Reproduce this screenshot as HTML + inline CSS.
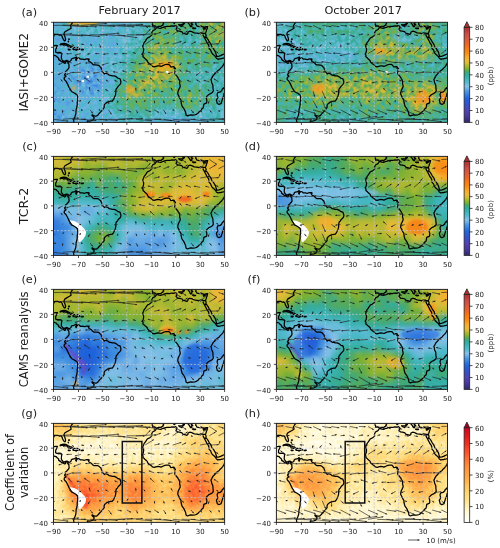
<!DOCTYPE html><html><head><meta charset="utf-8"><title>Ozone maps</title><style>html,body{margin:0;padding:0;background:#fff;width:500px;height:548px;overflow:hidden}
svg{display:block;font-family:'DejaVu Sans','Liberation Sans',sans-serif}
.tk{font-size:7px;fill:#1a1a1a}
.tt{font-size:11.3px;fill:#1a1a1a}
.yl{font-size:11.6px;fill:#1a1a1a}</style></head><body><svg width="500" height="548" viewBox="0 0 500 548"><defs><filter id="bl" x="-5%" y="-5%" width="110%" height="110%"><feGaussianBlur stdDeviation="1.6 1.6"/></filter><filter id="bl2" x="-20%" y="-20%" width="140%" height="140%"><feGaussianBlur stdDeviation="0.9"/></filter><path id="cst" d="M-97 -27.5 -94 -29.6 -91 -29.2 -89.5 -29.2 -89.5 -30.3 -88 -30.4 -86.5 -30.4 -85 -29.7 -84 -30 -83 -29 -82.7 -27.8 -81.8 -26.1 -81.1 -25.2 -80.4 -25.3 -80.1 -26.5 -80.6 -28.4 -81.2 -29.8 -81.4 -31 -80.8 -32.2 -79.2 -33.2 -78 -33.9 -76.6 -34.7 -75.6 -35.3 -75.8 -36.5 -76.1 -37.3 -75.4 -38.3 -75 -39 -74.3 -39.7 -74 -40.6 -73 -41M-95 -30 -97.5 -25 -97.8 -22 -96.5 -19.5 -94.5 -18.2 -92.5 -18.5 -91.2 -18.8 -90.5 -19.8 -90.4 -21 -88 -21.5 -86.8 -21.4 -87.5 -19.5 -88.2 -18.4 -88.3 -16.3 -87.2 -15.8 -85.5 -15.9 -84 -15.7 -83.2 -14.9 -83.5 -13 -83.6 -11.2 -83 -10 -82.2 -9.2 -81.4 -8.8 -80 -9.3 -79 -9.55 -77.8 -8.9 -77.3 -8.5 -76.5 -8.8 -75.6 -9.6 -75.4 -10.6 -74.5 -11.1 -73.2 -11.3 -72.2 -11.9 -71.3 -12.3 -71.1 -11.5 -71.6 -10.9 -71.9 -10.2 -71.4 -9.4 -71.1 -10.5 -70.4 -11.3 -69.8 -11.6 -68.6 -11.2 -68.1 -10.5 -66.4 -10.6 -64.5 -10.2 -63 -10.7 -61.9 -10.7 -61.5 -9.9 -60.8 -8.6 -59.9 -8.3 -58.6 -7.3 -58 -6.5 -57.1 -5.9 -55.9 -5.9 -54 -5.8 -52.9 -5.5 -51.7 -4.2 -51.2 -4 -50.6 -2.1 -50 -1.7 -49.9 -1 -50.7 -0.2 -49.2 0.2 -48.4 1.3 -47.8 0.6 -46.6 0.9 -45.4 1.4 -44.4 2.3 -43.4 2.4 -41.8 2.8 -40.2 2.8 -38.5 3.6 -37.2 4.7 -35.6 5.1 -35.1 6.5 -34.8 7.7 -35.1 9 -35.9 10 -37 11 -37.8 12.3 -38.6 13 -39 14.5 -39 16 -39.2 17.6 -39.7 19.2 -40.3 20.5 -41 21.8 -41.9 22.9 -43.1 22.95 -44.6 23.3 -45.9 23.8 -47.1 24.6 -48.2 25.6 -48.6 26.8 -48.5 28 -49 28.7 -50.1 30.1 -51 31.2 -52.1 32.2 -53.3 33.6 -53.9 34.4 -54.9 34.9 -56.2 34.9 -57.3 34.5 -58.4 33.9 -58.5 34.5 -57.3 35.6 -56.7 36.3 -57 37.2 -57.7 38.1 -59.2 38.7 -61.2 39 -62.1 38.8 -62.3 39.5 -62.1 40.6 -63 41.2M-91 -14 -89.5 -13.6 -88 -13.1 -87.5 -12.9 -87.3 -12.4 -86 -11.4 -85.7 -11 -85.8 -10.2 -85.1 -9.6 -84.7 -9.8 -84.2 -9.2 -83.6 -8.5 -82.9 -8.3 -82.3 -8.1 -81.5 -7.7 -80.9 -7.2 -80.4 -7.4 -80 -7.6 -80.4 -8.2 -79.7 -8.9 -79 -8.9 -78.5 -8.4 -78.1 -8 -78.4 -7.5 -77.9 -7.2 -77.4 -6.6 -77.4 -5.5 -77.2 -4.2 -77.5 -3.4 -78 -2.7 -78.7 -2.1 -79 -1.5 -80 -0.9 -80.4 -0.1 -80.1 0.9 -80.9 1.7 -80.6 2.5 -80 2.6 -79.8 3.2 -80.3 3.5 -81.1 4.1 -81.3 5.2 -80.9 6 -79.9 6.9 -79 8.4 -78.3 9.8 -77.2 12.1 -76.1 13.8 -75.3 15.3 -73.4 16.3 -71.5 17.4 -70.4 18.4 -70.2 20 -70.2 22.5 -70.6 24 -70.6 26.2 -71 28 -71.5 29.8 -71.6 32 -71.8 33.5 -72.3 35 -73.2 37.1 -73.6 38.2 -73.3 39.6 -73.8 41M-5.6 -35.9 -6.3 -35 -6.9 -34.2 -8.6 -33.3 -9.3 -32.5 -9.8 -31 -9.6 -29.9 -10.4 -29.1 -11.7 -28.1 -13 -27.6 -14 -26.3 -14.8 -25 -15.9 -23.7 -16.3 -22.5 -17 -21 -16.5 -19.6 -16.2 -18.3 -16.5 -16.2 -17.1 -14.9 -17.4 -14.7 -16.7 -13.6 -16.8 -12.4 -15.5 -11.4 -15 -10.8 -14.1 -10.1 -13.3 -9.3 -13 -8.2 -11.5 -6.9 -10.4 -6.2 -9 -4.8 -7.6 -4.4 -6.2 -4.8 -4.7 -5.2 -3.3 -5.1 -2 -4.7 -0.5 -5.4 1.1 -6.1 2.7 -6.3 4.3 -6.3 5.3 -5.5 5.9 -4.3 7 -4.4 8.5 -4.6 9.2 -3.9 9.8 -3.1 9.6 -2.3 9.5 -1 9.3 -0.3 9.1 0.5 9.6 1.5 10.9 3.1 11.8 4.2 12.3 5.4 12.9 6 13.3 7.5 13.2 8.8 13.6 10.4 13.7 11.4 12.9 13 12.2 14.4 11.8 15.8 11.7 17.4 12.3 18.5 13.4 20.8 14.3 22.2 14.4 23.9 14.8 25.5 15.2 26.9 16.4 28.5 17.2 29.9 18 31.7 18.3 32.9 18.4 34 19.6 34.8 20.7 34.4 22.5 34 24 34.1 25.7 33.9 26.8 33.6 28.2 32.7 29.3 31.5 30.6 30.4 31.3 29.3 32.4 28.5 32.8 27 32.9 26.1 33 25.4 35 24.6 35.5 23.7 35.4 21.9 34.8 20 35.8 18.8 37 17.7 38.5 17 40 16.1 40.8 14.7 40.5 12.6 40.4 10.3 39.4 8.2 39.2 6.7 38.8 5.9 39.4 4.8 40 3.6 40.9 2.2 41.6 1.7 43 0 44.1 -1 45.6 -2 46.6 -3.2 47.7 -4.2 48.6 -5.3 49.5 -6.8 50.2 -8.4 50.8 -9.5 51.1 -10.6 51.2 -11.8 50.7 -11.9 49.7 -11.5 48.9 -11.3 48 -11.1 46.6 -10.7 45.5 -10.7 44.6 -10.4 43.6 -11 43.1 -11.6 42.7 -12.5 41.5 -13.6 40.9 -14.1 39.7 -15.3 39.3 -15.9 38.5 -18 37.4 -18.9 37.1 -21.1 36.7 -22.2 35.5 -23.8 35.3 -24.4 34.4 -26.1 33.6 -27.6 32.9 -28.7 32.4 -29.9 32.6 -29.3 33.1 -28.4 33.6 -27.9 34.2 -27.8 34.6 -28.6 34.9 -29.5 34.3 -31.2 34.6 -31.8 35 -32.8 35.1 -33.5 35.7 -34.8 35.9 -35.9 36.2 -36.6 35.4 -36.6 34.1 -36.3 32.5 -36.1 31 -36.8 30.2 -36.3 28.5 -36.8 27.4 -37 26.8 -38 26.3 -38.6 26.6 -39.4 26.2 -40.1 26 -41M36 -35.9 35.7 -34.8 35.1 -33.5 35 -32.8 34.6 -31.8 34.3 -31.2 32.9 -31.1 31.7 -31.4 30 -31.5 29 -30.9 27.5 -31.3 25.2 -31.6 23.9 -32.1 23.1 -32.6 21.5 -32.9 20.1 -32.2 19.9 -31 19.1 -30.3 18 -30.8 15.7 -31.4 15.2 -32.3 13.1 -32.9 11.5 -33.1 10.9 -33.8 10.3 -33.8 10.1 -34.3 10.8 -35.1 11 -36.4 10.2 -37.2 9.5 -37.3 8.4 -36.9 6.3 -37.1 5.3 -36.7 3.2 -36.8 1.5 -36.6 0 -35.9 -1.2 -35.7 -2.2 -35.2 -3.6 -35.4 -5.2 -35.8 -5.6 -35.9M34.9 -29.5 34.6 -28.1 35.2 -28 36.6 -26 37.5 -24.3 38.5 -23 39.1 -22 39.2 -21.3 39.9 -20 40.9 -19.1 41.2 -18.4 42 -17.2 42.7 -16 42.8 -15.3 43 -14.6 43.3 -13.7 43.5 -12.7 44.5 -12.7 45.5 -13 46.7 -13.4 48 -14 49.1 -14.5 50.8 -15.2 52 -15.8M-9.5 -41 -8.8 -40 -9.4 -39.4 -9.5 -38.7 -8.8 -38.3 -8.8 -37.2 -8.9 -36.9 -7.5 -37.2 -6.5 -36.9 -6.2 -36.4 -5.4 -36.1 -4.4 -36.7 -2.1 -36.7 -1.4 -37.4 -0.7 -37.6 -0.4 -38.4 0.2 -38.8 -0.3 -39.5 0.2 -40.1 0.9 -41M19 -41 18.5 -40.3 17.9 -40.3 17.2 -40.5 16.5 -39.8 17.1 -39.4 17.2 -38.9 16.6 -38.8 16.1 -38 15.7 -37.9 15.9 -38.7 16.1 -39.4 15.6 -40.1 14.9 -40.2 14.5 -40.7 14 -41M19.5 -41 19.4 -40.3 20 -39.7 20.7 -38.9 21.3 -38.2 21.6 -37.3 22.2 -36.5 23 -36.5 22.8 -37.6 23.4 -38 24 -38.2 22.6 -38.9 23.3 -39.2 22.8 -40 23.9 -40.2 24.5 -40.9M12.4 -37.8 13.8 -37.1 15.1 -36.6 15.3 -37.2 15.6 -38.3 13.7 -38 12.4 -38.1 12.4 -37.8M8.4 -39 9.6 -39.2 9.8 -40.5 9.3 -41.3 8.2 -40.9 8.4 -39M23.5 -35.3 24.5 -35.4 26.3 -35.3 26.2 -35 24.7 -34.9 23.5 -35.3M32.3 -34.6 33 -34.6 34 -35 34.6 -35.7 33 -35.4 32.3 -34.6M49.3 12 49.9 13.1 50.5 15.3 50.2 16 49.5 17.1 49.4 18.5 48.5 20.5 47.9 22.4 47.1 24.9 45.4 25.6 44 24.9 43.7 23.6 43.3 22.1 43.9 21.2 44.4 20.1 44 18.4 43.9 17.4 44.4 16.2 45.5 15.9 46.3 15.8 47.7 14.6 48 13.6 48.8 13 49.3 12M-84.9 -21.9 -84 -22.7 -82.8 -23 -81.4 -23.2 -80.1 -23 -78.7 -22.4 -77.6 -21.8 -76.5 -21.2 -75.6 -21 -74.2 -20.3 -75.6 -19.9 -77.8 -19.9 -77.1 -20.4 -78.1 -20.7 -78.7 -21.6 -80.2 -21.8 -81.4 -22.2 -82.2 -22.4 -83.5 -22.2 -84.9 -21.9M-74.4 -18.4 -73.4 -19.6 -72.8 -19.9 -71.7 -19.7 -70.8 -19.9 -69.9 -19.6 -69.2 -19 -68.4 -18.6 -69.2 -18.4 -70.1 -18.2 -71 -18.3 -71.4 -17.6 -72.1 -18.1 -73.4 -18.2 -74.4 -18.4M-78.3 -18.4 -77.5 -18.5 -76.3 -18.2 -76.9 -17.9 -77.8 -18 -78.3 -18.4M-67.2 -18.5 -65.6 -18.4 -65.7 -18 -67.2 -18 -67.2 -18.5M-78 -26.7 -77 -26.6 -77.2 -26.2 -78 -26.7M-78.2 -25.2 -77.7 -24.3 -77.9 -24.9 -78.2 -25.2M-61.9 -10.1 -61 -10.8 -60.9 -10.1 -61.9 -10.1M8.5 -3.7 8.9 -3.5 8.7 -3.2 8.5 -3.7" fill="none" stroke="#000" stroke-width="1.25" vector-effect="non-scaling-stroke" stroke-linejoin="round"/><path id="grd" d="M-69.55 -40V40M-50 -40V40M-30 -40V40M-10 -40V40M10 -40V40M30 -40V40M-90 -20H50M-90 0H50M-90 20H50" stroke="#c4c4cc" stroke-width=".8" stroke-dasharray="2 1.6" vector-effect="non-scaling-stroke" fill="none"/><filter id="nfa" x="-90" y="-40" width="140" height="80" filterUnits="userSpaceOnUse"><feTurbulence type="fractalNoise" baseFrequency="0.3" numOctaves="2" seed="97"/><feColorMatrix type="matrix" values="0 0 0 0 1 0 0 0 0 1 0 0 0 0 1 2.2 0 0 0 -0.6"/></filter><mask id="nma" maskUnits="userSpaceOnUse" x="-90" y="-40" width="140" height="80"><rect x="-90" y="-40" width="140" height="80" filter="url(#nfa)"/></mask><filter id="nfb" x="-90" y="-40" width="140" height="80" filterUnits="userSpaceOnUse"><feTurbulence type="fractalNoise" baseFrequency="0.3" numOctaves="2" seed="98"/><feColorMatrix type="matrix" values="0 0 0 0 1 0 0 0 0 1 0 0 0 0 1 2.2 0 0 0 -0.6"/></filter><mask id="nmb" maskUnits="userSpaceOnUse" x="-90" y="-40" width="140" height="80"><rect x="-90" y="-40" width="140" height="80" filter="url(#nfb)"/></mask><filter id="nfg" x="-90" y="-40" width="140" height="80" filterUnits="userSpaceOnUse"><feTurbulence type="fractalNoise" baseFrequency="0.35" numOctaves="2" seed="103"/><feColorMatrix type="matrix" values="0 0 0 0 1 0 0 0 0 1 0 0 0 0 1 2.2 0 0 0 -0.6"/></filter><mask id="nmg" maskUnits="userSpaceOnUse" x="-90" y="-40" width="140" height="80"><rect x="-90" y="-40" width="140" height="80" filter="url(#nfg)"/></mask><filter id="nfh" x="-90" y="-40" width="140" height="80" filterUnits="userSpaceOnUse"><feTurbulence type="fractalNoise" baseFrequency="0.35" numOctaves="2" seed="104"/><feColorMatrix type="matrix" values="0 0 0 0 1 0 0 0 0 1 0 0 0 0 1 2.2 0 0 0 -0.6"/></filter><mask id="nmh" maskUnits="userSpaceOnUse" x="-90" y="-40" width="140" height="80"><rect x="-90" y="-40" width="140" height="80" filter="url(#nfh)"/></mask><g id="arfeb"><path d="M-90 -37.5l20.9 -0.34M-82.5 -37.5l20.59 1.02M-75 -37.5l20.38 1.13M-67.5 -37.5l20.97 -1.53M-60 -37.5l20.34 0.71M-52.5 -37.5l21.46 -0.41M-45 -37.5l21.02 1.06M-37.5 -37.5l20.87 -0.79M-30 -37.5l19.37 0.52M-22.5 -37.5l18.73 1.47M-15 -37.5l2.34 1.99M-7.5 -37.5l-0.03 3.14M0 -37.5l1.84 3.06M7.5 -37.5l6.77 3.53M15 -37.5l3.64 2.53M22.5 -37.5l2.42 2.27M30 -37.5l6.38 2.2M37.5 -37.5l6.2 4.08M45 -37.5l4.39 1.4M-90 -30l15.12 -0.76M-82.5 -30l16.84 0.77M-75 -30l15.43 0.53M-67.5 -30l15.35 1.35M-60 -30l14.54 0.22M-52.5 -30l16.22 -1.31M-45 -30l13.69 0.91M-37.5 -30l15.94 2.27M-30 -30l14.67 0.11M-22.5 -30l16.63 -0.79M-15 -30l4.27 -4.55M-7.5 -30l5.42 -2.2M0 -30l4.73 -1.74M7.5 -30l4.7 -3.33M15 -30l4.74 -3.21M22.5 -30l1.54 0.53M30 -30l5.06 -5.57M37.5 -30l5.14 -3.08M45 -30l6.08 -3.12M-90 -22.5l0.25 0.57M-82.5 -22.5l1.47 1.68M-75 -22.5l1.72 1.45M-67.5 -22.5l2.53 0.26M-60 -22.5l1.53 1.15M-52.5 -22.5l1.29 2.75M-45 -22.5l0.14 0.06M-37.5 -22.5l-1 -0.49M-30 -22.5l-0.57 -0.39M-22.5 -22.5l0.46 -0.41M-15 -22.5l7.12 -4.43M-7.5 -22.5l4.45 -0.99M0 -22.5l4.65 -1.24M7.5 -22.5l7.14 -2.16M15 -22.5l3.43 -1.91M22.5 -22.5l4.04 -1.95M30 -22.5l7.89 -1.42M37.5 -22.5l7.42 -0.3M45 -22.5l1.4 -3.42M-90 -15l-3.83 -0.08M-82.5 -15l-4.66 -0.52M-75 -15l-4.41 0.16M-67.5 -15l-5.06 1.39M-60 -15l-2.28 0.58M-52.5 -15l-3.47 0.04M-45 -15l-4.3 0.58M-37.5 -15l-3.08 0.34M-30 -15l-3.97 -0.03M-22.5 -15l-2.46 -0.78M-15 -15l-3.36 0.64M-7.5 -15l-5.38 -1.08M0 -15l-2.7 0.16M7.5 -15l-3.18 -0.89M15 -15l-2.85 -1.05M22.5 -15l-4.32 -1.73M30 -15l-5.22 -0.98M37.5 -15l-3.24 -1M45 -15l-1.66 -1.69M-90 -7.5l-5.58 1.93M-82.5 -7.5l-3.34 1.16M-75 -7.5l-4.29 -0.96M-67.5 -7.5l-6.15 2.41M-60 -7.5l-3.98 -0.05M-52.5 -7.5l-4.56 -0.04M-45 -7.5l-5.26 1.73M-37.5 -7.5l-4.46 1.11M-30 -7.5l-6.15 -0.58M-22.5 -7.5l-4.34 -0.46M-15 -7.5l-5.4 0.75M-7.5 -7.5l-5.41 1.01M0 -7.5l-4.05 0.89M7.5 -7.5l-3.87 -0.39M15 -7.5l-1.97 1.59M22.5 -7.5l-3.26 0.1M30 -7.5l-4.29 1.65M37.5 -7.5l-4.8 -0.85M45 -7.5l-4.37 -0.09M-90 0l-4.13 -1.79M-82.5 0l-3.82 2.03M-75 0l-4.59 1.77M-67.5 0l-7.51 0.13M-60 0l-2.28 -0.53M-52.5 0l-5.14 0.6M-45 0l-2.51 -0.65M-37.5 0l-3.75 -0.41M-30 0l-3.76 -1.39M-22.5 0l-3.17 -0.72M-15 0l-4.99 -1.06M-7.5 0l-4.58 -1.72M0 0l-5.25 -0.32M7.5 0l-3.81 1.04M15 0l-1.84 -2.14M22.5 0l-4.33 -1.35M30 0l-3.37 2.5M37.5 0l-3.51 -0.41M45 0l-3.71 0.75M-90 7.5l-3.16 -1.22M-82.5 7.5l-1.5 -1.81M-75 7.5l-2.86 -3.17M-67.5 7.5l-3.48 -0.98M-60 7.5l-4.92 -3.21M-52.5 7.5l-1.75 -2.47M-45 7.5l-2.09 -1.55M-37.5 7.5l-2.6 -1.14M-30 7.5l-3.08 -1.49M-22.5 7.5l-1.13 -2.06M-15 7.5l-2.92 -0.76M-7.5 7.5l-3.57 -3.25M0 7.5l-2.27 -1.5M7.5 7.5l-3.24 -0.16M15 7.5l-2.93 -2.42M22.5 7.5l-3.3 -1.17M30 7.5l-3.1 -1.55M37.5 7.5l-4.67 -1.16M45 7.5l-3.82 -2.43M-90 15l-2.3 -1.61M-82.5 15l0.31 -0.59M-75 15l-2.11 -1.17M-67.5 15l-1.43 0.18M-60 15l-0.9 -3.25M-52.5 15l-1.72 -0.72M-45 15l-2.62 -1.31M-37.5 15l-2.85 0.31M-30 15l0.03 0.08M-22.5 15l-0.19 -2.69M-15 15l-1.13 -1.58M-7.5 15l0.8 -0.73M0 15l-2.1 0.59M7.5 15l-1.38 -2.64M15 15l-0.33 0.12M22.5 15l-2.4 -0.38M30 15l-1.09 -0.72M37.5 15l-1.18 -1.29M45 15l-1.77 -0.9M-90 22.5l0.71 1.05M-82.5 22.5l1.05 -1.18M-75 22.5l1.15 0.89M-67.5 22.5l-1.45 0.51M-60 22.5l-1.74 2.56M-52.5 22.5l1.45 0.14M-45 22.5l0.3 2.9M-37.5 22.5l0.05 1.72M-30 22.5l1.2 -1.62M-22.5 22.5l0.72 1.84M-15 22.5l-0.86 1.01M-7.5 22.5l0.27 2.26M0 22.5l0.61 2.26M7.5 22.5l1.74 -0.26M15 22.5l1.71 1.49M22.5 22.5l1.06 1.1M30 22.5l0.03 1.34M37.5 22.5l-1.01 2.6M45 22.5l1.38 1.17M-90 30l2.15 0.28M-82.5 30l-0.08 2.32M-75 30l2.1 0.98M-67.5 30l1.47 0.25M-60 30l2.14 2.81M-52.5 30l0.84 0.51M-45 30l2.43 3.59M-37.5 30l3.44 0.74M-30 30l3.43 1.86M-22.5 30l1.56 2.71M-15 30l4.79 1.63M-7.5 30l3.71 2.16M0 30l2.09 3.33M7.5 30l1.46 0.3M15 30l0.47 0.2M22.5 30l2.28 2.62M30 30l1.33 1.95M37.5 30l1.84 2.04M45 30l0.96 1.77M-90 37.5l12.13 1.47M-82.5 37.5l13.25 -1.01M-75 37.5l11.56 0M-67.5 37.5l12.56 1.11M-60 37.5l14.27 0.59M-52.5 37.5l15.01 0.89M-45 37.5l13.74 0.26M-37.5 37.5l12.44 -0.67M-30 37.5l13.12 -0.69M-22.5 37.5l13.25 1.24M-15 37.5l13.18 -0.06M-7.5 37.5l14.39 1.03M0 37.5l13.26 1.96M7.5 37.5l14.04 1.23M15 37.5l11.24 0.07M22.5 37.5l14.56 1.74M30 37.5l12.06 0.85M37.5 37.5l12.01 -0.43M45 37.5l12.38 0.82" stroke="#1e1e1e" stroke-width=".65" vector-effect="non-scaling-stroke" fill="none"/><path d="M-69.1 -37.84L-70.49 -37.22L-70.51 -38.42zM-61.91 -36.48L-63.34 -35.95L-63.28 -37.15zM-54.62 -36.37L-56.05 -35.85L-55.98 -37.05zM-46.53 -39.03L-47.88 -38.33L-47.97 -39.52zM-39.66 -36.79L-41.08 -36.24L-41.04 -37.44zM-31.04 -37.91L-32.43 -37.28L-32.45 -38.48zM-23.98 -36.44L-25.41 -35.91L-25.35 -37.11zM-16.63 -38.29L-18.01 -37.64L-18.06 -38.84zM-10.63 -36.98L-12.05 -36.42L-12.02 -37.62zM-3.77 -36.03L-5.21 -35.54L-5.12 -36.74zM-12.66 -35.51L-14.11 -35.96L-13.34 -36.88zM-7.53 -34.36L-8.12 -35.76L-6.92 -35.75zM1.84 -34.44L0.61 -35.33L1.63 -35.95zM14.27 -33.97L12.75 -34.09L13.3 -35.15zM18.64 -34.97L17.15 -35.27L17.83 -36.26zM24.92 -35.23L23.49 -35.75L24.31 -36.63zM36.38 -35.3L34.86 -35.19L35.26 -36.32zM43.7 -33.42L42.2 -33.69L42.86 -34.69zM49.39 -36.1L47.88 -35.95L48.24 -37.1zM-74.88 -30.76L-76.24 -30.09L-76.3 -31.29zM-65.66 -29.23L-67.09 -28.69L-67.03 -29.89zM-59.57 -29.47L-60.99 -28.92L-60.95 -30.12zM-52.15 -28.65L-53.6 -28.17L-53.5 -29.37zM-45.46 -29.78L-46.87 -29.2L-46.85 -30.4zM-36.28 -31.31L-37.62 -30.6L-37.72 -31.79zM-31.31 -29.09L-32.75 -28.59L-32.67 -29.79zM-21.56 -27.73L-23.03 -27.33L-22.86 -28.52zM-15.33 -29.89L-16.73 -29.3L-16.72 -30.5zM-5.87 -30.79L-7.24 -30.12L-7.29 -31.32zM-10.73 -34.55L-11.25 -33.12L-12.12 -33.94zM-2.08 -32.2L-3.15 -31.12L-3.6 -32.23zM4.73 -31.74L3.62 -30.7L3.21 -31.82zM12.2 -33.33L11.41 -32.03L10.71 -33.01zM19.74 -33.21L18.92 -31.92L18.24 -32.92zM24.04 -29.47L22.52 -29.36L22.91 -30.49zM35.06 -35.57L34.56 -34.13L33.68 -34.94zM42.64 -33.08L41.75 -31.84L41.13 -32.87zM51.08 -33.12L50.11 -31.94L49.57 -33.01zM-81.03 -20.82L-82.41 -21.48L-81.5 -22.27zM-73.28 -21.05L-74.74 -21.49L-73.96 -22.41zM-64.97 -22.24L-66.42 -21.79L-66.3 -22.98zM-58.47 -21.35L-59.95 -21.71L-59.23 -22.67zM-51.21 -19.75L-52.35 -20.76L-51.26 -21.27zM-38.5 -22.99L-36.98 -22.91L-37.51 -21.84zM-7.88 -26.93L-8.75 -25.68L-9.38 -26.7zM-3.05 -23.49L-4.29 -22.6L-4.55 -23.77zM4.65 -23.74L3.46 -22.8L3.15 -23.96zM14.64 -24.66L13.47 -23.68L13.12 -24.83zM18.43 -24.41L17.5 -23.2L16.92 -24.25zM26.54 -24.45L25.54 -23.3L25.02 -24.38zM37.89 -23.92L36.62 -23.08L36.41 -24.26zM44.92 -22.8L43.55 -22.15L43.5 -23.35zM46.4 -25.92L46.43 -24.4L45.32 -24.85zM-93.83 -15.08L-92.41 -15.65L-92.44 -14.45zM-87.16 -15.52L-85.7 -15.96L-85.83 -14.77zM-79.41 -14.84L-78.04 -15.49L-77.99 -14.29zM-72.56 -13.61L-71.37 -14.56L-71.05 -13.4zM-62.28 -14.42L-61.07 -15.35L-60.77 -14.18zM-55.97 -14.96L-54.57 -15.58L-54.56 -14.38zM-49.3 -14.42L-48 -15.2L-47.84 -14.01zM-40.58 -14.66L-39.26 -15.41L-39.12 -14.21zM-33.97 -15.03L-32.57 -15.62L-32.58 -14.42zM-24.96 -15.78L-23.44 -15.93L-23.8 -14.78zM-18.36 -14.36L-17.1 -15.21L-16.88 -14.03zM-12.88 -16.08L-11.38 -16.39L-11.62 -15.22zM-2.7 -14.84L-1.34 -15.52L-1.27 -14.32zM4.32 -15.89L5.83 -16.09L5.5 -14.94zM12.15 -16.05L13.67 -16.13L13.25 -15zM18.18 -16.73L19.7 -16.76L19.26 -15.65zM24.78 -15.98L26.27 -16.31L26.04 -15.13zM34.26 -16L35.78 -16.16L35.42 -15.01zM43.34 -16.69L44.75 -16.11L43.89 -15.27zM-95.58 -5.57L-94.45 -6.6L-94.06 -5.46zM-85.84 -6.34L-84.72 -7.37L-84.32 -6.23zM-79.29 -8.46L-77.79 -8.74L-78.05 -7.57zM-73.65 -5.09L-72.56 -6.16L-72.13 -5.05zM-63.98 -7.55L-62.57 -8.13L-62.59 -6.93zM-57.06 -7.54L-55.65 -8.13L-55.66 -6.93zM-50.26 -5.77L-49.11 -6.78L-48.74 -5.64zM-41.96 -6.39L-40.75 -7.31L-40.46 -6.15zM-36.15 -8.08L-34.7 -8.54L-34.81 -7.35zM-26.84 -7.96L-25.39 -8.41L-25.52 -7.22zM-20.4 -6.75L-19.1 -7.54L-18.93 -6.35zM-12.91 -6.49L-11.65 -7.34L-11.43 -6.16zM-4.05 -6.61L-2.81 -7.49L-2.56 -6.32zM3.63 -7.89L5.08 -8.34L4.96 -7.15zM13.03 -5.91L13.75 -7.26L14.5 -6.32zM19.24 -7.4L20.62 -8.04L20.66 -6.84zM25.71 -5.85L26.8 -6.91L27.23 -5.79zM32.7 -8.35L34.18 -8.69L33.97 -7.51zM40.63 -7.59L42.04 -8.16L42.02 -6.96zM-94.13 -1.79L-92.61 -1.78L-93.09 -0.68zM-86.32 2.03L-85.37 0.85L-84.81 1.91zM-79.59 1.77L-78.5 0.71L-78.07 1.83zM-75.01 0.13L-73.62 -0.49L-73.6 0.71zM-62.28 -0.53L-60.78 -0.8L-61.05 0.37zM-57.64 0.6L-56.32 -0.16L-56.18 1.03zM-47.51 -0.65L-46.01 -0.88L-46.31 0.28zM-41.25 -0.41L-39.79 -0.86L-39.92 0.34zM-33.76 -1.39L-32.23 -1.47L-32.65 -0.34zM-25.67 -0.72L-24.17 -1L-24.44 0.17zM-19.99 -1.06L-18.49 -1.35L-18.74 -0.18zM-12.08 -1.72L-10.56 -1.79L-10.98 -0.67zM-5.25 -0.32L-3.82 -0.83L-3.89 0.37zM3.69 1.04L4.89 0.09L5.2 1.25zM13.16 -2.14L14.53 -1.47L13.62 -0.69zM18.17 -1.35L19.69 -1.51L19.33 -0.36zM26.63 2.5L27.4 1.19L28.11 2.15zM33.99 -0.41L35.44 -0.84L35.31 0.35zM41.29 0.75L42.55 -0.11L42.79 1.06zM-93.16 6.28L-91.63 6.22L-92.07 7.34zM-84 5.69L-82.64 6.39L-83.56 7.15zM-77.86 4.33L-76.47 4.97L-77.36 5.77zM-70.98 6.52L-69.47 6.32L-69.8 7.48zM-64.92 4.29L-63.42 4.55L-64.08 5.55zM-54.25 5.03L-52.95 5.83L-53.93 6.52zM-47.09 5.95L-45.61 6.3L-46.32 7.27zM-40.1 6.36L-38.58 6.37L-39.06 7.47zM-33.08 6.01L-31.56 6.08L-32.08 7.16zM-23.63 5.44L-22.43 6.38L-23.48 6.96zM-17.92 6.74L-16.41 6.51L-16.71 7.67zM-11.07 4.25L-9.63 4.75L-10.44 5.63zM-2.27 6L-0.77 6.27L-1.44 7.27zM4.26 7.34L5.68 6.81L5.62 8.01zM12.07 5.08L13.53 5.51L12.77 6.43zM19.2 6.33L20.72 6.24L20.32 7.37zM26.9 5.95L28.42 6.04L27.88 7.11zM32.83 6.34L34.34 6.1L34.05 7.26zM41.18 5.07L42.68 5.31L42.03 6.32zM-92.3 13.39L-90.81 13.7L-91.5 14.69zM-77.11 13.83L-75.6 13.98L-76.18 15.03zM-68.93 15.18L-67.61 14.41L-67.46 15.6zM-60.9 11.75L-59.95 12.94L-61.1 13.26zM-54.22 14.28L-52.7 14.27L-53.16 15.37zM-47.62 13.69L-46.1 13.78L-46.63 14.85zM-40.35 15.31L-39.02 14.56L-38.89 15.76zM-22.69 12.31L-21.99 13.67L-23.19 13.75zM-16.13 13.42L-14.83 14.21L-15.8 14.91zM-6.7 14.27L-7.33 15.66L-8.14 14.77zM-2.1 15.59L-0.92 14.64L-0.59 15.79zM6.12 12.36L7.3 13.33L6.24 13.88zM20.1 14.62L21.58 14.25L21.39 15.43zM28.91 14.28L30.41 14.55L29.75 15.55zM36.32 13.71L37.71 14.34L36.82 15.15zM43.23 14.1L44.75 14.2L44.21 15.27zM-89.29 23.55L-90.57 22.72L-89.58 22.05zM-81.45 21.32L-81.93 22.76L-82.83 21.97zM-73.85 23.39L-75.33 23.01L-74.59 22.06zM-68.95 23.01L-67.82 21.98L-67.43 23.11zM-61.74 25.06L-61.45 23.56L-60.46 24.24zM-51.05 22.64L-52.5 23.1L-52.38 21.91zM-44.7 25.4L-45.44 24.07L-44.25 23.94zM-37.45 24.22L-38.09 22.84L-36.89 22.81zM-28.8 20.88L-29.15 22.36L-30.11 21.64zM-21.78 24.34L-22.85 23.25L-21.73 22.82zM-15.86 23.51L-15.41 22.06L-14.5 22.83zM-7.23 24.76L-7.99 23.44L-6.8 23.3zM0.61 24.76L-0.34 23.57L0.82 23.25zM9.24 22.24L7.95 23.04L7.77 21.85zM16.71 23.99L15.26 23.52L16.05 22.62zM23.56 23.6L22.16 23.01L23.02 22.18zM30.03 23.84L29.4 22.45L30.6 22.42zM36.49 25.1L36.44 23.57L37.56 24.01zM46.38 23.67L44.92 23.22L45.7 22.31zM-87.85 30.28L-89.32 30.69L-89.16 29.51zM-82.58 32.32L-83.13 30.9L-81.93 30.94zM-72.9 30.98L-74.42 30.93L-73.92 29.84zM-66.03 30.25L-67.51 30.61L-67.31 29.42zM-57.86 32.81L-59.19 32.06L-58.23 31.33zM-51.66 30.51L-53.17 30.3L-52.55 29.27zM-42.57 33.59L-43.85 32.77L-42.86 32.09zM-34.06 30.74L-35.56 31.03L-35.31 29.86zM-26.57 31.86L-28.09 31.72L-27.51 30.67zM-20.94 32.71L-22.16 31.8L-21.12 31.2zM-10.21 31.63L-11.73 31.74L-11.34 30.61zM-3.79 32.16L-5.3 31.98L-4.7 30.94zM2.09 33.33L0.83 32.46L1.85 31.83zM8.96 30.3L7.47 30.61L7.71 29.43zM24.78 32.62L23.41 31.96L24.32 31.17zM31.33 31.95L30.04 31.13L31.04 30.45zM39.34 32.04L37.96 31.4L38.85 30.6zM45.96 31.77L44.76 30.83L45.82 30.26zM-77.87 38.97L-79.33 39.4L-79.19 38.21zM-69.25 36.49L-70.61 37.2L-70.7 36zM-63.44 37.5L-64.84 38.1L-64.84 36.9zM-54.94 38.61L-56.39 39.09L-56.28 37.89zM-45.73 38.09L-47.15 38.63L-47.1 37.43zM-37.49 38.39L-38.92 38.91L-38.85 37.71zM-31.26 37.76L-32.67 38.33L-32.65 37.13zM-25.06 36.83L-26.43 37.5L-26.49 36.31zM-16.88 36.81L-18.24 37.48L-18.31 36.29zM-9.25 38.74L-10.7 39.2L-10.59 38.01zM-1.82 37.44L-3.21 38.05L-3.22 36.85zM6.89 38.53L5.45 39.03L5.54 37.83zM13.26 39.46L11.78 39.85L11.96 38.66zM21.54 38.73L20.1 39.21L20.2 38.01zM26.24 37.57L24.84 38.16L24.84 36.96zM37.06 39.24L35.6 39.67L35.74 38.48zM42.06 38.35L40.62 38.85L40.71 37.65zM49.51 37.07L48.13 37.72L48.09 36.52zM57.38 38.32L55.94 38.83L56.02 37.63z" fill="#1e1e1e"/></g><g id="aroct"><path d="M-90 -37.5l5.74 -0.6M-82.5 -37.5l7.1 1.53M-75 -37.5l5.36 1.55M-67.5 -37.5l6.35 1.01M-60 -37.5l6.55 3.06M-52.5 -37.5l7.49 1.06M-45 -37.5l6.48 1.11M-37.5 -37.5l5.27 0.42M-30 -37.5l6.64 1.18M-22.5 -37.5l5.53 0.17M-15 -37.5l4.71 2.68M-7.5 -37.5l6.15 1.71M0 -37.5l3.51 1.88M7.5 -37.5l5.17 2.31M15 -37.5l4 0.91M22.5 -37.5l6.72 1.22M30 -37.5l4.85 0.51M37.5 -37.5l6.52 1.29M45 -37.5l6.32 -0.24M-90 -30l2.61 0.93M-82.5 -30l3.25 -0.28M-75 -30l4.1 1.46M-67.5 -30l2.1 0.96M-60 -30l0.87 -0.14M-52.5 -30l3.45 0.84M-45 -30l4.43 -0.94M-37.5 -30l3.57 -0.46M-30 -30l3.94 1.52M-22.5 -30l3.55 -0.69M-15 -30l0.83 -0.4M-7.5 -30l2.56 -0.89M0 -30l2.35 0.02M7.5 -30l3.24 1M15 -30l3.53 0.12M22.5 -30l3.41 0.59M30 -30l4.09 -0.69M37.5 -30l2.65 -0.72M45 -30l4.29 -2.04M-90 -22.5l-3.69 -0.53M-82.5 -22.5l-1.37 0.58M-75 -22.5l-3.05 -0.96M-67.5 -22.5l-3.34 -0.17M-60 -22.5l-0.42 2.3M-52.5 -22.5l-2.24 1.97M-45 -22.5l-1.62 -1.25M-37.5 -22.5l0.41 2.5M-30 -22.5l-2.56 -0.33M-22.5 -22.5l-0.1 -0.01M-15 -22.5l-2.75 0.14M-7.5 -22.5l-1.92 0.71M0 -22.5l-2.74 0.03M7.5 -22.5l-1.55 0.58M15 -22.5l-2.15 1.94M22.5 -22.5l-2.45 -0.9M30 -22.5l-2.12 2.12M37.5 -22.5l-0.38 -0.13M45 -22.5l0.5 0.4M-90 -15l-6.23 1.65M-82.5 -15l-4.19 -2.93M-75 -15l-6.64 0.74M-67.5 -15l-5.02 0.95M-60 -15l-6.01 0.4M-52.5 -15l-5.48 -1.25M-45 -15l-5.67 -1.05M-37.5 -15l-6.18 -0.37M-30 -15l-8.14 1.65M-22.5 -15l-4.79 0.67M-15 -15l6.01 -3.62M-7.5 -15l4.09 -2.16M0 -15l4.23 -2.76M7.5 -15l2.92 -2.78M15 -15l5.3 -2.24M22.5 -15l5.47 -4.59M30 -15l5.12 -3.29M37.5 -15l4.94 -3.02M45 -15l4.04 -2.97M-90 -7.5l-7.18 -0.71M-82.5 -7.5l-5.72 -0.35M-75 -7.5l-6.29 -0.11M-67.5 -7.5l-7.16 0.19M-60 -7.5l-7.22 -0.44M-52.5 -7.5l-6.63 -0.66M-45 -7.5l-8.16 -1.01M-37.5 -7.5l-7.52 0.84M-30 -7.5l-6.88 0.64M-22.5 -7.5l-6.32 0.65M-15 -7.5l-7.87 0.96M-7.5 -7.5l-5.15 -0.05M0 -7.5l-7.98 -0.01M7.5 -7.5l-8.42 -2.04M15 -7.5l-8.39 -0.55M22.5 -7.5l-6.03 1.65M30 -7.5l-6.31 -1.14M37.5 -7.5l-6.12 -0.3M45 -7.5l-5.57 -0.18M-90 0l-6.27 -0.33M-82.5 0l-5.93 0.6M-75 0l-5.75 0.1M-67.5 0l-7.89 -0.89M-60 0l-4.72 -1.57M-52.5 0l-7.24 -1.27M-45 0l-7.17 -0.33M-37.5 0l-6.55 2.17M-30 0l-6.43 0.7M-22.5 0l-7.45 1.21M-15 0l-8.38 0.6M-7.5 0l-5.71 -2.37M0 0l-6.68 -1.72M7.5 0l-6.95 1.7M15 0l-6.48 -0.98M22.5 0l-7.14 -0.82M30 0l-6 0.51M37.5 0l-8.33 -0.22M45 0l-6.89 -0.07M-90 7.5l-3.62 -2.44M-82.5 7.5l-5.22 -1.27M-75 7.5l-3.68 -1.29M-67.5 7.5l-3.56 -0.03M-60 7.5l-3.91 -2.78M-52.5 7.5l-3.83 0.23M-45 7.5l-4.06 -1.91M-37.5 7.5l-4.33 0.17M-30 7.5l-2.99 0.95M-22.5 7.5l-4.18 -0.46M-15 7.5l-6.11 -1.87M-7.5 7.5l-4.35 0.86M0 7.5l-4.06 0.02M7.5 7.5l-6.92 0.31M15 7.5l-4.45 -1.2M22.5 7.5l-4.56 -0.53M30 7.5l-4.21 -0.23M37.5 7.5l-3.41 -0.64M45 7.5l-4.41 -1.09M-90 15l-4.06 1.76M-82.5 15l-1.11 0.57M-75 15l-3.17 0.56M-67.5 15l-3.4 0.63M-60 15l1.35 4.44M-52.5 15l2.64 6.05M-45 15l3.23 2.26M-37.5 15l-4.31 0.57M-30 15l-3.2 0.73M-22.5 15l-4.92 2.26M-15 15l-2.33 0.99M-7.5 15l-0.99 1.75M0 15l-2.65 -2.37M7.5 15l-3.72 1.98M15 15l-2.89 1M22.5 15l-1.89 0.8M30 15l-3.71 0.71M37.5 15l0.16 -0.5M45 15l-6.02 1.11M-90 22.5l0.9 1.19M-82.5 22.5l1.7 -0.3M-75 22.5l2.96 0.88M-67.5 22.5l2.11 1.95M-60 22.5l3.36 6.03M-52.5 22.5l2.78 6.45M-45 22.5l0.2 4.73M-37.5 22.5l2.55 2.14M-30 22.5l3.09 1.4M-22.5 22.5l2.32 4.72M-15 22.5l1.63 1.29M-7.5 22.5l3.74 -0.2M0 22.5l3.53 3.22M7.5 22.5l-0.61 1.25M15 22.5l1.93 0.8M22.5 22.5l1.76 1.65M30 22.5l0.19 1.39M37.5 22.5l1.39 1.5M45 22.5l2.42 2.03M-90 30l7.96 2.87M-82.5 30l8.47 2.28M-75 30l6.98 3.52M-67.5 30l9.59 2.97M-60 30l8.73 2.4M-52.5 30l6.96 3.7M-45 30l7.74 2.56M-37.5 30l8.3 4.29M-30 30l6.92 2.96M-22.5 30l9.42 5.54M-15 30l8.1 3.47M-7.5 30l8.09 3.41M0 30l8.02 1.07M7.5 30l8 2.36M15 30l8.03 3.71M22.5 30l8.22 3.09M30 30l6.67 2.89M37.5 30l7.34 1.99M45 30l7.55 3.45M-90 37.5l15.91 -1.13M-82.5 37.5l15.7 -0.69M-75 37.5l14.12 0.48M-67.5 37.5l13.93 -1.08M-60 37.5l14.38 1.69M-52.5 37.5l14.21 1.61M-45 37.5l14.44 1.37M-37.5 37.5l12.81 -0.14M-30 37.5l14.16 1.89M-22.5 37.5l15.1 -2.47M-15 37.5l12.56 -2.07M-7.5 37.5l13.47 0.56M0 37.5l14.05 1.65M7.5 37.5l15.73 -0.56M15 37.5l13.39 0.32M22.5 37.5l12.52 0.4M30 37.5l15.32 1.96M37.5 37.5l13.75 -0.17M45 37.5l15.44 -1.54" stroke="#1e1e1e" stroke-width=".65" vector-effect="non-scaling-stroke" fill="none"/><path d="M-84.26 -38.1L-85.59 -37.36L-85.72 -38.55zM-75.4 -35.97L-76.9 -35.68L-76.65 -36.85zM-69.64 -35.95L-71.15 -35.76L-70.82 -36.91zM-61.15 -36.49L-62.63 -36.11L-62.44 -37.3zM-53.45 -34.44L-54.97 -34.49L-54.46 -35.58zM-45.01 -36.44L-46.48 -36.04L-46.32 -37.23zM-38.52 -36.39L-40.01 -36.04L-39.8 -37.22zM-32.23 -37.08L-33.68 -36.59L-33.58 -37.79zM-23.36 -36.32L-24.84 -35.97L-24.63 -37.15zM-16.97 -37.33L-18.39 -36.77L-18.36 -37.97zM-10.29 -34.82L-11.81 -34.99L-11.21 -36.04zM-1.35 -35.79L-2.86 -35.58L-2.54 -36.74zM3.51 -35.62L1.99 -35.75L2.56 -36.81zM12.67 -35.19L11.14 -35.21L11.63 -36.31zM19 -36.59L17.5 -36.32L17.77 -37.49zM29.22 -36.28L27.74 -35.94L27.95 -37.12zM34.85 -36.99L33.4 -36.54L33.52 -37.73zM44.02 -36.21L42.53 -35.89L42.76 -37.07zM51.32 -37.74L49.94 -37.09L49.9 -38.29zM-87.39 -29.07L-88.91 -28.98L-88.5 -30.11zM-79.25 -30.28L-80.6 -29.56L-80.7 -30.76zM-70.9 -28.54L-72.42 -28.44L-72.01 -29.57zM-65.4 -29.04L-66.93 -29.08L-66.43 -30.17zM-59.13 -30.14L-60.41 -29.32L-60.61 -30.51zM-49.05 -29.16L-50.55 -28.91L-50.27 -30.07zM-40.57 -30.94L-41.82 -30.06L-42.06 -31.23zM-33.93 -30.46L-35.25 -29.68L-35.4 -30.87zM-26.06 -28.48L-27.58 -28.43L-27.15 -29.54zM-18.95 -30.69L-20.21 -29.83L-20.44 -31.01zM-14.17 -30.4L-15.17 -29.25L-15.69 -30.34zM-4.94 -30.89L-6.06 -29.86L-6.45 -31zM2.35 -29.98L0.94 -29.39L0.95 -30.59zM10.74 -29L9.23 -28.84L9.58 -29.99zM18.53 -29.88L17.11 -29.33L17.15 -30.53zM25.91 -29.41L24.43 -29.05L24.64 -30.24zM34.09 -30.69L32.81 -29.87L32.61 -31.05zM40.15 -30.72L38.95 -29.77L38.64 -30.93zM49.29 -32.04L48.28 -30.9L47.76 -31.98zM-93.69 -23.03L-92.22 -23.43L-92.39 -22.24zM-83.87 -21.92L-82.82 -23.02L-82.35 -21.91zM-78.05 -23.46L-76.53 -23.61L-76.89 -22.47zM-70.84 -22.67L-69.41 -23.2L-69.47 -22zM-60.42 -20.2L-60.76 -21.69L-59.58 -21.47zM-54.74 -20.53L-54.09 -21.91L-53.3 -21zM-46.62 -23.75L-45.15 -23.37L-45.88 -22.42zM-37.09 -20L-37.91 -21.28L-36.73 -21.48zM-32.56 -22.83L-31.09 -23.24L-31.24 -22.05zM-17.75 -22.36L-16.38 -23.03L-16.32 -21.83zM-9.42 -21.79L-8.31 -22.84L-7.9 -21.71zM-2.74 -22.47L-1.34 -23.08L-1.33 -21.88zM5.95 -21.92L7.05 -22.97L7.47 -21.85zM12.85 -20.56L13.49 -21.94L14.29 -21.05zM20.05 -23.4L21.57 -23.48L21.15 -22.35zM27.88 -20.38L28.45 -21.8L29.3 -20.95zM-96.23 -13.35L-95.03 -14.29L-94.72 -13.13zM-86.69 -17.93L-85.2 -17.62L-85.89 -16.64zM-81.64 -14.26L-80.31 -15.01L-80.18 -13.82zM-72.52 -14.05L-71.26 -14.9L-71.03 -13.72zM-66.01 -14.6L-64.65 -15.29L-64.57 -14.1zM-57.98 -16.25L-56.48 -16.52L-56.75 -15.35zM-50.67 -16.05L-49.19 -16.38L-49.41 -15.2zM-43.68 -15.37L-42.25 -15.89L-42.32 -14.69zM-38.14 -13.35L-36.89 -14.21L-36.65 -13.04zM-27.29 -14.33L-25.99 -15.12L-25.82 -13.93zM-8.99 -18.62L-9.88 -17.38L-10.5 -18.41zM-3.41 -17.16L-4.37 -15.97L-4.93 -17.03zM4.23 -17.76L3.39 -16.49L2.73 -17.5zM10.42 -17.78L9.82 -16.38L8.99 -17.25zM20.3 -17.24L19.24 -16.14L18.78 -17.25zM27.97 -19.59L27.28 -18.23L26.51 -19.15zM35.12 -18.29L34.26 -17.02L33.61 -18.03zM42.44 -18.02L41.56 -16.77L40.93 -17.8zM49.04 -17.97L48.27 -16.66L47.56 -17.62zM-97.18 -8.21L-95.73 -8.67L-95.85 -7.47zM-88.22 -7.85L-86.78 -8.36L-86.86 -7.17zM-81.29 -7.61L-79.88 -8.18L-79.9 -6.98zM-74.66 -7.31L-73.28 -7.95L-73.25 -6.75zM-67.22 -7.94L-65.78 -8.46L-65.85 -7.26zM-59.13 -8.16L-57.68 -8.62L-57.8 -7.43zM-53.16 -8.51L-51.7 -8.94L-51.85 -7.74zM-45.02 -6.66L-43.69 -7.41L-43.56 -6.22zM-36.88 -6.86L-35.54 -7.59L-35.43 -6.39zM-28.82 -6.85L-27.49 -7.59L-27.36 -6.39zM-22.87 -6.54L-21.55 -7.3L-21.41 -6.11zM-12.65 -7.55L-11.25 -8.14L-11.26 -6.94zM-7.98 -7.51L-6.58 -8.11L-6.58 -6.91zM-0.92 -9.54L0.58 -9.79L0.3 -8.63zM6.61 -8.05L8.05 -8.55L7.97 -7.36zM16.47 -5.85L17.66 -6.8L17.98 -5.64zM23.69 -8.64L25.18 -8.98L24.96 -7.8zM31.38 -7.8L32.81 -8.33L32.75 -7.13zM39.43 -7.68L40.85 -8.24L40.81 -7.04zM-96.27 -0.33L-94.84 -0.86L-94.9 0.34zM-88.43 0.6L-87.1 -0.14L-86.98 1.05zM-80.75 0.1L-79.36 -0.52L-79.34 0.68zM-75.39 -0.89L-73.93 -1.33L-74.07 -0.14zM-64.72 -1.57L-63.2 -1.7L-63.58 -0.56zM-59.74 -1.27L-58.26 -1.62L-58.46 -0.44zM-52.17 -0.33L-50.74 -0.87L-50.8 0.33zM-44.05 2.17L-42.91 1.16L-42.53 2.3zM-36.43 0.7L-35.1 -0.05L-34.97 1.14zM-29.95 1.21L-28.66 0.39L-28.47 1.57zM-23.38 0.6L-22.03 -0.1L-21.94 1.1zM-13.21 -2.37L-11.69 -2.39L-12.15 -1.28zM-6.68 -1.72L-5.17 -1.95L-5.47 -0.79zM0.55 1.7L1.77 0.79L2.05 1.95zM8.52 -0.98L10 -1.37L9.82 -0.18zM15.36 -0.82L16.82 -1.26L16.68 -0.06zM24 0.51L25.35 -0.21L25.45 0.99zM29.17 -0.22L30.58 -0.79L30.55 0.41zM38.11 -0.07L39.52 -0.66L39.5 0.54zM-93.62 5.06L-92.13 5.34L-92.8 6.34zM-87.72 6.23L-86.22 5.98L-86.51 7.14zM-78.68 6.21L-77.16 6.11L-77.55 7.24zM-71.06 7.47L-69.65 6.88L-69.66 8.08zM-63.91 4.72L-62.42 5.04L-63.11 6.02zM-56.33 7.73L-54.97 7.05L-54.9 8.25zM-49.06 5.59L-47.54 5.64L-48.05 6.73zM-41.83 7.67L-40.45 7.01L-40.41 8.21zM-32.99 8.45L-31.84 7.45L-31.47 8.6zM-26.68 7.04L-25.22 6.6L-25.35 7.79zM-21.11 5.63L-19.6 5.47L-19.95 6.62zM-11.85 8.36L-10.6 7.5L-10.36 8.67zM-4.06 7.52L-2.67 6.91L-2.66 8.11zM0.58 7.81L1.95 7.15L2.01 8.35zM10.55 6.3L12.06 6.09L11.75 7.24zM17.94 6.97L19.4 6.54L19.26 7.73zM25.79 7.27L27.22 6.74L27.15 7.94zM34.09 6.86L35.58 6.53L35.36 7.71zM40.59 6.41L42.09 6.16L41.8 7.33zM-94.06 16.76L-93.01 15.65L-92.53 16.75zM-83.61 15.57L-82.64 14.4L-82.09 15.46zM-78.17 15.56L-76.9 14.73L-76.69 15.91zM-70.9 15.63L-69.63 14.79L-69.41 15.97zM-58.65 19.44L-59.63 18.27L-58.48 17.92zM-49.86 21.05L-50.97 20.01L-49.87 19.53zM-41.77 17.26L-43.26 16.95L-42.58 15.96zM-41.81 15.57L-40.5 14.79L-40.34 15.98zM-33.2 15.73L-31.97 14.83L-31.71 16zM-27.42 17.26L-26.39 16.13L-25.89 17.22zM-17.33 15.99L-16.27 14.89L-15.8 16zM-8.49 16.75L-8.32 15.24L-7.28 15.83zM-2.65 12.63L-1.21 13.12L-2.01 14.01zM3.78 16.98L4.73 15.79L5.3 16.85zM12.11 16L13.24 14.98L13.63 16.11zM20.61 15.8L21.67 14.7L22.14 15.81zM26.29 15.71L27.55 14.86L27.78 16.04zM38.98 16.11L40.25 15.27L40.46 16.45zM-89.1 23.69L-90.42 22.94L-89.47 22.21zM-80.8 22.2L-82.07 23.03L-82.28 21.85zM-72.04 23.38L-73.55 23.56L-73.21 22.41zM-65.39 24.45L-66.82 23.94L-66.01 23.06zM-56.64 28.53L-57.85 27.6L-56.8 27.02zM-49.72 28.95L-50.83 27.9L-49.73 27.43zM-44.8 27.23L-45.46 25.86L-44.26 25.81zM-34.95 24.64L-36.41 24.2L-35.64 23.28zM-26.91 23.9L-28.43 23.87L-27.94 22.78zM-20.18 27.22L-21.33 26.23L-20.26 25.7zM-13.37 23.79L-14.84 23.4L-14.09 22.45zM-3.76 22.3L-5.13 22.98L-5.19 21.78zM3.53 25.72L2.09 25.22L2.9 24.34zM6.89 23.75L6.97 22.23L8.04 22.75zM16.93 23.3L15.41 23.32L15.87 22.21zM24.26 24.15L22.83 23.63L23.65 22.75zM30.19 23.89L29.41 22.58L30.59 22.42zM38.89 24L37.5 23.38L38.38 22.57zM47.42 24.53L45.97 24.09L46.74 23.17zM-82.04 32.87L-83.56 32.96L-83.15 31.83zM-74.03 32.28L-75.54 32.49L-75.23 31.33zM-68.02 33.52L-69.54 33.43L-69 32.35zM-57.91 32.97L-59.43 33.13L-59.07 31.98zM-51.27 32.4L-52.78 32.61L-52.46 31.45zM-45.54 33.7L-47.06 33.58L-46.5 32.52zM-37.26 32.56L-38.78 32.69L-38.4 31.55zM-29.2 34.29L-30.72 34.18L-30.17 33.12zM-23.08 32.96L-24.6 32.96L-24.13 31.86zM-13.08 35.54L-14.59 35.35L-13.98 34.31zM-6.9 33.47L-8.42 33.47L-7.95 32.36zM0.59 33.41L-0.93 33.42L-0.47 32.31zM8.02 31.07L6.55 31.48L6.71 30.29zM15.5 32.36L13.99 32.54L14.33 31.39zM23.03 33.71L21.5 33.66L22.01 32.57zM30.72 33.09L29.2 33.16L29.62 32.03zM36.67 32.89L35.15 32.89L35.63 31.79zM44.84 31.99L43.33 32.2L43.65 31.05zM52.55 33.45L51.03 33.42L51.53 32.33zM-74.09 36.37L-75.44 37.07L-75.53 35.87zM-66.8 36.81L-68.17 37.47L-68.23 36.27zM-60.88 37.98L-62.29 38.53L-62.25 37.33zM-53.57 36.42L-54.92 37.13L-55.01 35.93zM-45.62 39.19L-47.08 39.62L-46.94 38.43zM-38.29 39.11L-39.75 39.55L-39.62 38.36zM-30.56 38.87L-32.01 39.34L-31.9 38.14zM-24.69 37.36L-26.08 37.98L-26.1 36.78zM-15.84 39.39L-17.31 39.8L-17.15 38.61zM-7.4 35.03L-8.68 35.85L-8.88 34.67zM-2.44 35.43L-3.72 36.25L-3.92 35.06zM5.97 38.06L4.54 38.6L4.59 37.41zM14.05 39.15L12.59 39.58L12.73 38.39zM23.23 36.94L21.85 37.59L21.81 36.39zM28.39 37.82L26.98 38.38L27.01 37.18zM35.02 37.9L33.6 38.45L33.64 37.25zM45.32 39.46L43.85 39.87L44 38.68zM51.25 37.33L49.86 37.95L49.85 36.75zM60.44 35.96L59.11 36.7L58.99 35.5z" fill="#1e1e1e"/></g></defs><svg x="53.5" y="22.3" width="171.1" height="100.1" viewBox="-90 -40 140 80" preserveAspectRatio="none"><g filter="url(#bl)"><g transform="translate(-95 -45) scale(5)" shape-rendering="crispEdges"><path fill="#43b6bf" d="M0 0h1v1h-1zM2 0h1v1h-1zM7 0h1v1h-1zM11 0h3v1h-3zM0 1h1v1h-1zM8 1h1v1h-1zM3 2h1v1h-1zM5 2h1v1h-1zM9 2h4v1h-4zM3 3h1v1h-1zM9 3h1v1h-1zM0 4h1v1h-1zM9 4h1v1h-1zM4 5h1v1h-1zM9 5h1v1h-1zM11 5h1v1h-1zM4 6h2v1h-2zM11 6h1v1h-1zM3 8h1v1h-1zM10 9h1v1h-1zM10 11h1v1h-1zM3 12h2v1h-2zM4 13h2v1h-2zM7 13h1v1h-1zM9 13h1v1h-1zM6 14h2v1h-2zM3 15h3v1h-3zM7 15h2v1h-2zM10 15h1v1h-1zM3 16h1v1h-1zM19 16h3v1h-3zM7 17h1v1h-1zM9 17h1v1h-1zM20 17h1v1h-1zM22 17h1v1h-1z"/><path fill="#3eb3b6" d="M1 0h1v1h-1zM3 0h4v1h-4zM10 0h1v1h-1zM4 1h1v1h-1zM7 1h1v1h-1zM10 1h1v1h-1zM14 1h1v1h-1zM11 3h2v1h-2zM15 3h1v1h-1zM5 4h1v1h-1zM12 4h1v1h-1zM3 5h1v1h-1zM5 5h1v1h-1zM7 5h1v1h-1zM6 6h1v1h-1zM10 6h1v1h-1zM9 7h1v1h-1zM11 8h1v1h-1zM29 14h1v1h-1zM10 16h2v1h-2zM17 16h2v1h-2zM23 16h1v1h-1zM10 17h1v1h-1zM19 17h1v1h-1zM28 17h1v1h-1z"/><path fill="#3ab1ae" d="M8 0h1v1h-1zM2 1h1v1h-1zM5 1h2v1h-2zM9 1h1v1h-1zM15 1h1v1h-1zM1 2h1v1h-1zM4 2h1v1h-1zM6 2h3v1h-3zM13 2h1v1h-1zM15 2h1v1h-1zM13 3h2v1h-2zM13 4h1v1h-1zM6 5h1v1h-1zM10 7h2v1h-2zM10 8h1v1h-1zM11 9h1v1h-1zM9 12h1v1h-1zM18 15h4v1h-4zM24 15h2v1h-2zM28 15h1v1h-1zM22 16h1v1h-1zM29 16h1v1h-1zM11 17h1v1h-1zM17 17h1v1h-1zM23 17h1v1h-1zM26 17h2v1h-2zM29 17h1v1h-1z"/><path fill="#48b8c8" d="M9 0h1v1h-1zM11 1h2v1h-2zM0 2h1v1h-1zM2 2h1v1h-1zM0 3h1v1h-1zM4 3h5v1h-5zM1 4h4v1h-4zM7 4h2v1h-2zM11 4h1v1h-1zM2 5h1v1h-1zM8 5h1v1h-1zM2 6h1v1h-1zM8 6h2v1h-2zM0 7h1v1h-1zM2 7h3v1h-3zM8 7h1v1h-1zM4 8h1v1h-1zM0 9h1v1h-1zM9 9h1v1h-1zM2 10h1v1h-1zM10 10h1v1h-1zM2 11h1v1h-1zM9 11h1v1h-1zM6 13h1v1h-1zM8 13h1v1h-1zM1 14h2v1h-2zM4 14h2v1h-2zM8 14h1v1h-1zM9 15h1v1h-1zM5 16h1v1h-1zM7 16h3v1h-3zM4 17h1v1h-1zM8 17h1v1h-1zM21 17h1v1h-1z"/><path fill="#35aea5" d="M14 0h1v1h-1zM3 1h1v1h-1zM13 1h1v1h-1zM14 2h1v1h-1zM22 4h1v1h-1zM12 5h2v1h-2zM12 6h1v1h-1zM12 8h1v1h-1zM27 8h1v1h-1zM24 9h1v1h-1zM25 10h1v1h-1zM29 10h1v1h-1zM29 11h1v1h-1zM10 12h1v1h-1zM28 12h1v1h-1zM9 14h2v1h-2zM26 15h1v1h-1zM29 15h1v1h-1zM16 16h1v1h-1zM24 16h3v1h-3zM28 16h1v1h-1zM12 17h1v1h-1zM18 17h1v1h-1zM24 17h2v1h-2z"/><path fill="#30ac9c" d="M15 0h1v1h-1zM16 1h1v1h-1zM22 3h2v1h-2zM14 4h1v1h-1zM24 4h1v1h-1zM13 6h1v1h-1zM12 7h1v1h-1zM28 8h2v1h-2zM25 9h2v1h-2zM27 10h2v1h-2zM27 11h2v1h-2zM27 12h1v1h-1zM10 13h1v1h-1zM19 14h1v1h-1zM25 14h2v1h-2zM28 14h1v1h-1zM11 15h2v1h-2zM14 15h1v1h-1zM17 15h1v1h-1zM22 15h2v1h-2zM27 15h1v1h-1zM12 16h4v1h-4zM27 16h1v1h-1zM13 17h1v1h-1zM15 17h2v1h-2z"/><path fill="#3aaa87" d="M16 0h1v1h-1zM24 2h1v1h-1zM24 3h1v1h-1zM15 4h1v1h-1zM21 4h1v1h-1zM14 5h1v1h-1zM27 7h3v1h-3zM23 8h1v1h-1zM12 9h1v1h-1zM23 9h1v1h-1zM27 9h3v1h-3zM11 10h1v1h-1zM24 10h1v1h-1zM26 11h1v1h-1zM28 13h2v1h-2zM20 14h1v1h-1zM27 14h1v1h-1zM15 15h1v1h-1zM14 17h1v1h-1z"/><path fill="#65ad46" d="M17 0h1v1h-1zM18 1h1v1h-1zM21 1h1v1h-1zM24 1h1v1h-1zM18 2h1v1h-1zM21 2h1v1h-1zM20 3h1v1h-1zM16 4h1v1h-1zM25 4h1v1h-1zM22 5h1v1h-1zM24 5h1v1h-1zM27 5h1v1h-1zM23 6h3v1h-3zM22 7h2v1h-2zM25 7h2v1h-2zM26 10h1v1h-1zM24 11h1v1h-1zM19 12h3v1h-3zM24 12h2v1h-2zM12 13h1v1h-1zM18 13h4v1h-4zM26 13h1v1h-1zM14 14h3v1h-3zM21 14h2v1h-2zM24 14h1v1h-1z"/><path fill="#78b030" d="M18 0h1v1h-1zM20 0h1v1h-1zM23 0h1v1h-1zM22 1h1v1h-1zM17 2h1v1h-1zM17 3h1v1h-1zM25 3h1v1h-1zM26 4h1v1h-1zM29 4h1v1h-1zM16 5h1v1h-1zM20 5h1v1h-1zM25 5h1v1h-1zM28 5h1v1h-1zM21 6h1v1h-1zM26 6h1v1h-1zM29 6h1v1h-1zM15 7h1v1h-1zM13 9h1v1h-1zM21 9h1v1h-1zM13 10h1v1h-1zM21 10h1v1h-1zM20 11h3v1h-3zM12 12h1v1h-1zM13 13h2v1h-2zM16 13h1v1h-1zM13 14h1v1h-1zM23 14h1v1h-1z"/><path fill="#8bb330" d="M19 0h1v1h-1zM21 0h2v1h-2zM25 0h1v1h-1zM17 1h1v1h-1zM19 1h2v1h-2zM25 1h1v1h-1zM25 2h1v1h-1zM19 3h1v1h-1zM29 3h1v1h-1zM17 4h1v1h-1zM19 4h1v1h-1zM26 5h1v1h-1zM29 5h1v1h-1zM15 6h2v1h-2zM14 8h1v1h-1zM19 10h1v1h-1zM12 11h1v1h-1zM16 12h2v1h-2zM22 12h1v1h-1zM15 13h1v1h-1zM17 13h1v1h-1zM24 13h1v1h-1z"/><path fill="#52aa5d" d="M24 0h1v1h-1zM23 1h1v1h-1zM16 2h1v1h-1zM19 2h1v1h-1zM22 2h2v1h-2zM16 3h1v1h-1zM21 3h1v1h-1zM21 5h1v1h-1zM14 6h1v1h-1zM22 6h1v1h-1zM27 6h2v1h-2zM14 7h1v1h-1zM13 8h1v1h-1zM22 8h1v1h-1zM22 9h1v1h-1zM12 10h1v1h-1zM22 10h1v1h-1zM23 11h1v1h-1zM11 12h1v1h-1zM18 12h1v1h-1zM27 13h1v1h-1zM12 14h1v1h-1zM16 15h1v1h-1z"/><path fill="#9eb630" d="M26 0h1v1h-1zM28 0h1v1h-1zM20 2h1v1h-1zM26 2h1v1h-1zM26 3h1v1h-1zM28 4h1v1h-1zM17 5h1v1h-1zM19 5h1v1h-1zM20 6h1v1h-1zM16 7h1v1h-1zM21 7h1v1h-1zM14 9h1v1h-1zM14 10h1v1h-1zM20 10h1v1h-1zM17 11h3v1h-3zM15 12h1v1h-1zM23 12h1v1h-1zM22 13h2v1h-2z"/><path fill="#c5ba35" d="M27 0h1v1h-1zM28 1h2v1h-2zM27 4h1v1h-1zM18 5h1v1h-1zM21 8h1v1h-1zM15 9h1v1h-1zM20 9h1v1h-1z"/><path fill="#b2b932" d="M29 0h1v1h-1zM27 1h1v1h-1zM27 2h1v1h-1zM29 2h1v1h-1zM18 3h1v1h-1zM27 3h2v1h-2zM18 4h1v1h-1zM20 4h1v1h-1zM17 6h1v1h-1zM19 6h1v1h-1zM15 8h2v1h-2zM16 9h1v1h-1zM13 11h2v1h-2zM16 11h1v1h-1z"/><path fill="#54bace" d="M1 1h1v1h-1zM2 3h1v1h-1zM10 3h1v1h-1zM10 4h1v1h-1zM1 5h1v1h-1zM10 5h1v1h-1zM0 6h2v1h-2zM3 6h1v1h-1zM7 6h1v1h-1zM1 7h1v1h-1zM5 7h3v1h-3zM0 8h3v1h-3zM9 8h1v1h-1zM1 9h1v1h-1zM0 10h2v1h-2zM9 10h1v1h-1zM0 11h1v1h-1zM3 11h3v1h-3zM2 12h1v1h-1zM8 12h1v1h-1zM2 13h1v1h-1zM0 15h1v1h-1zM6 15h1v1h-1zM2 17h1v1h-1zM5 17h2v1h-2z"/><path fill="#d8bc38" d="M26 1h1v1h-1zM17 9h1v1h-1zM15 10h2v1h-2zM18 10h1v1h-1zM15 11h1v1h-1zM13 12h1v1h-1z"/><path fill="#e2ba38" d="M28 2h1v1h-1zM18 6h1v1h-1zM17 7h1v1h-1zM18 9h2v1h-2zM17 10h1v1h-1zM14 12h1v1h-1z"/><path fill="#60bbd5" d="M1 3h1v1h-1zM6 4h1v1h-1zM0 5h1v1h-1zM5 8h1v1h-1zM2 9h1v1h-1zM4 9h1v1h-1zM3 10h2v1h-2zM1 11h1v1h-1zM8 11h1v1h-1zM1 12h1v1h-1zM1 13h1v1h-1zM3 13h1v1h-1zM0 14h1v1h-1zM3 14h1v1h-1zM6 16h1v1h-1zM0 17h1v1h-1zM3 17h1v1h-1z"/><path fill="#43a972" d="M23 4h1v1h-1zM15 5h1v1h-1zM23 5h1v1h-1zM13 7h1v1h-1zM24 7h1v1h-1zM24 8h3v1h-3zM23 10h1v1h-1zM11 11h1v1h-1zM25 11h1v1h-1zM26 12h1v1h-1zM29 12h1v1h-1zM11 13h1v1h-1zM25 13h1v1h-1zM11 14h1v1h-1zM17 14h2v1h-2zM13 15h1v1h-1z"/><path fill="#f2b535" d="M18 7h1v1h-1zM20 8h1v1h-1z"/><path fill="#f8a828" d="M19 7h1v1h-1zM19 8h1v1h-1z"/><path fill="#ebb938" d="M20 7h1v1h-1zM17 8h1v1h-1z"/><path fill="#6dbddb" d="M6 8h3v1h-3zM3 9h1v1h-1zM5 9h1v1h-1zM8 9h1v1h-1zM5 10h1v1h-1zM8 10h1v1h-1zM6 11h1v1h-1zM0 12h1v1h-1zM5 12h3v1h-3zM0 13h1v1h-1zM1 15h2v1h-2zM1 16h1v1h-1zM4 16h1v1h-1z"/><path fill="#f5ae2e" d="M18 8h1v1h-1z"/><path fill="#85c0e8" d="M6 9h2v1h-2zM6 10h2v1h-2zM7 11h1v1h-1zM0 16h1v1h-1z"/><path fill="#79bee2" d="M2 16h1v1h-1zM1 17h1v1h-1z"/></g></g><g filter="url(#bl2)"><ellipse cx="-66" cy="-39.5" rx="13" ry="2" fill="#f8a123"/><ellipse cx="-73.5" cy="12.5" rx="1.5" ry="2" fill="#f89a1e" opacity="0.8"/><ellipse cx="-27" cy="14" rx="4" ry="3" fill="#f8921a" opacity="0.8"/><ellipse cx="2" cy="-6" rx="7" ry="2.5" fill="#f88410" opacity="0.8"/><ellipse cx="-12" cy="-6" rx="5" ry="2" fill="#f5ae2e" opacity="0.7"/><ellipse cx="-60" cy="5" rx="12" ry="8" fill="#6dbddb" opacity="0.5"/><ellipse cx="-60" cy="38.5" rx="30" ry="2" fill="#60bbd5" opacity="0.7"/><ellipse cx="15" cy="38.5" rx="30" ry="2" fill="#60bbd5" opacity="0.7"/><ellipse cx="-6" cy="-20" rx="2.5" ry="2.5" fill="#f5ae2e" opacity="0.7"/></g><g mask="url(#nma)"><g filter="url(#bl)"><g transform="translate(-95 -45) scale(5)" shape-rendering="crispEdges"><path fill="#77b6e6" d="M0 0h1v1h-1zM2 0h1v1h-1zM7 0h1v1h-1zM11 0h3v1h-3zM0 1h1v1h-1zM8 1h1v1h-1zM3 2h1v1h-1zM5 2h1v1h-1zM9 2h4v1h-4zM3 3h1v1h-1zM9 3h1v1h-1zM0 4h1v1h-1zM9 4h1v1h-1zM4 5h1v1h-1zM9 5h1v1h-1zM11 5h1v1h-1zM4 6h2v1h-2zM11 6h1v1h-1zM3 8h1v1h-1zM10 9h1v1h-1zM10 11h1v1h-1zM3 12h2v1h-2zM4 13h2v1h-2zM7 13h1v1h-1zM9 13h1v1h-1zM6 14h2v1h-2zM3 15h3v1h-3zM7 15h2v1h-2zM10 15h1v1h-1zM3 16h1v1h-1zM19 16h3v1h-3zM7 17h1v1h-1zM9 17h1v1h-1zM20 17h1v1h-1zM22 17h1v1h-1z"/><path fill="#85c0e8" d="M1 0h1v1h-1zM3 0h4v1h-4zM10 0h1v1h-1zM4 1h1v1h-1zM7 1h1v1h-1zM10 1h1v1h-1zM14 1h1v1h-1zM11 3h2v1h-2zM15 3h1v1h-1zM5 4h1v1h-1zM12 4h1v1h-1zM3 5h1v1h-1zM5 5h1v1h-1zM7 5h1v1h-1zM6 6h1v1h-1zM10 6h1v1h-1zM9 7h1v1h-1zM11 8h1v1h-1zM29 14h1v1h-1zM10 16h2v1h-2zM17 16h2v1h-2zM23 16h1v1h-1zM10 17h1v1h-1zM19 17h1v1h-1zM28 17h1v1h-1z"/><path fill="#79bee2" d="M8 0h1v1h-1zM2 1h1v1h-1zM5 1h2v1h-2zM9 1h1v1h-1zM15 1h1v1h-1zM1 2h1v1h-1zM4 2h1v1h-1zM6 2h3v1h-3zM13 2h1v1h-1zM15 2h1v1h-1zM13 3h2v1h-2zM13 4h1v1h-1zM6 5h1v1h-1zM10 7h2v1h-2zM10 8h1v1h-1zM11 9h1v1h-1zM9 12h1v1h-1zM18 15h4v1h-4zM24 15h2v1h-2zM28 15h1v1h-1zM22 16h1v1h-1zM29 16h1v1h-1zM11 17h1v1h-1zM17 17h1v1h-1zM23 17h1v1h-1zM26 17h2v1h-2zM29 17h1v1h-1z"/><path fill="#69ace5" d="M9 0h1v1h-1zM11 1h2v1h-2zM0 2h1v1h-1zM2 2h1v1h-1zM0 3h1v1h-1zM4 3h5v1h-5zM1 4h4v1h-4zM7 4h2v1h-2zM11 4h1v1h-1zM2 5h1v1h-1zM8 5h1v1h-1zM2 6h1v1h-1zM8 6h2v1h-2zM0 7h1v1h-1zM2 7h3v1h-3zM8 7h1v1h-1zM4 8h1v1h-1zM0 9h1v1h-1zM9 9h1v1h-1zM2 10h1v1h-1zM10 10h1v1h-1zM2 11h1v1h-1zM9 11h1v1h-1zM6 13h1v1h-1zM8 13h1v1h-1zM1 14h2v1h-2zM4 14h2v1h-2zM8 14h1v1h-1zM9 15h1v1h-1zM5 16h1v1h-1zM7 16h3v1h-3zM4 17h1v1h-1zM8 17h1v1h-1zM21 17h1v1h-1z"/><path fill="#6dbddb" d="M14 0h1v1h-1zM3 1h1v1h-1zM13 1h1v1h-1zM14 2h1v1h-1zM22 4h1v1h-1zM12 5h2v1h-2zM12 6h1v1h-1zM12 8h1v1h-1zM27 8h1v1h-1zM24 9h1v1h-1zM25 10h1v1h-1zM29 10h1v1h-1zM29 11h1v1h-1zM10 12h1v1h-1zM28 12h1v1h-1zM9 14h2v1h-2zM26 15h1v1h-1zM29 15h1v1h-1zM16 16h1v1h-1zM24 16h3v1h-3zM28 16h1v1h-1zM12 17h1v1h-1zM18 17h1v1h-1zM24 17h2v1h-2z"/><path fill="#60bbd5" d="M15 0h1v1h-1zM16 1h1v1h-1zM22 3h2v1h-2zM14 4h1v1h-1zM24 4h1v1h-1zM13 6h1v1h-1zM12 7h1v1h-1zM28 8h2v1h-2zM25 9h2v1h-2zM27 10h2v1h-2zM27 11h2v1h-2zM27 12h1v1h-1zM10 13h1v1h-1zM19 14h1v1h-1zM25 14h2v1h-2zM28 14h1v1h-1zM11 15h2v1h-2zM14 15h1v1h-1zM17 15h1v1h-1zM22 15h2v1h-2zM27 15h1v1h-1zM12 16h4v1h-4zM27 16h1v1h-1zM13 17h1v1h-1zM15 17h2v1h-2z"/><path fill="#54bace" d="M16 0h1v1h-1zM24 2h1v1h-1zM24 3h1v1h-1zM15 4h1v1h-1zM21 4h1v1h-1zM14 5h1v1h-1zM27 7h3v1h-3zM23 8h1v1h-1zM12 9h1v1h-1zM23 9h1v1h-1zM27 9h3v1h-3zM11 10h1v1h-1zM24 10h1v1h-1zM26 11h1v1h-1zM28 13h2v1h-2zM20 14h1v1h-1zM27 14h1v1h-1zM15 15h1v1h-1zM14 17h1v1h-1z"/><path fill="#3eb3b6" d="M17 0h1v1h-1zM18 1h1v1h-1zM21 1h1v1h-1zM24 1h1v1h-1zM18 2h1v1h-1zM21 2h1v1h-1zM20 3h1v1h-1zM16 4h1v1h-1zM25 4h1v1h-1zM22 5h1v1h-1zM24 5h1v1h-1zM27 5h1v1h-1zM23 6h3v1h-3zM22 7h2v1h-2zM25 7h2v1h-2zM26 10h1v1h-1zM24 11h1v1h-1zM19 12h3v1h-3zM24 12h2v1h-2zM12 13h1v1h-1zM18 13h4v1h-4zM26 13h1v1h-1zM14 14h3v1h-3zM21 14h2v1h-2zM24 14h1v1h-1z"/><path fill="#3ab1ae" d="M18 0h1v1h-1zM20 0h1v1h-1zM23 0h1v1h-1zM22 1h1v1h-1zM17 2h1v1h-1zM17 3h1v1h-1zM25 3h1v1h-1zM26 4h1v1h-1zM29 4h1v1h-1zM16 5h1v1h-1zM20 5h1v1h-1zM25 5h1v1h-1zM28 5h1v1h-1zM21 6h1v1h-1zM26 6h1v1h-1zM29 6h1v1h-1zM15 7h1v1h-1zM13 9h1v1h-1zM21 9h1v1h-1zM13 10h1v1h-1zM21 10h1v1h-1zM20 11h3v1h-3zM12 12h1v1h-1zM13 13h2v1h-2zM16 13h1v1h-1zM13 14h1v1h-1zM23 14h1v1h-1z"/><path fill="#35aea5" d="M19 0h1v1h-1zM21 0h2v1h-2zM25 0h1v1h-1zM17 1h1v1h-1zM19 1h2v1h-2zM25 1h1v1h-1zM25 2h1v1h-1zM19 3h1v1h-1zM29 3h1v1h-1zM17 4h1v1h-1zM19 4h1v1h-1zM26 5h1v1h-1zM29 5h1v1h-1zM15 6h2v1h-2zM14 8h1v1h-1zM19 10h1v1h-1zM12 11h1v1h-1zM16 12h2v1h-2zM22 12h1v1h-1zM15 13h1v1h-1zM17 13h1v1h-1zM24 13h1v1h-1z"/><path fill="#43b6bf" d="M24 0h1v1h-1zM23 1h1v1h-1zM16 2h1v1h-1zM19 2h1v1h-1zM22 2h2v1h-2zM16 3h1v1h-1zM21 3h1v1h-1zM21 5h1v1h-1zM14 6h1v1h-1zM22 6h1v1h-1zM27 6h2v1h-2zM14 7h1v1h-1zM13 8h1v1h-1zM22 8h1v1h-1zM22 9h1v1h-1zM12 10h1v1h-1zM22 10h1v1h-1zM23 11h1v1h-1zM11 12h1v1h-1zM18 12h1v1h-1zM27 13h1v1h-1zM12 14h1v1h-1zM16 15h1v1h-1z"/><path fill="#30ac9c" d="M26 0h1v1h-1zM28 0h1v1h-1zM20 2h1v1h-1zM26 2h1v1h-1zM26 3h1v1h-1zM28 4h1v1h-1zM17 5h1v1h-1zM19 5h1v1h-1zM20 6h1v1h-1zM16 7h1v1h-1zM21 7h1v1h-1zM14 9h1v1h-1zM14 10h1v1h-1zM20 10h1v1h-1zM17 11h3v1h-3zM15 12h1v1h-1zM23 12h1v1h-1zM22 13h2v1h-2z"/><path fill="#43a972" d="M27 0h1v1h-1zM28 1h2v1h-2zM27 4h1v1h-1zM18 5h1v1h-1zM21 8h1v1h-1zM15 9h1v1h-1zM20 9h1v1h-1z"/><path fill="#3aaa87" d="M29 0h1v1h-1zM27 1h1v1h-1zM27 2h1v1h-1zM29 2h1v1h-1zM18 3h1v1h-1zM27 3h2v1h-2zM18 4h1v1h-1zM20 4h1v1h-1zM17 6h1v1h-1zM19 6h1v1h-1zM15 8h2v1h-2zM16 9h1v1h-1zM13 11h2v1h-2zM16 11h1v1h-1z"/><path fill="#5ba2e3" d="M1 1h1v1h-1zM2 3h1v1h-1zM10 3h1v1h-1zM10 4h1v1h-1zM1 5h1v1h-1zM10 5h1v1h-1zM0 6h2v1h-2zM3 6h1v1h-1zM7 6h1v1h-1zM1 7h1v1h-1zM5 7h3v1h-3zM0 8h3v1h-3zM9 8h1v1h-1zM1 9h1v1h-1zM0 10h2v1h-2zM9 10h1v1h-1zM0 11h1v1h-1zM3 11h3v1h-3zM2 12h1v1h-1zM8 12h1v1h-1zM2 13h1v1h-1zM0 15h1v1h-1zM6 15h1v1h-1zM2 17h1v1h-1zM5 17h2v1h-2z"/><path fill="#52aa5d" d="M26 1h1v1h-1zM17 9h1v1h-1zM15 10h2v1h-2zM18 10h1v1h-1zM15 11h1v1h-1zM13 12h1v1h-1z"/><path fill="#65ad46" d="M28 2h1v1h-1zM18 6h1v1h-1zM17 7h1v1h-1zM18 9h2v1h-2zM17 10h1v1h-1zM14 12h1v1h-1z"/><path fill="#4d98e2" d="M1 3h1v1h-1zM6 4h1v1h-1zM0 5h1v1h-1zM5 8h1v1h-1zM2 9h1v1h-1zM4 9h1v1h-1zM3 10h2v1h-2zM1 11h1v1h-1zM8 11h1v1h-1zM1 12h1v1h-1zM1 13h1v1h-1zM3 13h1v1h-1zM0 14h1v1h-1zM3 14h1v1h-1zM6 16h1v1h-1zM0 17h1v1h-1zM3 17h1v1h-1z"/><path fill="#48b8c8" d="M23 4h1v1h-1zM15 5h1v1h-1zM23 5h1v1h-1zM13 7h1v1h-1zM24 7h1v1h-1zM24 8h3v1h-3zM23 10h1v1h-1zM11 11h1v1h-1zM25 11h1v1h-1zM26 12h1v1h-1zM29 12h1v1h-1zM11 13h1v1h-1zM25 13h1v1h-1zM11 14h1v1h-1zM17 14h2v1h-2zM13 15h1v1h-1z"/><path fill="#8bb330" d="M18 7h1v1h-1zM20 8h1v1h-1z"/><path fill="#b2b932" d="M19 7h1v1h-1zM19 8h1v1h-1z"/><path fill="#78b030" d="M20 7h1v1h-1zM17 8h1v1h-1z"/><path fill="#3f8ee0" d="M6 8h3v1h-3zM3 9h1v1h-1zM5 9h1v1h-1zM8 9h1v1h-1zM5 10h1v1h-1zM8 10h1v1h-1zM6 11h1v1h-1zM0 12h1v1h-1zM5 12h3v1h-3zM0 13h1v1h-1zM1 15h2v1h-2zM1 16h1v1h-1zM4 16h1v1h-1z"/><path fill="#9eb630" d="M18 8h1v1h-1z"/><path fill="#327dde" d="M6 9h2v1h-2zM6 10h2v1h-2zM7 11h1v1h-1zM0 16h1v1h-1z"/><path fill="#3986df" d="M2 16h1v1h-1zM1 17h1v1h-1z"/></g></g><g filter="url(#bl2)"><ellipse cx="-66" cy="-39.5" rx="13" ry="2" fill="#c5ba35"/><ellipse cx="-73.5" cy="12.5" rx="1.5" ry="2" fill="#d8bc38" opacity="0.8"/><ellipse cx="-27" cy="14" rx="4" ry="3" fill="#e2ba38" opacity="0.8"/><ellipse cx="2" cy="-6" rx="7" ry="2.5" fill="#f2b535" opacity="0.8"/><ellipse cx="-12" cy="-6" rx="5" ry="2" fill="#9eb630" opacity="0.7"/><ellipse cx="-60" cy="5" rx="12" ry="8" fill="#3f8ee0" opacity="0.5"/><ellipse cx="-60" cy="38.5" rx="30" ry="2" fill="#4d98e2" opacity="0.7"/><ellipse cx="15" cy="38.5" rx="30" ry="2" fill="#4d98e2" opacity="0.7"/><ellipse cx="-6" cy="-20" rx="2.5" ry="2.5" fill="#9eb630" opacity="0.7"/></g></g><rect x="2" y="-1.05" width="2" height="1.7" fill="#fff"/><rect x="-63" y="2.65" width="2" height="1.7" fill="#fff"/><rect x="-67" y="6.15" width="2" height="1.7" fill="#fff"/><use href="#cst"/><use href="#grd"/><use href="#arfeb"/></svg><rect x="53.5" y="22.3" width="171.1" height="100.1" fill="none" stroke="#222" stroke-width="1"/><path d="M53.5 122.4v2.6M78.49 122.4v2.6M102.39 122.4v2.6M126.83 122.4v2.6M151.27 122.4v2.6M175.71 122.4v2.6M200.16 122.4v2.6M224.6 122.4v2.6M53.5 122.4h-2.6M53.5 97.37h-2.6M53.5 72.35h-2.6M53.5 47.33h-2.6M53.5 22.3h-2.6" stroke="#222" stroke-width=".8"/><g class="tk"><text x="53.5" y="134" text-anchor="middle">−90</text><text x="78.49" y="134" text-anchor="middle">−70</text><text x="102.39" y="134" text-anchor="middle">−50</text><text x="126.83" y="134" text-anchor="middle">−30</text><text x="151.27" y="134" text-anchor="middle">−10</text><text x="175.71" y="134" text-anchor="middle">10</text><text x="200.16" y="134" text-anchor="middle">30</text><text x="224.6" y="134" text-anchor="middle">50</text><text x="48" y="125.7" text-anchor="end">−40</text><text x="48" y="100.67" text-anchor="end">−20</text><text x="48" y="75.65" text-anchor="end">0</text><text x="48" y="50.62" text-anchor="end">20</text><text x="48" y="25.6" text-anchor="end">40</text></g><svg x="276.4" y="22.3" width="171.1" height="100.1" viewBox="-90 -40 140 80" preserveAspectRatio="none"><g filter="url(#bl)"><g transform="translate(-95 -45) scale(5)" shape-rendering="crispEdges"><path fill="#3eb3b6" d="M0 0h2v1h-2zM1 1h1v1h-1zM1 3h1v1h-1zM3 3h1v1h-1zM1 4h1v1h-1zM3 4h2v1h-2zM3 5h1v1h-1zM5 6h2v1h-2zM12 6h1v1h-1z"/><path fill="#35aea5" d="M2 0h1v1h-1zM0 2h1v1h-1zM6 3h1v1h-1zM10 3h1v1h-1zM28 3h1v1h-1zM5 4h1v1h-1zM10 4h3v1h-3zM6 5h1v1h-1zM13 5h1v1h-1zM7 6h1v1h-1zM11 6h1v1h-1zM13 6h1v1h-1zM9 7h2v1h-2zM13 7h2v1h-2zM5 8h2v1h-2zM11 16h1v1h-1z"/><path fill="#3aaa87" d="M3 0h1v1h-1zM14 0h1v1h-1zM3 1h1v1h-1zM5 1h1v1h-1zM11 1h1v1h-1zM13 1h1v1h-1zM15 1h1v1h-1zM21 1h2v1h-2zM4 2h2v1h-2zM14 2h2v1h-2zM29 2h1v1h-1zM7 3h3v1h-3zM13 3h2v1h-2zM29 3h1v1h-1zM14 4h1v1h-1zM14 5h1v1h-1zM29 5h1v1h-1zM14 6h1v1h-1zM28 6h1v1h-1zM12 7h1v1h-1zM26 7h2v1h-2zM9 8h2v1h-2zM20 8h2v1h-2zM27 8h1v1h-1zM1 9h3v1h-3zM26 9h1v1h-1zM2 14h1v1h-1zM11 14h1v1h-1zM11 15h2v1h-2zM29 15h1v1h-1zM2 16h1v1h-1zM5 16h1v1h-1zM7 16h1v1h-1zM13 16h2v1h-2zM16 16h1v1h-1zM19 16h1v1h-1zM28 16h1v1h-1zM0 17h1v1h-1zM4 17h1v1h-1zM7 17h1v1h-1zM11 17h2v1h-2zM15 17h1v1h-1zM17 17h1v1h-1zM20 17h1v1h-1zM24 17h1v1h-1zM27 17h3v1h-3z"/><path fill="#43a972" d="M4 0h1v1h-1zM6 0h1v1h-1zM10 0h2v1h-2zM13 0h1v1h-1zM15 0h2v1h-2zM21 0h2v1h-2zM28 0h2v1h-2zM6 1h1v1h-1zM9 1h1v1h-1zM12 1h1v1h-1zM29 1h1v1h-1zM8 2h1v1h-1zM11 2h3v1h-3zM21 2h1v1h-1zM27 2h2v1h-2zM5 3h1v1h-1zM15 3h1v1h-1zM21 3h1v1h-1zM23 3h1v1h-1zM27 3h1v1h-1zM23 4h1v1h-1zM28 5h1v1h-1zM29 6h1v1h-1zM15 7h3v1h-3zM25 7h1v1h-1zM28 7h2v1h-2zM7 8h2v1h-2zM12 8h1v1h-1zM19 8h1v1h-1zM28 8h1v1h-1zM24 9h2v1h-2zM27 9h3v1h-3zM13 14h2v1h-2zM10 15h1v1h-1zM14 15h1v1h-1zM18 15h1v1h-1zM20 15h1v1h-1zM28 15h1v1h-1zM6 16h1v1h-1zM9 16h2v1h-2zM15 16h1v1h-1zM17 16h1v1h-1zM21 16h3v1h-3zM26 16h1v1h-1zM2 17h1v1h-1zM5 17h1v1h-1zM8 17h3v1h-3zM14 17h1v1h-1zM25 17h2v1h-2z"/><path fill="#52aa5d" d="M5 0h1v1h-1zM7 0h3v1h-3zM12 0h1v1h-1zM7 1h2v1h-2zM10 1h1v1h-1zM16 1h1v1h-1zM27 1h1v1h-1zM6 2h2v1h-2zM10 2h1v1h-1zM22 2h1v1h-1zM24 3h1v1h-1zM27 4h1v1h-1zM27 6h1v1h-1zM20 7h2v1h-2zM23 7h2v1h-2zM11 8h1v1h-1zM13 8h1v1h-1zM15 8h1v1h-1zM22 8h1v1h-1zM24 8h3v1h-3zM29 8h1v1h-1zM0 9h1v1h-1zM23 9h1v1h-1zM27 10h1v1h-1zM1 12h1v1h-1zM1 14h1v1h-1zM3 14h2v1h-2zM12 14h1v1h-1zM19 14h1v1h-1zM0 15h1v1h-1zM6 15h4v1h-4zM13 15h1v1h-1zM16 15h2v1h-2zM19 15h1v1h-1zM27 15h1v1h-1zM8 16h1v1h-1zM18 16h1v1h-1zM24 16h1v1h-1zM27 16h1v1h-1zM1 17h1v1h-1zM6 17h1v1h-1zM16 17h1v1h-1zM18 17h1v1h-1zM22 17h2v1h-2z"/><path fill="#8bb330" d="M17 0h2v1h-2zM26 0h1v1h-1zM24 1h1v1h-1zM26 1h1v1h-1zM19 2h1v1h-1zM25 2h2v1h-2zM16 4h1v1h-1zM15 6h1v1h-1zM26 6h1v1h-1zM5 9h1v1h-1zM10 9h1v1h-1zM12 9h2v1h-2zM17 9h1v1h-1zM19 9h1v1h-1zM21 9h1v1h-1zM3 10h1v1h-1zM5 10h1v1h-1zM22 10h1v1h-1zM5 11h1v1h-1zM29 11h1v1h-1zM6 12h1v1h-1zM11 13h1v1h-1zM14 13h1v1h-1zM19 13h2v1h-2zM18 14h1v1h-1zM20 14h1v1h-1zM22 14h1v1h-1zM15 15h1v1h-1z"/><path fill="#78b030" d="M19 0h1v1h-1zM17 1h1v1h-1zM20 1h1v1h-1zM17 2h1v1h-1zM20 2h1v1h-1zM15 4h1v1h-1zM21 4h1v1h-1zM24 4h1v1h-1zM18 7h1v1h-1zM16 8h2v1h-2zM4 9h1v1h-1zM7 9h1v1h-1zM20 9h1v1h-1zM22 9h1v1h-1zM2 10h1v1h-1zM4 10h1v1h-1zM20 10h1v1h-1zM26 10h1v1h-1zM28 10h1v1h-1zM2 11h1v1h-1zM28 11h1v1h-1zM2 13h1v1h-1zM12 13h1v1h-1zM7 14h1v1h-1zM17 14h1v1h-1zM21 14h1v1h-1zM29 14h1v1h-1zM23 15h2v1h-2zM26 15h1v1h-1z"/><path fill="#65ad46" d="M20 0h1v1h-1zM27 0h1v1h-1zM14 1h1v1h-1zM19 1h1v1h-1zM23 1h1v1h-1zM28 1h1v1h-1zM16 2h1v1h-1zM23 2h1v1h-1zM16 3h1v1h-1zM22 4h1v1h-1zM15 5h1v1h-1zM27 5h1v1h-1zM19 7h1v1h-1zM14 8h1v1h-1zM18 8h1v1h-1zM6 9h1v1h-1zM0 10h2v1h-2zM29 10h1v1h-1zM0 13h2v1h-2zM3 13h4v1h-4zM13 13h1v1h-1zM0 14h1v1h-1zM5 14h2v1h-2zM8 14h3v1h-3zM15 14h2v1h-2zM27 14h2v1h-2zM1 15h2v1h-2zM21 15h2v1h-2zM25 15h1v1h-1zM1 16h1v1h-1zM20 16h1v1h-1zM25 16h1v1h-1z"/><path fill="#9eb630" d="M23 0h3v1h-3zM18 2h1v1h-1zM20 3h1v1h-1zM25 3h2v1h-2zM26 4h1v1h-1zM22 6h1v1h-1zM11 9h1v1h-1zM19 10h1v1h-1zM23 10h3v1h-3zM1 11h1v1h-1zM4 11h1v1h-1zM21 11h2v1h-2zM0 12h1v1h-1zM2 12h1v1h-1zM4 12h2v1h-2zM27 12h2v1h-2zM8 13h2v1h-2zM17 13h2v1h-2zM28 13h2v1h-2zM26 14h1v1h-1z"/><path fill="#3ab1ae" d="M0 1h1v1h-1zM2 1h1v1h-1zM1 2h2v1h-2zM2 3h1v1h-1zM2 4h1v1h-1zM8 4h2v1h-2zM0 5h2v1h-2zM4 5h1v1h-1zM7 5h3v1h-3zM11 5h2v1h-2zM8 6h1v1h-1zM10 6h1v1h-1zM0 7h1v1h-1zM4 7h1v1h-1zM6 7h1v1h-1zM8 7h1v1h-1zM11 7h1v1h-1zM0 8h5v1h-5z"/><path fill="#30ac9c" d="M4 1h1v1h-1zM3 2h1v1h-1zM9 2h1v1h-1zM4 3h1v1h-1zM11 3h2v1h-2zM22 3h1v1h-1zM6 4h2v1h-2zM13 4h1v1h-1zM28 4h2v1h-2zM5 5h1v1h-1zM7 7h1v1h-1zM22 7h1v1h-1zM23 8h1v1h-1zM3 15h3v1h-3zM0 16h1v1h-1zM3 16h2v1h-2zM12 16h1v1h-1zM29 16h1v1h-1zM3 17h1v1h-1zM13 17h1v1h-1zM19 17h1v1h-1zM21 17h1v1h-1z"/><path fill="#b2b932" d="M18 1h1v1h-1zM25 1h1v1h-1zM24 2h1v1h-1zM17 3h1v1h-1zM19 3h1v1h-1zM17 4h1v1h-1zM20 4h1v1h-1zM25 4h1v1h-1zM16 5h1v1h-1zM22 5h1v1h-1zM26 5h1v1h-1zM16 6h1v1h-1zM23 6h1v1h-1zM8 9h2v1h-2zM14 9h1v1h-1zM16 9h1v1h-1zM7 10h1v1h-1zM11 10h1v1h-1zM14 10h1v1h-1zM0 11h1v1h-1zM6 11h1v1h-1zM3 12h1v1h-1zM13 12h1v1h-1zM19 12h1v1h-1zM21 12h1v1h-1zM29 12h1v1h-1zM7 13h1v1h-1zM15 13h1v1h-1zM27 13h1v1h-1z"/><path fill="#54bace" d="M0 3h1v1h-1zM2 7h1v1h-1z"/><path fill="#c5ba35" d="M18 3h1v1h-1zM18 4h2v1h-2zM21 5h1v1h-1zM23 5h2v1h-2zM17 6h5v1h-5zM24 6h1v1h-1zM15 9h1v1h-1zM18 9h1v1h-1zM6 10h1v1h-1zM8 10h1v1h-1zM12 10h2v1h-2zM18 10h1v1h-1zM21 10h1v1h-1zM3 11h1v1h-1zM19 11h1v1h-1zM12 12h1v1h-1zM14 12h1v1h-1zM10 13h1v1h-1zM16 13h1v1h-1zM21 13h2v1h-2z"/><path fill="#48b8c8" d="M0 4h1v1h-1zM2 6h1v1h-1zM9 6h1v1h-1z"/><path fill="#43b6bf" d="M2 5h1v1h-1zM10 5h1v1h-1zM0 6h2v1h-2zM3 6h2v1h-2zM1 7h1v1h-1zM3 7h1v1h-1zM5 7h1v1h-1z"/><path fill="#ebb938" d="M17 5h1v1h-1zM9 11h1v1h-1zM12 11h1v1h-1zM17 11h1v1h-1zM8 12h2v1h-2zM17 12h1v1h-1zM26 12h1v1h-1zM26 13h1v1h-1z"/><path fill="#f2b535" d="M18 5h1v1h-1zM8 11h1v1h-1zM24 12h1v1h-1zM24 14h1v1h-1z"/><path fill="#e2ba38" d="M19 5h1v1h-1zM9 10h1v1h-1zM15 10h1v1h-1zM10 11h1v1h-1zM15 11h1v1h-1zM25 11h2v1h-2zM7 12h1v1h-1zM20 12h1v1h-1zM23 14h1v1h-1z"/><path fill="#d8bc38" d="M20 5h1v1h-1zM25 5h1v1h-1zM25 6h1v1h-1zM10 10h1v1h-1zM16 10h2v1h-2zM7 11h1v1h-1zM11 11h1v1h-1zM13 11h2v1h-2zM16 11h1v1h-1zM18 11h1v1h-1zM20 11h1v1h-1zM23 11h2v1h-2zM27 11h1v1h-1zM10 12h2v1h-2zM15 12h2v1h-2zM18 12h1v1h-1zM22 12h2v1h-2zM25 14h1v1h-1z"/><path fill="#f8a828" d="M25 12h1v1h-1zM24 13h1v1h-1z"/><path fill="#f5ae2e" d="M23 13h1v1h-1zM25 13h1v1h-1z"/></g></g><g filter="url(#bl2)"><ellipse cx="-5" cy="-17" rx="4" ry="2.5" fill="#f88b15" opacity="0.8"/><ellipse cx="-56" cy="13" rx="5" ry="4" fill="#f88b15" opacity="0.8"/><ellipse cx="30" cy="20" rx="6" ry="5" fill="#f57a16" opacity="0.8"/><ellipse cx="46.7" cy="19.5" rx="2.3" ry="6" fill="#f57a16"/><ellipse cx="-45" cy="-12.5" rx="45" ry="2.5" fill="#48b8c8" opacity="0.6"/><ellipse cx="15" cy="-28" rx="10" ry="4" fill="#3eb3b6" opacity="0.6"/></g><g mask="url(#nmb)"><g filter="url(#bl)"><g transform="translate(-95 -45) scale(5)" shape-rendering="crispEdges"><path fill="#85c0e8" d="M0 0h2v1h-2zM1 1h1v1h-1zM1 3h1v1h-1zM3 3h1v1h-1zM1 4h1v1h-1zM3 4h2v1h-2zM3 5h1v1h-1zM5 6h2v1h-2zM12 6h1v1h-1z"/><path fill="#6dbddb" d="M2 0h1v1h-1zM0 2h1v1h-1zM6 3h1v1h-1zM10 3h1v1h-1zM28 3h1v1h-1zM5 4h1v1h-1zM10 4h3v1h-3zM6 5h1v1h-1zM13 5h1v1h-1zM7 6h1v1h-1zM11 6h1v1h-1zM13 6h1v1h-1zM9 7h2v1h-2zM13 7h2v1h-2zM5 8h2v1h-2zM11 16h1v1h-1z"/><path fill="#54bace" d="M3 0h1v1h-1zM14 0h1v1h-1zM3 1h1v1h-1zM5 1h1v1h-1zM11 1h1v1h-1zM13 1h1v1h-1zM15 1h1v1h-1zM21 1h2v1h-2zM4 2h2v1h-2zM14 2h2v1h-2zM29 2h1v1h-1zM7 3h3v1h-3zM13 3h2v1h-2zM29 3h1v1h-1zM14 4h1v1h-1zM14 5h1v1h-1zM29 5h1v1h-1zM14 6h1v1h-1zM28 6h1v1h-1zM12 7h1v1h-1zM26 7h2v1h-2zM9 8h2v1h-2zM20 8h2v1h-2zM27 8h1v1h-1zM1 9h3v1h-3zM26 9h1v1h-1zM2 14h1v1h-1zM11 14h1v1h-1zM11 15h2v1h-2zM29 15h1v1h-1zM2 16h1v1h-1zM5 16h1v1h-1zM7 16h1v1h-1zM13 16h2v1h-2zM16 16h1v1h-1zM19 16h1v1h-1zM28 16h1v1h-1zM0 17h1v1h-1zM4 17h1v1h-1zM7 17h1v1h-1zM11 17h2v1h-2zM15 17h1v1h-1zM17 17h1v1h-1zM20 17h1v1h-1zM24 17h1v1h-1zM27 17h3v1h-3z"/><path fill="#48b8c8" d="M4 0h1v1h-1zM6 0h1v1h-1zM10 0h2v1h-2zM13 0h1v1h-1zM15 0h2v1h-2zM21 0h2v1h-2zM28 0h2v1h-2zM6 1h1v1h-1zM9 1h1v1h-1zM12 1h1v1h-1zM29 1h1v1h-1zM8 2h1v1h-1zM11 2h3v1h-3zM21 2h1v1h-1zM27 2h2v1h-2zM5 3h1v1h-1zM15 3h1v1h-1zM21 3h1v1h-1zM23 3h1v1h-1zM27 3h1v1h-1zM23 4h1v1h-1zM28 5h1v1h-1zM29 6h1v1h-1zM15 7h3v1h-3zM25 7h1v1h-1zM28 7h2v1h-2zM7 8h2v1h-2zM12 8h1v1h-1zM19 8h1v1h-1zM28 8h1v1h-1zM24 9h2v1h-2zM27 9h3v1h-3zM13 14h2v1h-2zM10 15h1v1h-1zM14 15h1v1h-1zM18 15h1v1h-1zM20 15h1v1h-1zM28 15h1v1h-1zM6 16h1v1h-1zM9 16h2v1h-2zM15 16h1v1h-1zM17 16h1v1h-1zM21 16h3v1h-3zM26 16h1v1h-1zM2 17h1v1h-1zM5 17h1v1h-1zM8 17h3v1h-3zM14 17h1v1h-1zM25 17h2v1h-2z"/><path fill="#43b6bf" d="M5 0h1v1h-1zM7 0h3v1h-3zM12 0h1v1h-1zM7 1h2v1h-2zM10 1h1v1h-1zM16 1h1v1h-1zM27 1h1v1h-1zM6 2h2v1h-2zM10 2h1v1h-1zM22 2h1v1h-1zM24 3h1v1h-1zM27 4h1v1h-1zM27 6h1v1h-1zM20 7h2v1h-2zM23 7h2v1h-2zM11 8h1v1h-1zM13 8h1v1h-1zM15 8h1v1h-1zM22 8h1v1h-1zM24 8h3v1h-3zM29 8h1v1h-1zM0 9h1v1h-1zM23 9h1v1h-1zM27 10h1v1h-1zM1 12h1v1h-1zM1 14h1v1h-1zM3 14h2v1h-2zM12 14h1v1h-1zM19 14h1v1h-1zM0 15h1v1h-1zM6 15h4v1h-4zM13 15h1v1h-1zM16 15h2v1h-2zM19 15h1v1h-1zM27 15h1v1h-1zM8 16h1v1h-1zM18 16h1v1h-1zM24 16h1v1h-1zM27 16h1v1h-1zM1 17h1v1h-1zM6 17h1v1h-1zM16 17h1v1h-1zM18 17h1v1h-1zM22 17h2v1h-2z"/><path fill="#35aea5" d="M17 0h2v1h-2zM26 0h1v1h-1zM24 1h1v1h-1zM26 1h1v1h-1zM19 2h1v1h-1zM25 2h2v1h-2zM16 4h1v1h-1zM15 6h1v1h-1zM26 6h1v1h-1zM5 9h1v1h-1zM10 9h1v1h-1zM12 9h2v1h-2zM17 9h1v1h-1zM19 9h1v1h-1zM21 9h1v1h-1zM3 10h1v1h-1zM5 10h1v1h-1zM22 10h1v1h-1zM5 11h1v1h-1zM29 11h1v1h-1zM6 12h1v1h-1zM11 13h1v1h-1zM14 13h1v1h-1zM19 13h2v1h-2zM18 14h1v1h-1zM20 14h1v1h-1zM22 14h1v1h-1zM15 15h1v1h-1z"/><path fill="#3ab1ae" d="M19 0h1v1h-1zM17 1h1v1h-1zM20 1h1v1h-1zM17 2h1v1h-1zM20 2h1v1h-1zM15 4h1v1h-1zM21 4h1v1h-1zM24 4h1v1h-1zM18 7h1v1h-1zM16 8h2v1h-2zM4 9h1v1h-1zM7 9h1v1h-1zM20 9h1v1h-1zM22 9h1v1h-1zM2 10h1v1h-1zM4 10h1v1h-1zM20 10h1v1h-1zM26 10h1v1h-1zM28 10h1v1h-1zM2 11h1v1h-1zM28 11h1v1h-1zM2 13h1v1h-1zM12 13h1v1h-1zM7 14h1v1h-1zM17 14h1v1h-1zM21 14h1v1h-1zM29 14h1v1h-1zM23 15h2v1h-2zM26 15h1v1h-1z"/><path fill="#3eb3b6" d="M20 0h1v1h-1zM27 0h1v1h-1zM14 1h1v1h-1zM19 1h1v1h-1zM23 1h1v1h-1zM28 1h1v1h-1zM16 2h1v1h-1zM23 2h1v1h-1zM16 3h1v1h-1zM22 4h1v1h-1zM15 5h1v1h-1zM27 5h1v1h-1zM19 7h1v1h-1zM14 8h1v1h-1zM18 8h1v1h-1zM6 9h1v1h-1zM0 10h2v1h-2zM29 10h1v1h-1zM0 13h2v1h-2zM3 13h4v1h-4zM13 13h1v1h-1zM0 14h1v1h-1zM5 14h2v1h-2zM8 14h3v1h-3zM15 14h2v1h-2zM27 14h2v1h-2zM1 15h2v1h-2zM21 15h2v1h-2zM25 15h1v1h-1zM1 16h1v1h-1zM20 16h1v1h-1zM25 16h1v1h-1z"/><path fill="#30ac9c" d="M23 0h3v1h-3zM18 2h1v1h-1zM20 3h1v1h-1zM25 3h2v1h-2zM26 4h1v1h-1zM22 6h1v1h-1zM11 9h1v1h-1zM19 10h1v1h-1zM23 10h3v1h-3zM1 11h1v1h-1zM4 11h1v1h-1zM21 11h2v1h-2zM0 12h1v1h-1zM2 12h1v1h-1zM4 12h2v1h-2zM27 12h2v1h-2zM8 13h2v1h-2zM17 13h2v1h-2zM28 13h2v1h-2zM26 14h1v1h-1z"/><path fill="#79bee2" d="M0 1h1v1h-1zM2 1h1v1h-1zM1 2h2v1h-2zM2 3h1v1h-1zM2 4h1v1h-1zM8 4h2v1h-2zM0 5h2v1h-2zM4 5h1v1h-1zM7 5h3v1h-3zM11 5h2v1h-2zM8 6h1v1h-1zM10 6h1v1h-1zM0 7h1v1h-1zM4 7h1v1h-1zM6 7h1v1h-1zM8 7h1v1h-1zM11 7h1v1h-1zM0 8h5v1h-5z"/><path fill="#60bbd5" d="M4 1h1v1h-1zM3 2h1v1h-1zM9 2h1v1h-1zM4 3h1v1h-1zM11 3h2v1h-2zM22 3h1v1h-1zM6 4h2v1h-2zM13 4h1v1h-1zM28 4h2v1h-2zM5 5h1v1h-1zM7 7h1v1h-1zM22 7h1v1h-1zM23 8h1v1h-1zM3 15h3v1h-3zM0 16h1v1h-1zM3 16h2v1h-2zM12 16h1v1h-1zM29 16h1v1h-1zM3 17h1v1h-1zM13 17h1v1h-1zM19 17h1v1h-1zM21 17h1v1h-1z"/><path fill="#3aaa87" d="M18 1h1v1h-1zM25 1h1v1h-1zM24 2h1v1h-1zM17 3h1v1h-1zM19 3h1v1h-1zM17 4h1v1h-1zM20 4h1v1h-1zM25 4h1v1h-1zM16 5h1v1h-1zM22 5h1v1h-1zM26 5h1v1h-1zM16 6h1v1h-1zM23 6h1v1h-1zM8 9h2v1h-2zM14 9h1v1h-1zM16 9h1v1h-1zM7 10h1v1h-1zM11 10h1v1h-1zM14 10h1v1h-1zM0 11h1v1h-1zM6 11h1v1h-1zM3 12h1v1h-1zM13 12h1v1h-1zM19 12h1v1h-1zM21 12h1v1h-1zM29 12h1v1h-1zM7 13h1v1h-1zM15 13h1v1h-1zM27 13h1v1h-1z"/><path fill="#5ba2e3" d="M0 3h1v1h-1zM2 7h1v1h-1z"/><path fill="#43a972" d="M18 3h1v1h-1zM18 4h2v1h-2zM21 5h1v1h-1zM23 5h2v1h-2zM17 6h5v1h-5zM24 6h1v1h-1zM15 9h1v1h-1zM18 9h1v1h-1zM6 10h1v1h-1zM8 10h1v1h-1zM12 10h2v1h-2zM18 10h1v1h-1zM21 10h1v1h-1zM3 11h1v1h-1zM19 11h1v1h-1zM12 12h1v1h-1zM14 12h1v1h-1zM10 13h1v1h-1zM16 13h1v1h-1zM21 13h2v1h-2z"/><path fill="#69ace5" d="M0 4h1v1h-1zM2 6h1v1h-1zM9 6h1v1h-1z"/><path fill="#77b6e6" d="M2 5h1v1h-1zM10 5h1v1h-1zM0 6h2v1h-2zM3 6h2v1h-2zM1 7h1v1h-1zM3 7h1v1h-1zM5 7h1v1h-1z"/><path fill="#78b030" d="M17 5h1v1h-1zM9 11h1v1h-1zM12 11h1v1h-1zM17 11h1v1h-1zM8 12h2v1h-2zM17 12h1v1h-1zM26 12h1v1h-1zM26 13h1v1h-1z"/><path fill="#8bb330" d="M18 5h1v1h-1zM8 11h1v1h-1zM24 12h1v1h-1zM24 14h1v1h-1z"/><path fill="#65ad46" d="M19 5h1v1h-1zM9 10h1v1h-1zM15 10h1v1h-1zM10 11h1v1h-1zM15 11h1v1h-1zM25 11h2v1h-2zM7 12h1v1h-1zM20 12h1v1h-1zM23 14h1v1h-1z"/><path fill="#52aa5d" d="M20 5h1v1h-1zM25 5h1v1h-1zM25 6h1v1h-1zM10 10h1v1h-1zM16 10h2v1h-2zM7 11h1v1h-1zM11 11h1v1h-1zM13 11h2v1h-2zM16 11h1v1h-1zM18 11h1v1h-1zM20 11h1v1h-1zM23 11h2v1h-2zM27 11h1v1h-1zM10 12h2v1h-2zM15 12h2v1h-2zM18 12h1v1h-1zM22 12h2v1h-2zM25 14h1v1h-1z"/><path fill="#b2b932" d="M25 12h1v1h-1zM24 13h1v1h-1z"/><path fill="#9eb630" d="M23 13h1v1h-1zM25 13h1v1h-1z"/></g></g><g filter="url(#bl2)"><ellipse cx="-5" cy="-17" rx="4" ry="2.5" fill="#ebb938" opacity="0.8"/><ellipse cx="-56" cy="13" rx="5" ry="4" fill="#ebb938" opacity="0.8"/><ellipse cx="30" cy="20" rx="6" ry="5" fill="#f8a828" opacity="0.8"/><ellipse cx="46.7" cy="19.5" rx="2.3" ry="6" fill="#f8a828"/><ellipse cx="-45" cy="-12.5" rx="45" ry="2.5" fill="#69ace5" opacity="0.6"/><ellipse cx="15" cy="-28" rx="10" ry="4" fill="#85c0e8" opacity="0.6"/></g></g><rect x="-1" y="-1.15" width="2" height="1.7" fill="#fff"/><rect x="-73" y="19.15" width="2" height="1.7" fill="#fff"/><use href="#cst"/><use href="#grd"/><use href="#aroct"/></svg><rect x="276.4" y="22.3" width="171.1" height="100.1" fill="none" stroke="#222" stroke-width="1"/><path d="M276.4 122.4v2.6M301.39 122.4v2.6M325.29 122.4v2.6M349.73 122.4v2.6M374.17 122.4v2.6M398.61 122.4v2.6M423.06 122.4v2.6M447.5 122.4v2.6M276.4 122.4h-2.6M276.4 97.37h-2.6M276.4 72.35h-2.6M276.4 47.33h-2.6M276.4 22.3h-2.6" stroke="#222" stroke-width=".8"/><g class="tk"><text x="276.4" y="134" text-anchor="middle">−90</text><text x="301.39" y="134" text-anchor="middle">−70</text><text x="325.29" y="134" text-anchor="middle">−50</text><text x="349.73" y="134" text-anchor="middle">−30</text><text x="374.17" y="134" text-anchor="middle">−10</text><text x="398.61" y="134" text-anchor="middle">10</text><text x="423.06" y="134" text-anchor="middle">30</text><text x="447.5" y="134" text-anchor="middle">50</text><text x="270.9" y="125.7" text-anchor="end">−40</text><text x="270.9" y="100.67" text-anchor="end">−20</text><text x="270.9" y="75.65" text-anchor="end">0</text><text x="270.9" y="50.62" text-anchor="end">20</text><text x="270.9" y="25.6" text-anchor="end">40</text></g><svg x="53.5" y="156.4" width="171.1" height="99" viewBox="-90 -40 140 80" preserveAspectRatio="none"><g filter="url(#bl)"><g transform="translate(-95 -45) scale(5)" shape-rendering="crispEdges"><path fill="#c5ba35" d="M0 0h4v1h-4zM9 0h1v1h-1zM11 0h1v1h-1zM23 0h1v1h-1zM25 0h1v1h-1zM2 1h1v1h-1zM5 1h1v1h-1zM7 1h1v1h-1zM9 1h1v1h-1zM11 1h1v1h-1zM13 1h1v1h-1zM15 1h1v1h-1zM23 1h2v1h-2zM1 2h1v1h-1zM3 2h1v1h-1zM10 2h1v1h-1zM24 2h2v1h-2zM24 3h1v1h-1zM16 4h1v1h-1zM18 4h2v1h-2zM21 4h1v1h-1zM15 5h4v1h-4zM21 5h1v1h-1zM23 5h1v1h-1zM16 6h2v1h-2zM24 6h1v1h-1zM18 7h1v1h-1zM16 8h2v1h-2zM20 8h1v1h-1zM14 9h2v1h-2zM17 9h1v1h-1z"/><path fill="#9eb630" d="M4 0h1v1h-1zM7 0h2v1h-2zM16 0h2v1h-2zM19 0h1v1h-1zM21 0h1v1h-1zM6 1h1v1h-1zM10 1h1v1h-1zM12 1h1v1h-1zM16 1h1v1h-1zM19 1h1v1h-1zM21 1h1v1h-1zM7 2h1v1h-1zM13 2h1v1h-1zM18 2h4v1h-4zM4 3h1v1h-1zM16 3h2v1h-2zM20 3h1v1h-1zM22 3h1v1h-1zM2 4h1v1h-1zM19 5h2v1h-2zM15 6h1v1h-1zM19 6h1v1h-1zM27 6h2v1h-2zM29 7h1v1h-1zM26 8h1v1h-1zM19 9h1v1h-1z"/><path fill="#d8bc38" d="M5 0h1v1h-1zM24 0h1v1h-1zM0 1h2v1h-2zM2 2h1v1h-1zM25 3h1v1h-1zM23 4h4v1h-4zM22 5h1v1h-1zM24 5h4v1h-4zM29 5h1v1h-1zM20 6h2v1h-2zM25 6h1v1h-1zM16 7h2v1h-2zM26 7h1v1h-1zM15 8h1v1h-1zM19 8h1v1h-1zM23 8h2v1h-2zM16 9h1v1h-1z"/><path fill="#b2b932" d="M6 0h1v1h-1zM10 0h1v1h-1zM12 0h4v1h-4zM18 0h1v1h-1zM20 0h1v1h-1zM22 0h1v1h-1zM3 1h1v1h-1zM8 1h1v1h-1zM14 1h1v1h-1zM17 1h2v1h-2zM20 1h1v1h-1zM22 1h1v1h-1zM0 2h1v1h-1zM4 2h2v1h-2zM11 2h2v1h-2zM14 2h1v1h-1zM17 2h1v1h-1zM22 2h2v1h-2zM0 3h4v1h-4zM18 3h1v1h-1zM23 3h1v1h-1zM1 4h1v1h-1zM15 4h1v1h-1zM20 4h1v1h-1zM22 4h1v1h-1zM28 5h1v1h-1zM18 6h1v1h-1zM29 6h1v1h-1zM14 7h2v1h-2zM27 7h1v1h-1zM18 9h1v1h-1zM21 9h1v1h-1z"/><path fill="#e2ba38" d="M26 0h1v1h-1zM4 1h1v1h-1zM25 1h2v1h-2zM28 1h1v1h-1zM27 3h1v1h-1zM27 4h3v1h-3zM22 6h2v1h-2zM26 6h1v1h-1zM19 7h3v1h-3zM23 7h3v1h-3zM18 8h1v1h-1zM21 8h2v1h-2zM25 8h1v1h-1z"/><path fill="#f5ae2e" d="M27 0h1v1h-1zM27 2h1v1h-1z"/><path fill="#f2b535" d="M28 0h2v1h-2zM26 2h1v1h-1zM29 2h1v1h-1zM29 3h1v1h-1z"/><path fill="#ebb938" d="M27 1h1v1h-1zM29 1h1v1h-1zM28 2h1v1h-1zM26 3h1v1h-1zM28 3h1v1h-1zM22 7h1v1h-1z"/><path fill="#8bb330" d="M6 2h1v1h-1zM8 2h2v1h-2zM15 2h2v1h-2zM5 3h3v1h-3zM11 3h1v1h-1zM13 3h1v1h-1zM19 3h1v1h-1zM0 4h1v1h-1zM3 4h1v1h-1zM14 4h1v1h-1zM14 6h1v1h-1zM12 7h1v1h-1zM28 7h1v1h-1zM13 8h2v1h-2zM27 8h2v1h-2zM20 9h1v1h-1zM23 9h2v1h-2zM17 10h1v1h-1zM19 10h1v1h-1z"/><path fill="#65ad46" d="M8 3h1v1h-1zM14 3h1v1h-1zM4 4h2v1h-2zM8 4h1v1h-1zM1 5h2v1h-2zM12 9h1v1h-1zM25 9h1v1h-1zM16 10h1v1h-1zM18 10h1v1h-1zM20 10h1v1h-1zM25 10h1v1h-1zM8 13h1v1h-1z"/><path fill="#78b030" d="M9 3h2v1h-2zM12 3h1v1h-1zM15 3h1v1h-1zM21 3h1v1h-1zM6 4h1v1h-1zM12 4h2v1h-2zM17 4h1v1h-1zM0 5h1v1h-1zM3 5h1v1h-1zM8 5h1v1h-1zM14 5h1v1h-1zM13 6h1v1h-1zM13 7h1v1h-1zM29 8h1v1h-1zM13 9h1v1h-1zM22 9h1v1h-1zM15 10h1v1h-1zM21 10h1v1h-1zM23 10h1v1h-1zM9 13h1v1h-1zM8 14h2v1h-2z"/><path fill="#52aa5d" d="M7 4h1v1h-1zM9 4h1v1h-1zM4 5h2v1h-2zM10 5h1v1h-1zM12 5h2v1h-2zM11 6h1v1h-1zM11 8h2v1h-2zM26 9h2v1h-2zM13 10h2v1h-2zM22 10h1v1h-1zM24 10h1v1h-1zM23 11h2v1h-2zM7 13h1v1h-1zM10 13h1v1h-1zM24 13h1v1h-1zM7 14h1v1h-1zM10 14h1v1h-1z"/><path fill="#43a972" d="M10 4h2v1h-2zM6 5h1v1h-1zM0 6h1v1h-1zM2 6h1v1h-1zM9 6h2v1h-2zM12 6h1v1h-1zM28 9h2v1h-2zM26 10h1v1h-1zM8 12h1v1h-1zM23 12h2v1h-2zM9 15h1v1h-1z"/><path fill="#30ac9c" d="M7 5h1v1h-1zM11 5h1v1h-1zM4 6h1v1h-1zM3 7h2v1h-2zM11 7h1v1h-1zM11 9h1v1h-1zM10 12h1v1h-1zM6 13h1v1h-1z"/><path fill="#3aaa87" d="M9 5h1v1h-1zM1 6h1v1h-1zM3 6h1v1h-1zM5 6h1v1h-1zM8 6h1v1h-1zM2 7h1v1h-1zM22 11h1v1h-1zM25 11h1v1h-1zM9 12h1v1h-1zM23 13h1v1h-1zM6 14h1v1h-1zM7 15h2v1h-2z"/><path fill="#35aea5" d="M6 6h2v1h-2zM0 7h2v1h-2zM6 7h1v1h-1zM10 7h1v1h-1zM10 8h1v1h-1zM11 10h2v1h-2zM27 10h1v1h-1zM11 11h2v1h-2zM15 11h1v1h-1zM20 11h2v1h-2zM22 12h1v1h-1zM25 12h1v1h-1zM25 13h1v1h-1zM23 14h2v1h-2zM6 15h1v1h-1zM10 15h1v1h-1zM7 16h2v1h-2z"/><path fill="#3ab1ae" d="M5 7h1v1h-1zM7 7h3v1h-3zM16 11h3v1h-3zM7 12h1v1h-1zM21 12h1v1h-1zM22 13h1v1h-1zM25 14h1v1h-1zM6 17h1v1h-1zM8 17h2v1h-2z"/><path fill="#3eb3b6" d="M0 8h1v1h-1zM2 8h2v1h-2zM10 10h1v1h-1zM9 11h1v1h-1zM19 11h1v1h-1zM26 11h1v1h-1zM11 13h1v1h-1zM11 14h1v1h-1zM6 16h1v1h-1zM9 16h1v1h-1zM7 17h1v1h-1z"/><path fill="#43b6bf" d="M1 8h1v1h-1zM4 8h1v1h-1zM10 9h1v1h-1zM28 10h1v1h-1zM8 11h1v1h-1zM14 11h1v1h-1zM6 12h1v1h-1zM10 16h1v1h-1z"/><path fill="#54bace" d="M5 8h2v1h-2zM9 8h1v1h-1zM13 11h1v1h-1zM16 12h1v1h-1zM18 12h1v1h-1zM26 12h1v1h-1zM21 13h1v1h-1zM26 13h1v1h-1zM23 15h3v1h-3zM10 17h1v1h-1z"/><path fill="#48b8c8" d="M7 8h2v1h-2zM8 10h2v1h-2zM29 10h1v1h-1zM10 11h1v1h-1zM11 12h1v1h-1zM17 12h1v1h-1zM19 12h2v1h-2zM5 13h1v1h-1zM5 14h1v1h-1zM22 14h1v1h-1z"/><path fill="#4d98e2" d="M0 9h1v1h-1zM2 10h1v1h-1zM2 11h1v1h-1zM27 13h2v1h-2zM13 14h1v1h-1zM18 14h1v1h-1zM28 14h1v1h-1zM18 15h1v1h-1zM3 16h1v1h-1zM14 16h1v1h-1zM15 17h1v1h-1zM29 17h1v1h-1z"/><path fill="#85c0e8" d="M1 9h1v1h-1zM7 9h1v1h-1zM5 11h1v1h-1zM13 13h1v1h-1zM18 13h1v1h-1zM20 13h1v1h-1zM4 14h1v1h-1zM4 15h1v1h-1zM26 15h2v1h-2zM27 16h1v1h-1zM12 17h1v1h-1zM20 17h2v1h-2z"/><path fill="#77b6e6" d="M2 9h1v1h-1zM4 10h1v1h-1zM4 11h1v1h-1zM29 11h1v1h-1zM4 12h1v1h-1zM15 13h2v1h-2zM20 14h1v1h-1zM27 14h1v1h-1zM12 15h1v1h-1zM20 15h1v1h-1zM18 16h1v1h-1zM27 17h1v1h-1z"/><path fill="#79bee2" d="M3 9h2v1h-2zM3 10h1v1h-1zM5 10h2v1h-2zM13 12h3v1h-3zM26 14h1v1h-1zM21 15h1v1h-1zM4 16h1v1h-1zM11 16h1v1h-1zM20 16h1v1h-1zM22 16h1v1h-1zM4 17h1v1h-1zM11 17h1v1h-1zM25 17h1v1h-1z"/><path fill="#6dbddb" d="M5 9h1v1h-1zM8 9h2v1h-2zM6 11h1v1h-1zM28 11h1v1h-1zM5 12h1v1h-1zM12 12h1v1h-1zM12 14h1v1h-1zM21 14h1v1h-1zM11 15h1v1h-1zM23 16h2v1h-2zM26 16h1v1h-1zM26 17h1v1h-1z"/><path fill="#60bbd5" d="M6 9h1v1h-1zM7 10h1v1h-1zM7 11h1v1h-1zM27 11h1v1h-1zM12 13h1v1h-1zM5 15h1v1h-1zM22 15h1v1h-1zM5 16h1v1h-1zM21 16h1v1h-1zM25 16h1v1h-1zM5 17h1v1h-1zM22 17h3v1h-3z"/><path fill="#327dde" d="M0 10h1v1h-1zM1 11h1v1h-1zM1 12h1v1h-1zM1 13h1v1h-1zM0 15h1v1h-1zM0 16h2v1h-2zM0 17h1v1h-1z"/><path fill="#5ba2e3" d="M1 10h1v1h-1zM3 11h1v1h-1zM28 12h2v1h-2zM3 13h1v1h-1zM17 13h1v1h-1zM3 14h1v1h-1zM16 14h1v1h-1zM19 14h1v1h-1zM3 15h1v1h-1zM13 15h5v1h-5zM28 15h1v1h-1zM16 16h2v1h-2zM28 16h1v1h-1zM13 17h2v1h-2zM16 17h1v1h-1zM18 17h1v1h-1z"/><path fill="#3986df" d="M0 11h1v1h-1zM2 12h1v1h-1zM0 14h3v1h-3zM1 15h2v1h-2zM15 16h1v1h-1z"/><path fill="#256cdd" d="M0 12h1v1h-1z"/><path fill="#3f8ee0" d="M3 12h1v1h-1zM0 13h1v1h-1zM2 13h1v1h-1zM29 13h1v1h-1zM29 14h1v1h-1zM2 16h1v1h-1zM13 16h1v1h-1zM2 17h1v1h-1z"/><path fill="#69ace5" d="M27 12h1v1h-1zM4 13h1v1h-1zM14 13h1v1h-1zM19 13h1v1h-1zM14 14h2v1h-2zM17 14h1v1h-1zM19 15h1v1h-1zM29 15h1v1h-1zM12 16h1v1h-1zM19 16h1v1h-1zM29 16h1v1h-1zM3 17h1v1h-1zM17 17h1v1h-1zM19 17h1v1h-1zM28 17h1v1h-1z"/><path fill="#2c75de" d="M1 17h1v1h-1z"/></g></g><g filter="url(#bl2)"><ellipse cx="-11" cy="-9.5" rx="4.5" ry="2" fill="#f88410"/><ellipse cx="17.5" cy="-5.5" rx="6" ry="2.5" fill="#f06a20"/><ellipse cx="35" cy="-9.5" rx="3" ry="2" fill="#f67f13"/><ellipse cx="2" cy="-8.5" rx="4.5" ry="2" fill="#f88b15"/><ellipse cx="-62" cy="4" rx="6" ry="4" fill="#69ace5" opacity="0.7"/></g><path d="M-76.5 11.5L-73 12.3L-70 13.8L-67 16.2L-64.5 18.8L-63.3 21L-63.8 24L-65.8 27L-68.3 29.4L-69.8 28.5L-70.3 24L-70.3 19L-71.5 17.2L-74 15.5L-76.5 12.5Z" fill="#fff"/><use href="#cst"/><use href="#grd"/><use href="#arfeb"/></svg><rect x="53.5" y="156.4" width="171.1" height="99" fill="none" stroke="#222" stroke-width="1"/><path d="M53.5 255.4v2.6M78.49 255.4v2.6M102.39 255.4v2.6M126.83 255.4v2.6M151.27 255.4v2.6M175.71 255.4v2.6M200.16 255.4v2.6M224.6 255.4v2.6M53.5 255.4h-2.6M53.5 230.65h-2.6M53.5 205.9h-2.6M53.5 181.15h-2.6M53.5 156.4h-2.6" stroke="#222" stroke-width=".8"/><g class="tk"><text x="53.5" y="267" text-anchor="middle">−90</text><text x="78.49" y="267" text-anchor="middle">−70</text><text x="102.39" y="267" text-anchor="middle">−50</text><text x="126.83" y="267" text-anchor="middle">−30</text><text x="151.27" y="267" text-anchor="middle">−10</text><text x="175.71" y="267" text-anchor="middle">10</text><text x="200.16" y="267" text-anchor="middle">30</text><text x="224.6" y="267" text-anchor="middle">50</text><text x="48" y="258.7" text-anchor="end">−40</text><text x="48" y="233.95" text-anchor="end">−20</text><text x="48" y="209.2" text-anchor="end">0</text><text x="48" y="184.45" text-anchor="end">20</text><text x="48" y="159.7" text-anchor="end">40</text></g><svg x="276.4" y="156.4" width="171.1" height="99" viewBox="-90 -40 140 80" preserveAspectRatio="none"><g filter="url(#bl)"><g transform="translate(-95 -45) scale(5)" shape-rendering="crispEdges"><path fill="#8bb330" d="M0 0h1v1h-1zM5 0h1v1h-1zM15 0h1v1h-1zM18 0h1v1h-1zM22 0h2v1h-2zM1 1h1v1h-1zM3 1h1v1h-1zM14 1h2v1h-2zM23 1h1v1h-1zM1 2h1v1h-1zM3 2h1v1h-1zM14 2h1v1h-1zM25 2h1v1h-1zM22 3h2v1h-2zM21 4h2v1h-2zM17 5h1v1h-1zM28 5h1v1h-1zM24 6h1v1h-1zM24 8h1v1h-1zM24 9h1v1h-1zM10 10h1v1h-1zM22 10h1v1h-1zM25 10h1v1h-1zM2 11h2v1h-2zM1 12h1v1h-1zM1 13h1v1h-1zM1 14h1v1h-1zM9 14h1v1h-1zM11 14h2v1h-2zM15 14h1v1h-1zM17 14h1v1h-1zM20 14h1v1h-1zM22 14h1v1h-1zM25 14h1v1h-1zM3 15h1v1h-1zM5 15h2v1h-2zM6 17h1v1h-1z"/><path fill="#b2b932" d="M1 0h2v1h-2zM0 1h1v1h-1zM25 1h1v1h-1zM24 2h1v1h-1zM25 3h1v1h-1zM25 4h1v1h-1zM19 5h4v1h-4zM24 5h1v1h-1zM27 5h1v1h-1zM29 5h1v1h-1zM23 6h1v1h-1zM23 10h2v1h-2zM6 11h1v1h-1zM11 11h2v1h-2zM14 11h5v1h-5zM4 12h1v1h-1zM7 12h1v1h-1zM13 12h1v1h-1zM18 12h1v1h-1zM6 13h1v1h-1zM18 13h1v1h-1zM22 13h1v1h-1zM26 13h1v1h-1zM4 14h1v1h-1zM7 14h1v1h-1zM19 14h1v1h-1z"/><path fill="#9eb630" d="M3 0h1v1h-1zM13 0h1v1h-1zM25 0h1v1h-1zM2 1h1v1h-1zM13 1h1v1h-1zM16 1h3v1h-3zM20 1h1v1h-1zM2 2h1v1h-1zM22 2h2v1h-2zM24 3h1v1h-1zM23 4h2v1h-2zM18 5h1v1h-1zM23 5h1v1h-1zM26 5h1v1h-1zM20 6h2v1h-2zM7 10h3v1h-3zM11 10h1v1h-1zM20 10h2v1h-2zM0 11h2v1h-2zM4 11h2v1h-2zM13 11h1v1h-1zM3 13h2v1h-2zM12 13h1v1h-1zM15 13h1v1h-1zM17 13h1v1h-1zM2 14h1v1h-1zM5 14h2v1h-2zM8 14h1v1h-1zM18 14h1v1h-1zM7 15h1v1h-1zM7 17h1v1h-1z"/><path fill="#65ad46" d="M4 0h1v1h-1zM7 0h1v1h-1zM10 0h1v1h-1zM12 0h1v1h-1zM14 0h1v1h-1zM20 0h2v1h-2zM12 1h1v1h-1zM19 1h1v1h-1zM0 2h1v1h-1zM5 2h1v1h-1zM13 2h1v1h-1zM15 2h1v1h-1zM17 2h1v1h-1zM20 2h1v1h-1zM1 3h1v1h-1zM12 3h1v1h-1zM17 3h1v1h-1zM17 4h1v1h-1zM20 4h1v1h-1zM17 6h1v1h-1zM22 7h1v1h-1zM21 8h3v1h-3zM10 9h1v1h-1zM21 9h2v1h-2zM12 10h2v1h-2zM16 10h2v1h-2zM27 13h1v1h-1zM3 14h1v1h-1zM16 14h1v1h-1zM9 15h1v1h-1zM19 15h1v1h-1zM21 15h1v1h-1zM6 16h1v1h-1zM8 16h1v1h-1zM8 17h1v1h-1zM22 17h1v1h-1z"/><path fill="#78b030" d="M6 0h1v1h-1zM16 0h2v1h-2zM4 1h2v1h-2zM21 1h2v1h-2zM16 2h1v1h-1zM18 2h1v1h-1zM14 3h1v1h-1zM20 3h2v1h-2zM16 4h1v1h-1zM18 4h2v1h-2zM25 5h1v1h-1zM18 6h1v1h-1zM22 6h1v1h-1zM25 6h2v1h-2zM23 7h2v1h-2zM23 9h1v1h-1zM18 10h2v1h-2zM27 12h1v1h-1zM13 13h1v1h-1zM0 14h1v1h-1zM10 14h1v1h-1zM13 14h2v1h-2zM21 14h1v1h-1zM1 15h1v1h-1zM8 15h1v1h-1zM7 16h1v1h-1z"/><path fill="#52aa5d" d="M8 0h2v1h-2zM19 0h1v1h-1zM6 1h2v1h-2zM4 2h1v1h-1zM11 2h2v1h-2zM19 2h1v1h-1zM21 2h1v1h-1zM0 3h1v1h-1zM13 3h1v1h-1zM15 3h2v1h-2zM19 3h1v1h-1zM16 5h1v1h-1zM16 6h1v1h-1zM19 6h1v1h-1zM20 7h2v1h-2zM8 9h1v1h-1zM25 9h1v1h-1zM1 10h1v1h-1zM6 10h1v1h-1zM15 10h1v1h-1zM27 11h1v1h-1zM28 13h1v1h-1zM26 14h1v1h-1zM0 15h1v1h-1zM2 15h1v1h-1zM13 15h1v1h-1zM17 15h1v1h-1zM22 15h3v1h-3zM5 16h1v1h-1zM9 16h1v1h-1zM20 16h1v1h-1zM5 17h1v1h-1zM9 17h1v1h-1zM18 17h2v1h-2z"/><path fill="#43a972" d="M11 0h1v1h-1zM8 1h1v1h-1zM10 1h2v1h-2zM6 2h3v1h-3zM3 3h1v1h-1zM11 3h1v1h-1zM18 3h1v1h-1zM14 4h2v1h-2zM27 6h2v1h-2zM25 7h1v1h-1zM9 9h1v1h-1zM11 9h1v1h-1zM15 9h1v1h-1zM19 9h2v1h-2zM2 10h1v1h-1zM4 10h1v1h-1zM14 10h1v1h-1zM26 10h1v1h-1zM27 14h3v1h-3zM4 15h1v1h-1zM11 15h2v1h-2zM14 15h2v1h-2zM18 15h1v1h-1zM20 15h1v1h-1zM26 15h1v1h-1zM1 16h2v1h-2zM4 16h1v1h-1zM10 16h1v1h-1zM14 16h1v1h-1zM19 16h1v1h-1zM21 16h2v1h-2zM27 16h1v1h-1zM13 17h3v1h-3zM20 17h1v1h-1zM23 17h2v1h-2z"/><path fill="#c5ba35" d="M24 0h1v1h-1zM24 1h1v1h-1zM26 4h1v1h-1zM7 11h1v1h-1zM0 12h1v1h-1zM3 12h1v1h-1zM6 12h1v1h-1zM12 12h1v1h-1zM14 12h4v1h-4zM0 13h1v1h-1zM2 13h1v1h-1zM5 13h1v1h-1zM8 13h1v1h-1zM11 13h1v1h-1zM14 13h1v1h-1zM16 13h1v1h-1zM19 13h2v1h-2zM23 14h2v1h-2z"/><path fill="#e2ba38" d="M26 0h1v1h-1zM26 1h1v1h-1zM9 12h1v1h-1zM20 12h1v1h-1zM21 13h1v1h-1zM23 13h1v1h-1zM25 13h1v1h-1z"/><path fill="#f2b535" d="M27 0h1v1h-1zM27 2h1v1h-1zM27 3h1v1h-1zM22 11h1v1h-1zM23 12h1v1h-1z"/><path fill="#f8a828" d="M28 0h2v1h-2zM28 1h1v1h-1zM28 4h1v1h-1zM23 11h1v1h-1zM24 12h2v1h-2z"/><path fill="#30ac9c" d="M9 1h1v1h-1zM4 3h4v1h-4zM0 4h1v1h-1zM11 4h2v1h-2zM19 7h1v1h-1zM19 8h2v1h-2zM7 9h1v1h-1zM13 9h1v1h-1zM18 9h1v1h-1zM0 10h1v1h-1zM27 15h1v1h-1zM3 16h1v1h-1zM12 16h2v1h-2zM15 16h1v1h-1zM24 16h2v1h-2zM29 16h1v1h-1zM1 17h1v1h-1zM21 17h1v1h-1zM26 17h3v1h-3z"/><path fill="#ebb938" d="M27 1h1v1h-1zM26 3h1v1h-1zM27 4h1v1h-1zM9 11h2v1h-2zM11 12h1v1h-1zM19 12h1v1h-1zM21 12h2v1h-2zM24 13h1v1h-1z"/><path fill="#f5ae2e" d="M29 1h1v1h-1zM29 2h1v1h-1zM29 4h1v1h-1zM24 11h2v1h-2z"/><path fill="#3aaa87" d="M9 2h2v1h-2zM2 3h1v1h-1zM10 3h1v1h-1zM13 4h1v1h-1zM14 5h2v1h-2zM29 6h1v1h-1zM26 7h1v1h-1zM25 8h1v1h-1zM3 10h1v1h-1zM5 10h1v1h-1zM29 12h1v1h-1zM29 13h1v1h-1zM10 15h1v1h-1zM16 15h1v1h-1zM25 15h1v1h-1zM28 15h1v1h-1zM0 16h1v1h-1zM11 16h1v1h-1zM16 16h3v1h-3zM23 16h1v1h-1zM28 16h1v1h-1zM0 17h1v1h-1zM2 17h3v1h-3zM10 17h1v1h-1zM12 17h1v1h-1zM16 17h2v1h-2zM29 17h1v1h-1z"/><path fill="#d8bc38" d="M26 2h1v1h-1zM8 11h1v1h-1zM19 11h3v1h-3zM26 11h1v1h-1zM2 12h1v1h-1zM5 12h1v1h-1zM8 12h1v1h-1zM10 12h1v1h-1zM26 12h1v1h-1zM7 13h1v1h-1zM9 13h2v1h-2z"/><path fill="#f89a1e" d="M28 2h1v1h-1zM29 3h1v1h-1z"/><path fill="#35aea5" d="M8 3h2v1h-2zM1 4h1v1h-1zM15 6h1v1h-1zM26 8h1v1h-1zM12 9h1v1h-1zM14 9h1v1h-1zM16 9h2v1h-2zM26 9h1v1h-1zM28 11h2v1h-2zM28 12h1v1h-1zM26 16h1v1h-1zM11 17h1v1h-1zM25 17h1v1h-1z"/><path fill="#f8921a" d="M28 3h1v1h-1z"/><path fill="#3ab1ae" d="M2 4h2v1h-2zM18 7h1v1h-1zM29 7h1v1h-1zM5 9h1v1h-1zM27 10h3v1h-3zM29 15h1v1h-1z"/><path fill="#3eb3b6" d="M4 4h1v1h-1zM9 4h2v1h-2zM12 5h1v1h-1zM14 6h1v1h-1zM17 7h1v1h-1zM27 7h1v1h-1zM18 8h1v1h-1zM28 8h1v1h-1zM0 9h1v1h-1zM3 9h1v1h-1zM6 9h1v1h-1z"/><path fill="#48b8c8" d="M5 4h1v1h-1zM9 5h1v1h-1zM11 5h1v1h-1zM13 5h1v1h-1zM14 7h1v1h-1zM8 8h2v1h-2zM11 8h1v1h-1zM13 8h2v1h-2zM16 8h1v1h-1zM29 8h1v1h-1zM29 9h1v1h-1z"/><path fill="#43b6bf" d="M6 4h3v1h-3zM2 5h1v1h-1zM12 6h1v1h-1zM15 7h2v1h-2zM28 7h1v1h-1zM10 8h1v1h-1zM15 8h1v1h-1zM27 8h1v1h-1zM1 9h2v1h-2zM4 9h1v1h-1zM27 9h2v1h-2z"/><path fill="#54bace" d="M0 5h2v1h-2zM3 5h1v1h-1zM12 8h1v1h-1zM17 8h1v1h-1z"/><path fill="#60bbd5" d="M4 5h1v1h-1zM7 5h2v1h-2zM10 5h1v1h-1zM6 6h1v1h-1zM9 6h2v1h-2zM13 6h1v1h-1zM7 7h1v1h-1zM10 7h1v1h-1zM13 7h1v1h-1zM5 8h3v1h-3z"/><path fill="#79bee2" d="M5 5h1v1h-1zM0 6h2v1h-2zM3 6h1v1h-1zM5 6h1v1h-1zM11 6h1v1h-1zM8 7h2v1h-2zM11 7h1v1h-1zM4 8h1v1h-1z"/><path fill="#6dbddb" d="M6 5h1v1h-1zM4 6h1v1h-1zM7 6h2v1h-2zM12 7h1v1h-1zM3 8h1v1h-1z"/><path fill="#85c0e8" d="M2 6h1v1h-1zM5 7h2v1h-2z"/><path fill="#5ba2e3" d="M0 7h1v1h-1z"/><path fill="#4d98e2" d="M1 7h1v1h-1z"/><path fill="#77b6e6" d="M2 7h3v1h-3zM0 8h1v1h-1z"/><path fill="#69ace5" d="M1 8h2v1h-2z"/></g></g><g filter="url(#bl2)"><ellipse cx="25" cy="17" rx="9" ry="6" fill="#f57a16" opacity="0.75"/><ellipse cx="-50" cy="13" rx="6" ry="5" fill="#f8a828" opacity="0.6"/><ellipse cx="44" cy="-32" rx="6" ry="6" fill="#f88410" opacity="0.7"/><ellipse cx="-48" cy="-11" rx="42" ry="4" fill="#85c0e8" opacity="0.7"/><ellipse cx="-84" cy="-4" rx="7" ry="5" fill="#3f8ee0" opacity="0.6"/></g><path d="M-76.5 11.5L-73 12.3L-70 13.8L-67 16.2L-64.5 18.8L-63.3 21L-63.8 24L-65.8 27L-68.3 29.4L-69.8 28.5L-70.3 24L-70.3 19L-71.5 17.2L-74 15.5L-76.5 12.5Z" fill="#fff"/><use href="#cst"/><use href="#grd"/><use href="#aroct"/></svg><rect x="276.4" y="156.4" width="171.1" height="99" fill="none" stroke="#222" stroke-width="1"/><path d="M276.4 255.4v2.6M301.39 255.4v2.6M325.29 255.4v2.6M349.73 255.4v2.6M374.17 255.4v2.6M398.61 255.4v2.6M423.06 255.4v2.6M447.5 255.4v2.6M276.4 255.4h-2.6M276.4 230.65h-2.6M276.4 205.9h-2.6M276.4 181.15h-2.6M276.4 156.4h-2.6" stroke="#222" stroke-width=".8"/><g class="tk"><text x="276.4" y="267" text-anchor="middle">−90</text><text x="301.39" y="267" text-anchor="middle">−70</text><text x="325.29" y="267" text-anchor="middle">−50</text><text x="349.73" y="267" text-anchor="middle">−30</text><text x="374.17" y="267" text-anchor="middle">−10</text><text x="398.61" y="267" text-anchor="middle">10</text><text x="423.06" y="267" text-anchor="middle">30</text><text x="447.5" y="267" text-anchor="middle">50</text><text x="270.9" y="258.7" text-anchor="end">−40</text><text x="270.9" y="233.95" text-anchor="end">−20</text><text x="270.9" y="209.2" text-anchor="end">0</text><text x="270.9" y="184.45" text-anchor="end">20</text><text x="270.9" y="159.7" text-anchor="end">40</text></g><svg x="53.5" y="289.4" width="171.1" height="100" viewBox="-90 -40 140 80" preserveAspectRatio="none"><g filter="url(#bl)"><g transform="translate(-95 -45) scale(5)" shape-rendering="crispEdges"><path fill="#b2b932" d="M0 0h1v1h-1zM21 0h3v1h-3zM1 1h2v1h-2zM4 1h1v1h-1zM9 1h1v1h-1zM19 1h1v1h-1zM22 1h4v1h-4zM0 2h1v1h-1zM5 2h4v1h-4zM10 2h1v1h-1zM18 2h1v1h-1zM20 2h1v1h-1zM22 2h1v1h-1zM24 2h1v1h-1zM26 2h1v1h-1zM0 3h2v1h-2zM5 3h3v1h-3zM16 3h1v1h-1zM18 3h1v1h-1zM25 3h1v1h-1zM27 3h1v1h-1zM0 4h2v1h-2zM4 4h1v1h-1zM8 4h1v1h-1zM22 4h1v1h-1zM24 4h3v1h-3zM28 4h2v1h-2zM25 5h2v1h-2zM17 6h1v1h-1zM20 6h1v1h-1z"/><path fill="#9eb630" d="M1 0h1v1h-1zM10 0h1v1h-1zM13 0h2v1h-2zM16 0h1v1h-1zM18 0h1v1h-1zM20 0h1v1h-1zM24 0h1v1h-1zM0 1h1v1h-1zM14 1h1v1h-1zM17 1h1v1h-1zM9 2h1v1h-1zM14 2h2v1h-2zM21 2h1v1h-1zM3 3h2v1h-2zM12 3h1v1h-1zM15 3h1v1h-1zM17 3h1v1h-1zM19 3h2v1h-2zM22 3h1v1h-1zM24 3h1v1h-1zM2 4h1v1h-1zM5 4h1v1h-1zM14 4h1v1h-1zM16 4h1v1h-1zM16 5h3v1h-3zM20 5h3v1h-3zM21 6h1v1h-1zM23 6h1v1h-1zM19 7h1v1h-1z"/><path fill="#d8bc38" d="M2 0h2v1h-2zM6 0h2v1h-2zM26 0h1v1h-1zM5 1h1v1h-1zM11 1h1v1h-1zM21 1h1v1h-1zM2 2h1v1h-1zM26 3h1v1h-1zM27 4h1v1h-1zM23 5h1v1h-1z"/><path fill="#c5ba35" d="M4 0h2v1h-2zM8 0h2v1h-2zM11 0h1v1h-1zM17 0h1v1h-1zM25 0h1v1h-1zM3 1h1v1h-1zM6 1h3v1h-3zM12 1h2v1h-2zM18 1h1v1h-1zM20 1h1v1h-1zM26 1h1v1h-1zM1 2h1v1h-1zM3 2h2v1h-2zM11 2h1v1h-1zM13 2h1v1h-1zM23 2h1v1h-1zM2 3h1v1h-1zM8 3h1v1h-1zM14 3h1v1h-1zM21 3h1v1h-1zM23 3h1v1h-1zM28 3h1v1h-1zM17 4h3v1h-3zM19 5h1v1h-1zM19 6h1v1h-1z"/><path fill="#8bb330" d="M12 0h1v1h-1zM15 0h1v1h-1zM19 0h1v1h-1zM10 1h1v1h-1zM15 1h2v1h-2zM12 2h1v1h-1zM19 2h1v1h-1zM9 3h3v1h-3zM13 3h1v1h-1zM3 4h1v1h-1zM7 4h1v1h-1zM9 4h1v1h-1zM12 4h2v1h-2zM15 4h1v1h-1zM20 4h2v1h-2zM23 4h1v1h-1zM13 5h1v1h-1zM15 5h1v1h-1zM24 5h1v1h-1zM18 6h1v1h-1zM22 6h1v1h-1zM20 7h2v1h-2z"/><path fill="#f2b535" d="M27 0h3v1h-3zM28 2h1v1h-1z"/><path fill="#ebb938" d="M27 1h3v1h-3zM27 2h1v1h-1z"/><path fill="#78b030" d="M16 2h2v1h-2zM25 2h1v1h-1zM6 4h1v1h-1zM11 4h1v1h-1zM0 5h2v1h-2zM6 5h3v1h-3zM11 5h1v1h-1zM14 5h1v1h-1zM16 6h1v1h-1zM24 6h1v1h-1zM18 7h1v1h-1z"/><path fill="#e2ba38" d="M29 2h1v1h-1zM29 3h1v1h-1z"/><path fill="#65ad46" d="M10 4h1v1h-1zM10 5h1v1h-1zM12 5h1v1h-1zM27 5h3v1h-3zM23 7h1v1h-1z"/><path fill="#52aa5d" d="M2 5h3v1h-3zM15 6h1v1h-1zM25 6h2v1h-2zM17 7h1v1h-1zM22 7h1v1h-1zM19 8h1v1h-1z"/><path fill="#43a972" d="M5 5h1v1h-1zM9 5h1v1h-1zM13 6h2v1h-2zM20 8h1v1h-1z"/><path fill="#3ab1ae" d="M0 6h1v1h-1zM5 6h1v1h-1zM7 6h1v1h-1zM10 6h1v1h-1zM12 6h1v1h-1zM15 7h1v1h-1z"/><path fill="#3aaa87" d="M1 6h1v1h-1zM11 6h1v1h-1zM24 7h1v1h-1zM18 8h1v1h-1zM21 8h1v1h-1z"/><path fill="#35aea5" d="M2 6h1v1h-1zM4 6h1v1h-1zM6 6h1v1h-1zM8 6h1v1h-1zM28 6h2v1h-2zM22 8h2v1h-2z"/><path fill="#30ac9c" d="M3 6h1v1h-1zM27 6h1v1h-1zM16 7h1v1h-1zM25 7h1v1h-1zM17 8h1v1h-1z"/><path fill="#3eb3b6" d="M9 6h1v1h-1zM26 7h1v1h-1z"/><path fill="#6dbddb" d="M0 7h1v1h-1zM2 7h3v1h-3zM9 7h1v1h-1zM12 7h1v1h-1zM25 8h1v1h-1zM14 9h1v1h-1zM17 10h1v1h-1zM19 11h1v1h-1zM9 14h1v1h-1zM27 14h1v1h-1zM29 14h1v1h-1zM12 15h1v1h-1zM25 15h1v1h-1zM9 16h1v1h-1zM22 16h4v1h-4zM28 16h2v1h-2zM10 17h1v1h-1zM23 17h2v1h-2zM26 17h1v1h-1zM28 17h2v1h-2z"/><path fill="#60bbd5" d="M1 7h1v1h-1zM10 7h2v1h-2zM28 7h2v1h-2zM15 9h3v1h-3zM10 15h1v1h-1zM26 16h1v1h-1zM25 17h1v1h-1zM27 17h1v1h-1z"/><path fill="#85c0e8" d="M5 7h1v1h-1zM14 8h1v1h-1zM29 8h1v1h-1zM16 10h1v1h-1zM19 10h1v1h-1zM15 11h3v1h-3zM13 12h1v1h-1zM15 12h1v1h-1zM19 12h2v1h-2zM11 13h1v1h-1zM15 13h1v1h-1zM18 13h1v1h-1zM29 13h1v1h-1zM10 14h1v1h-1zM17 14h1v1h-1zM9 15h1v1h-1zM14 15h1v1h-1zM17 15h1v1h-1zM23 15h2v1h-2zM4 16h1v1h-1zM7 16h2v1h-2zM13 16h1v1h-1zM17 16h1v1h-1zM12 17h2v1h-2zM16 17h1v1h-1zM21 17h1v1h-1z"/><path fill="#5ba2e3" d="M6 7h1v1h-1zM0 8h1v1h-1zM10 8h1v1h-1zM27 9h1v1h-1zM29 9h1v1h-1zM1 10h1v1h-1zM12 10h1v1h-1zM22 10h1v1h-1zM28 10h1v1h-1zM11 12h1v1h-1zM14 12h1v1h-1zM21 12h1v1h-1zM0 13h1v1h-1zM9 13h1v1h-1zM20 13h1v1h-1zM3 14h1v1h-1zM20 14h1v1h-1zM24 14h1v1h-1zM0 15h2v1h-2zM5 15h1v1h-1zM8 15h1v1h-1zM0 16h3v1h-3zM6 16h1v1h-1zM3 17h1v1h-1zM5 17h3v1h-3zM18 17h1v1h-1z"/><path fill="#69ace5" d="M7 7h2v1h-2zM2 8h1v1h-1zM11 8h3v1h-3zM27 8h2v1h-2zM24 9h1v1h-1zM28 9h1v1h-1zM21 10h1v1h-1zM29 10h1v1h-1zM13 11h1v1h-1zM20 11h1v1h-1zM0 12h1v1h-1zM12 12h1v1h-1zM1 13h2v1h-2zM12 13h2v1h-2zM16 13h1v1h-1zM19 13h1v1h-1zM0 14h1v1h-1zM15 14h1v1h-1zM21 14h1v1h-1zM25 14h1v1h-1zM2 15h1v1h-1zM16 15h1v1h-1zM18 15h4v1h-4zM3 16h1v1h-1zM16 16h1v1h-1zM0 17h1v1h-1zM2 17h1v1h-1zM8 17h1v1h-1zM17 17h1v1h-1zM20 17h1v1h-1z"/><path fill="#54bace" d="M13 7h2v1h-2zM27 7h1v1h-1zM15 8h1v1h-1zM28 15h1v1h-1z"/><path fill="#4d98e2" d="M1 8h1v1h-1zM3 8h1v1h-1zM9 8h1v1h-1zM2 9h1v1h-1zM11 9h2v1h-2zM25 9h2v1h-2zM27 10h1v1h-1zM12 11h1v1h-1zM22 11h1v1h-1zM27 11h3v1h-3zM1 12h2v1h-2zM3 13h1v1h-1zM21 13h2v1h-2zM1 14h2v1h-2zM4 14h1v1h-1zM4 15h1v1h-1zM5 16h1v1h-1z"/><path fill="#3986df" d="M4 8h2v1h-2zM7 8h1v1h-1zM3 9h1v1h-1zM9 9h1v1h-1zM1 11h2v1h-2zM10 11h1v1h-1zM4 12h1v1h-1zM9 12h1v1h-1zM26 12h1v1h-1zM24 13h1v1h-1zM22 14h2v1h-2z"/><path fill="#327dde" d="M6 8h1v1h-1zM4 9h1v1h-1zM7 9h1v1h-1zM9 10h1v1h-1zM25 10h1v1h-1zM22 12h1v1h-1zM8 13h1v1h-1z"/><path fill="#3f8ee0" d="M8 8h1v1h-1zM0 9h2v1h-2zM10 9h1v1h-1zM0 10h1v1h-1zM10 10h2v1h-2zM23 10h1v1h-1zM0 11h1v1h-1zM3 11h1v1h-1zM11 11h1v1h-1zM3 12h1v1h-1zM10 12h1v1h-1zM4 13h1v1h-1zM25 13h2v1h-2zM8 14h1v1h-1zM6 15h2v1h-2z"/><path fill="#48b8c8" d="M16 8h1v1h-1zM24 8h1v1h-1zM18 9h4v1h-4z"/><path fill="#79bee2" d="M26 8h1v1h-1zM22 9h2v1h-2zM14 10h1v1h-1zM18 10h1v1h-1zM20 10h1v1h-1zM14 11h1v1h-1zM18 11h1v1h-1zM16 12h3v1h-3zM17 13h1v1h-1zM28 13h1v1h-1zM11 14h1v1h-1zM16 14h1v1h-1zM18 14h1v1h-1zM28 14h1v1h-1zM11 15h1v1h-1zM27 15h1v1h-1zM29 15h1v1h-1zM10 16h2v1h-2zM27 16h1v1h-1zM9 17h1v1h-1zM22 17h1v1h-1z"/><path fill="#256cdd" d="M5 9h1v1h-1zM3 10h1v1h-1zM8 10h1v1h-1zM4 11h1v1h-1zM8 11h2v1h-2zM24 11h2v1h-2zM8 12h1v1h-1zM24 12h2v1h-2zM7 13h1v1h-1zM7 14h1v1h-1z"/><path fill="#2360d8" d="M6 9h1v1h-1zM5 10h1v1h-1zM7 10h1v1h-1zM5 11h1v1h-1zM7 12h1v1h-1z"/><path fill="#2c75de" d="M8 9h1v1h-1zM2 10h1v1h-1zM4 10h1v1h-1zM24 10h1v1h-1zM26 10h1v1h-1zM23 11h1v1h-1zM26 11h1v1h-1zM23 13h1v1h-1zM5 14h2v1h-2z"/><path fill="#77b6e6" d="M13 9h1v1h-1zM13 10h1v1h-1zM15 10h1v1h-1zM21 11h1v1h-1zM27 12h3v1h-3zM10 13h1v1h-1zM14 13h1v1h-1zM27 13h1v1h-1zM12 14h3v1h-3zM19 14h1v1h-1zM26 14h1v1h-1zM3 15h1v1h-1zM13 15h1v1h-1zM15 15h1v1h-1zM22 15h1v1h-1zM26 15h1v1h-1zM12 16h1v1h-1zM14 16h2v1h-2zM18 16h4v1h-4zM1 17h1v1h-1zM4 17h1v1h-1zM11 17h1v1h-1zM14 17h2v1h-2zM19 17h1v1h-1z"/><path fill="#1f64dc" d="M6 10h1v1h-1zM6 11h2v1h-2zM5 12h1v1h-1zM23 12h1v1h-1zM5 13h1v1h-1z"/><path fill="#2c58d0" d="M6 12h1v1h-1z"/><path fill="#285cd4" d="M6 13h1v1h-1z"/></g></g><g filter="url(#bl2)"><ellipse cx="3" cy="-8" rx="7" ry="3.5" fill="#ebb938" opacity="0.8"/><ellipse cx="4" cy="-7.3" rx="4.5" ry="2" fill="#f3741a"/><ellipse cx="12.5" cy="-5.8" rx="1.8" ry="1.4" fill="#f88410"/><ellipse cx="19" cy="-6" rx="1.8" ry="1.4" fill="#f88410"/><path d="M-80 3 -76 8 -70 13.5 -64.5 18.5 -63 22 -65 29 -67 28 -66 22 -72 16 -78 9 -82 4z" fill="#7048c8" opacity="0.85"/><ellipse cx="26" cy="15" rx="10" ry="12" fill="#256cdd" opacity="0.8"/><ellipse cx="-72" cy="35" rx="1.5" ry="2" fill="#f8a828" opacity="0.8"/></g><use href="#cst"/><use href="#grd"/><use href="#arfeb"/></svg><rect x="53.5" y="289.4" width="171.1" height="100" fill="none" stroke="#222" stroke-width="1"/><path d="M53.5 389.4v2.6M78.49 389.4v2.6M102.39 389.4v2.6M126.83 389.4v2.6M151.27 389.4v2.6M175.71 389.4v2.6M200.16 389.4v2.6M224.6 389.4v2.6M53.5 389.4h-2.6M53.5 364.4h-2.6M53.5 339.4h-2.6M53.5 314.4h-2.6M53.5 289.4h-2.6" stroke="#222" stroke-width=".8"/><g class="tk"><text x="53.5" y="401" text-anchor="middle">−90</text><text x="78.49" y="401" text-anchor="middle">−70</text><text x="102.39" y="401" text-anchor="middle">−50</text><text x="126.83" y="401" text-anchor="middle">−30</text><text x="151.27" y="401" text-anchor="middle">−10</text><text x="175.71" y="401" text-anchor="middle">10</text><text x="200.16" y="401" text-anchor="middle">30</text><text x="224.6" y="401" text-anchor="middle">50</text><text x="48" y="392.7" text-anchor="end">−40</text><text x="48" y="367.7" text-anchor="end">−20</text><text x="48" y="342.7" text-anchor="end">0</text><text x="48" y="317.7" text-anchor="end">20</text><text x="48" y="292.7" text-anchor="end">40</text></g><svg x="276.4" y="289.4" width="171.1" height="100" viewBox="-90 -40 140 80" preserveAspectRatio="none"><g filter="url(#bl)"><g transform="translate(-95 -45) scale(5)" shape-rendering="crispEdges"><path fill="#e2ba38" d="M0 0h1v1h-1zM29 0h1v1h-1zM0 1h1v1h-1zM2 1h1v1h-1zM27 2h1v1h-1zM26 3h1v1h-1zM0 12h2v1h-2z"/><path fill="#ebb938" d="M1 0h1v1h-1zM1 1h1v1h-1zM25 3h1v1h-1z"/><path fill="#d8bc38" d="M2 0h1v1h-1zM26 0h2v1h-2zM27 1h1v1h-1zM1 2h1v1h-1zM27 3h2v1h-2zM25 4h1v1h-1z"/><path fill="#9eb630" d="M3 0h1v1h-1zM5 0h1v1h-1zM23 0h1v1h-1zM25 1h1v1h-1zM3 2h1v1h-1zM24 2h1v1h-1zM23 3h1v1h-1zM0 11h1v1h-1zM0 13h3v1h-3zM17 13h1v1h-1zM0 14h2v1h-2zM19 14h1v1h-1z"/><path fill="#8bb330" d="M4 0h1v1h-1zM7 0h1v1h-1zM9 0h2v1h-2zM15 0h1v1h-1zM6 1h1v1h-1zM13 1h2v1h-2zM23 2h1v1h-1zM1 3h2v1h-2zM22 5h1v1h-1zM24 5h3v1h-3zM17 11h3v1h-3zM15 12h1v1h-1zM20 12h1v1h-1zM4 13h1v1h-1zM16 13h1v1h-1zM5 14h1v1h-1zM16 14h2v1h-2z"/><path fill="#78b030" d="M6 0h1v1h-1zM13 0h2v1h-2zM18 0h2v1h-2zM21 0h1v1h-1zM5 1h1v1h-1zM7 1h1v1h-1zM11 1h1v1h-1zM16 1h1v1h-1zM23 1h2v1h-2zM5 2h1v1h-1zM14 2h1v1h-1zM21 2h1v1h-1zM0 3h1v1h-1zM23 4h1v1h-1zM27 5h1v1h-1zM1 11h1v1h-1zM3 11h1v1h-1zM14 11h1v1h-1zM16 11h1v1h-1zM3 12h1v1h-1zM14 12h1v1h-1zM21 12h1v1h-1zM13 13h1v1h-1zM21 13h1v1h-1zM2 14h2v1h-2zM6 14h1v1h-1zM18 14h1v1h-1z"/><path fill="#43a972" d="M8 0h1v1h-1zM4 3h2v1h-2zM9 3h1v1h-1zM18 3h1v1h-1zM21 3h1v1h-1zM12 4h3v1h-3zM16 4h1v1h-1zM19 4h2v1h-2zM15 5h1v1h-1zM18 6h1v1h-1zM25 6h1v1h-1zM0 10h2v1h-2zM4 12h1v1h-1zM12 12h1v1h-1zM22 12h1v1h-1zM5 13h1v1h-1zM12 14h2v1h-2zM25 14h1v1h-1zM27 14h2v1h-2zM12 15h1v1h-1zM15 15h3v1h-3zM20 15h3v1h-3zM1 16h1v1h-1zM3 16h1v1h-1zM5 16h1v1h-1zM11 16h2v1h-2zM15 16h2v1h-2zM21 16h1v1h-1zM23 16h1v1h-1zM5 17h1v1h-1zM12 17h1v1h-1zM14 17h1v1h-1zM20 17h2v1h-2zM23 17h1v1h-1z"/><path fill="#52aa5d" d="M11 0h1v1h-1zM15 1h1v1h-1zM18 1h1v1h-1zM20 1h1v1h-1zM8 2h2v1h-2zM12 2h1v1h-1zM19 2h1v1h-1zM22 2h1v1h-1zM10 3h4v1h-4zM17 3h1v1h-1zM22 3h1v1h-1zM0 4h1v1h-1zM15 4h1v1h-1zM22 4h1v1h-1zM17 5h4v1h-4zM17 10h1v1h-1zM13 11h1v1h-1zM20 11h2v1h-2zM13 12h1v1h-1zM22 13h1v1h-1zM14 14h1v1h-1zM1 15h1v1h-1zM3 15h1v1h-1zM6 15h1v1h-1zM14 15h1v1h-1zM24 15h1v1h-1zM0 16h1v1h-1zM2 16h1v1h-1zM13 16h2v1h-2zM17 16h1v1h-1zM24 16h1v1h-1zM1 17h2v1h-2zM6 17h1v1h-1zM15 17h1v1h-1z"/><path fill="#65ad46" d="M12 0h1v1h-1zM16 0h2v1h-2zM20 0h1v1h-1zM22 0h1v1h-1zM8 1h1v1h-1zM10 1h1v1h-1zM12 1h1v1h-1zM17 1h1v1h-1zM19 1h1v1h-1zM21 1h2v1h-2zM4 2h1v1h-1zM6 2h2v1h-2zM11 2h1v1h-1zM13 2h1v1h-1zM15 2h3v1h-3zM20 2h1v1h-1zM3 3h1v1h-1zM14 3h1v1h-1zM1 4h1v1h-1zM24 4h1v1h-1zM16 5h1v1h-1zM21 5h1v1h-1zM23 5h1v1h-1zM29 5h1v1h-1zM2 11h1v1h-1zM15 11h1v1h-1zM14 13h2v1h-2zM19 13h2v1h-2zM15 14h1v1h-1zM20 14h2v1h-2zM0 15h1v1h-1zM2 15h1v1h-1zM4 15h2v1h-2zM18 15h2v1h-2zM6 16h1v1h-1zM3 17h1v1h-1z"/><path fill="#c5ba35" d="M24 0h2v1h-2zM26 1h1v1h-1zM0 2h1v1h-1zM2 2h1v1h-1zM26 2h1v1h-1zM29 3h1v1h-1zM29 4h1v1h-1zM2 12h1v1h-1zM17 12h1v1h-1zM19 12h1v1h-1zM4 14h1v1h-1z"/><path fill="#f2b535" d="M28 0h1v1h-1zM29 1h1v1h-1zM29 2h1v1h-1zM26 4h1v1h-1z"/><path fill="#b2b932" d="M3 1h2v1h-2zM25 2h1v1h-1zM24 3h1v1h-1zM27 4h2v1h-2zM16 12h1v1h-1zM18 12h1v1h-1zM3 13h1v1h-1zM18 13h1v1h-1z"/><path fill="#3aaa87" d="M9 1h1v1h-1zM10 2h1v1h-1zM18 2h1v1h-1zM7 3h1v1h-1zM15 3h2v1h-2zM2 4h1v1h-1zM4 4h1v1h-1zM10 4h2v1h-2zM18 4h1v1h-1zM14 5h1v1h-1zM28 5h1v1h-1zM16 6h1v1h-1zM19 6h1v1h-1zM22 6h1v1h-1zM26 6h1v1h-1zM2 10h1v1h-1zM12 10h1v1h-1zM15 10h1v1h-1zM12 11h1v1h-1zM11 12h1v1h-1zM11 13h2v1h-2zM25 13h2v1h-2zM28 13h1v1h-1zM22 14h1v1h-1zM24 14h1v1h-1zM29 14h1v1h-1zM10 15h1v1h-1zM13 15h1v1h-1zM4 16h1v1h-1zM18 16h2v1h-2zM22 16h1v1h-1zM0 17h1v1h-1zM4 17h1v1h-1zM9 17h1v1h-1zM16 17h4v1h-4zM22 17h1v1h-1z"/><path fill="#f5ae2e" d="M28 1h1v1h-1zM28 2h1v1h-1z"/><path fill="#35aea5" d="M6 3h1v1h-1zM5 4h2v1h-2zM9 4h1v1h-1zM0 6h1v1h-1zM27 6h1v1h-1zM17 9h1v1h-1zM16 10h1v1h-1zM19 10h1v1h-1zM4 11h1v1h-1zM25 12h2v1h-2zM6 13h1v1h-1zM24 13h1v1h-1zM9 15h1v1h-1zM25 15h2v1h-2zM28 15h1v1h-1zM10 16h1v1h-1zM25 16h2v1h-2zM7 17h1v1h-1zM25 17h1v1h-1zM27 17h1v1h-1z"/><path fill="#30ac9c" d="M8 3h1v1h-1zM19 3h2v1h-2zM3 4h1v1h-1zM17 4h1v1h-1zM21 4h1v1h-1zM0 5h3v1h-3zM13 5h1v1h-1zM15 6h1v1h-1zM17 6h1v1h-1zM20 6h2v1h-2zM23 6h2v1h-2zM18 9h1v1h-1zM3 10h1v1h-1zM13 10h2v1h-2zM18 10h1v1h-1zM11 11h1v1h-1zM22 11h1v1h-1zM28 12h1v1h-1zM27 13h1v1h-1zM29 13h1v1h-1zM11 14h1v1h-1zM23 14h1v1h-1zM11 15h1v1h-1zM23 15h1v1h-1zM27 15h1v1h-1zM29 15h1v1h-1zM7 16h1v1h-1zM20 16h1v1h-1zM29 16h1v1h-1zM8 17h1v1h-1zM11 17h1v1h-1zM13 17h1v1h-1zM24 17h1v1h-1zM28 17h2v1h-2z"/><path fill="#3ab1ae" d="M7 4h2v1h-2zM10 5h2v1h-2zM13 6h1v1h-1zM1 9h2v1h-2zM14 9h1v1h-1zM11 10h1v1h-1zM10 12h1v1h-1zM10 13h1v1h-1zM23 13h1v1h-1zM7 14h1v1h-1zM10 14h1v1h-1zM26 14h1v1h-1zM7 15h2v1h-2zM8 16h2v1h-2zM27 16h2v1h-2zM10 17h1v1h-1z"/><path fill="#43b6bf" d="M3 5h2v1h-2zM7 5h1v1h-1zM9 5h1v1h-1zM1 6h2v1h-2zM12 6h1v1h-1zM29 6h1v1h-1zM17 7h1v1h-1zM3 9h1v1h-1zM12 9h1v1h-1zM15 9h1v1h-1zM19 9h1v1h-1zM10 11h1v1h-1zM25 11h3v1h-3zM9 12h1v1h-1zM24 12h1v1h-1zM9 13h1v1h-1zM9 14h1v1h-1z"/><path fill="#54bace" d="M5 5h1v1h-1zM3 6h1v1h-1zM11 6h1v1h-1zM2 7h1v1h-1zM13 7h2v1h-2zM19 7h1v1h-1zM0 8h1v1h-1zM2 8h1v1h-1zM11 8h2v1h-2zM15 8h2v1h-2zM18 8h2v1h-2zM20 9h1v1h-1zM21 10h1v1h-1zM23 11h1v1h-1zM7 13h1v1h-1z"/><path fill="#48b8c8" d="M6 5h1v1h-1zM1 7h1v1h-1zM18 7h1v1h-1zM1 8h1v1h-1zM13 8h2v1h-2zM17 8h1v1h-1zM28 10h1v1h-1zM28 11h2v1h-2zM5 12h1v1h-1zM8 14h1v1h-1z"/><path fill="#3eb3b6" d="M8 5h1v1h-1zM12 5h1v1h-1zM14 6h1v1h-1zM28 6h1v1h-1zM16 7h1v1h-1zM0 9h1v1h-1zM11 9h1v1h-1zM13 9h1v1h-1zM16 9h1v1h-1zM20 10h1v1h-1zM23 12h1v1h-1zM27 12h1v1h-1zM29 12h1v1h-1zM26 17h1v1h-1z"/><path fill="#6dbddb" d="M4 6h1v1h-1zM8 6h1v1h-1zM10 6h1v1h-1zM21 7h1v1h-1zM27 7h2v1h-2zM3 8h1v1h-1zM29 8h1v1h-1zM29 9h1v1h-1zM10 10h1v1h-1zM24 11h1v1h-1zM8 12h1v1h-1zM8 13h1v1h-1z"/><path fill="#79bee2" d="M5 6h1v1h-1zM7 6h1v1h-1zM0 7h1v1h-1zM3 7h2v1h-2zM11 7h1v1h-1zM29 7h1v1h-1zM27 9h2v1h-2zM25 10h2v1h-2z"/><path fill="#85c0e8" d="M6 6h1v1h-1zM9 7h1v1h-1zM26 7h1v1h-1zM4 8h1v1h-1zM10 8h1v1h-1zM27 8h2v1h-2zM4 9h1v1h-1zM10 9h1v1h-1zM21 9h1v1h-1zM9 10h1v1h-1zM9 11h1v1h-1zM7 12h1v1h-1z"/><path fill="#60bbd5" d="M9 6h1v1h-1zM10 7h1v1h-1zM12 7h1v1h-1zM15 7h1v1h-1zM20 7h1v1h-1zM20 8h1v1h-1zM4 10h1v1h-1zM22 10h1v1h-1zM27 10h1v1h-1zM29 10h1v1h-1z"/><path fill="#3986df" d="M5 7h3v1h-3zM23 8h1v1h-1zM7 11h1v1h-1z"/><path fill="#3f8ee0" d="M8 7h1v1h-1zM25 8h1v1h-1zM8 9h1v1h-1zM23 9h2v1h-2zM5 10h1v1h-1z"/><path fill="#69ace5" d="M22 7h1v1h-1zM24 7h2v1h-2zM9 8h1v1h-1zM21 8h1v1h-1zM8 11h1v1h-1z"/><path fill="#77b6e6" d="M23 7h1v1h-1zM26 9h1v1h-1zM23 10h2v1h-2zM6 12h1v1h-1z"/><path fill="#2c75de" d="M5 8h1v1h-1zM8 8h1v1h-1zM7 10h1v1h-1z"/><path fill="#285cd4" d="M6 8h1v1h-1zM6 9h1v1h-1z"/><path fill="#2360d8" d="M7 8h1v1h-1zM7 9h1v1h-1z"/><path fill="#4d98e2" d="M22 8h1v1h-1zM8 10h1v1h-1z"/><path fill="#327dde" d="M24 8h1v1h-1zM6 11h1v1h-1z"/><path fill="#5ba2e3" d="M26 8h1v1h-1zM9 9h1v1h-1zM22 9h1v1h-1zM25 9h1v1h-1zM5 11h1v1h-1z"/><path fill="#256cdd" d="M5 9h1v1h-1z"/><path fill="#1f64dc" d="M6 10h1v1h-1z"/></g></g><g filter="url(#bl2)"><path d="M-79 2 -75 7 -71 12 -68 16 -70 17 -74 12 -78 7 -81 3z" fill="#6848c8" opacity="0.8"/><ellipse cx="28" cy="-4" rx="16" ry="5" fill="#256cdd" opacity="0.6"/><ellipse cx="7" cy="19" rx="7" ry="5" fill="#f5ae2e" opacity="0.7"/><ellipse cx="38" cy="-22" rx="3" ry="7" fill="#f8921a" opacity="0.7"/><ellipse cx="-67" cy="4" rx="9" ry="10" fill="#2360d8" opacity="0.6"/><ellipse cx="-58" cy="22" rx="4" ry="9" fill="#85c0e8" opacity="0.5"/></g><use href="#cst"/><use href="#grd"/><use href="#aroct"/></svg><rect x="276.4" y="289.4" width="171.1" height="100" fill="none" stroke="#222" stroke-width="1"/><path d="M276.4 389.4v2.6M301.39 389.4v2.6M325.29 389.4v2.6M349.73 389.4v2.6M374.17 389.4v2.6M398.61 389.4v2.6M423.06 389.4v2.6M447.5 389.4v2.6M276.4 389.4h-2.6M276.4 364.4h-2.6M276.4 339.4h-2.6M276.4 314.4h-2.6M276.4 289.4h-2.6" stroke="#222" stroke-width=".8"/><g class="tk"><text x="276.4" y="401" text-anchor="middle">−90</text><text x="301.39" y="401" text-anchor="middle">−70</text><text x="325.29" y="401" text-anchor="middle">−50</text><text x="349.73" y="401" text-anchor="middle">−30</text><text x="374.17" y="401" text-anchor="middle">−10</text><text x="398.61" y="401" text-anchor="middle">10</text><text x="423.06" y="401" text-anchor="middle">30</text><text x="447.5" y="401" text-anchor="middle">50</text><text x="270.9" y="392.7" text-anchor="end">−40</text><text x="270.9" y="367.7" text-anchor="end">−20</text><text x="270.9" y="342.7" text-anchor="end">0</text><text x="270.9" y="317.7" text-anchor="end">20</text><text x="270.9" y="292.7" text-anchor="end">40</text></g><svg x="53.5" y="423.4" width="171.1" height="99" viewBox="-90 -40 140 80" preserveAspectRatio="none"><g filter="url(#bl)"><g transform="translate(-95 -45) scale(5)" shape-rendering="crispEdges"><path fill="#fecc68" d="M0 0h1v1h-1zM18 12h2v1h-2zM18 13h1v1h-1zM20 13h1v1h-1zM10 14h1v1h-1zM28 14h2v1h-2z"/><path fill="#fed572" d="M1 0h1v1h-1zM4 8h2v1h-2zM15 8h1v1h-1zM17 9h1v1h-1zM19 10h1v1h-1zM18 11h1v1h-1zM3 14h1v1h-1zM11 14h1v1h-1zM17 14h1v1h-1zM5 15h1v1h-1zM8 15h3v1h-3zM13 15h2v1h-2zM23 15h2v1h-2z"/><path fill="#fed06c" d="M2 0h1v1h-1zM1 1h2v1h-2zM24 6h2v1h-2zM22 7h1v1h-1zM20 9h1v1h-1zM18 10h1v1h-1zM20 10h1v1h-1zM19 11h1v1h-1zM12 14h1v1h-1zM21 14h1v1h-1z"/><path fill="#fede80" d="M3 0h2v1h-2zM29 0h1v1h-1zM1 2h3v1h-3zM24 3h2v1h-2zM23 4h1v1h-1zM25 4h1v1h-1zM24 5h1v1h-1zM27 5h1v1h-1zM23 6h1v1h-1zM28 6h1v1h-1zM13 8h2v1h-2zM20 14h1v1h-1zM4 15h1v1h-1zM27 15h1v1h-1zM29 15h1v1h-1zM9 16h1v1h-1zM6 17h2v1h-2zM24 17h1v1h-1zM27 17h1v1h-1z"/><path fill="#ffedac" d="M5 0h3v1h-3zM13 0h2v1h-2zM6 1h1v1h-1zM9 1h1v1h-1zM13 1h1v1h-1zM26 1h2v1h-2zM5 2h1v1h-1zM7 2h1v1h-1zM14 2h3v1h-3zM25 2h1v1h-1zM0 3h1v1h-1zM2 3h1v1h-1zM22 5h1v1h-1zM4 7h2v1h-2zM3 15h1v1h-1zM3 16h1v1h-1zM22 16h1v1h-1zM0 17h1v1h-1z"/><path fill="#fff3c0" d="M8 0h1v1h-1zM10 0h2v1h-2zM18 0h1v1h-1zM25 0h2v1h-2zM11 1h1v1h-1zM18 1h1v1h-1zM9 2h1v1h-1zM17 2h1v1h-1zM23 2h2v1h-2zM3 3h1v1h-1zM14 3h2v1h-2zM21 5h1v1h-1zM15 6h1v1h-1zM20 6h1v1h-1zM2 7h2v1h-2zM10 7h1v1h-1zM13 7h2v1h-2zM17 7h1v1h-1zM2 8h1v1h-1zM1 12h1v1h-1zM0 15h1v1h-1zM1 16h1v1h-1zM1 17h1v1h-1zM3 17h1v1h-1z"/><path fill="#ffeaa1" d="M9 0h1v1h-1zM16 0h1v1h-1zM7 1h2v1h-2zM10 1h1v1h-1zM17 1h1v1h-1zM4 2h1v1h-1zM11 2h1v1h-1zM26 2h2v1h-2zM22 3h1v1h-1zM28 3h1v1h-1zM22 4h1v1h-1zM15 7h1v1h-1zM20 7h1v1h-1zM18 8h2v1h-2zM2 13h1v1h-1zM2 14h1v1h-1zM17 16h4v1h-4zM23 16h1v1h-1zM17 17h3v1h-3zM21 17h1v1h-1z"/><path fill="#fff0b7" d="M12 0h1v1h-1zM17 0h1v1h-1zM12 1h1v1h-1zM14 1h1v1h-1zM25 1h1v1h-1zM6 2h1v1h-1zM12 2h2v1h-2zM18 2h1v1h-1zM21 4h1v1h-1zM7 7h1v1h-1zM16 7h1v1h-1zM18 7h2v1h-2zM0 13h2v1h-2zM1 15h2v1h-2zM2 17h1v1h-1z"/><path fill="#fee289" d="M15 0h1v1h-1zM28 0h1v1h-1zM4 1h1v1h-1zM29 1h1v1h-1zM29 2h1v1h-1zM23 3h1v1h-1zM23 5h1v1h-1zM29 5h1v1h-1zM10 8h1v1h-1zM2 10h1v1h-1zM4 16h1v1h-1zM10 16h1v1h-1zM16 16h1v1h-1zM21 16h1v1h-1zM25 16h1v1h-1zM16 17h1v1h-1zM23 17h1v1h-1zM28 17h1v1h-1z"/><path fill="#fff8d3" d="M19 0h1v1h-1zM23 0h2v1h-2zM24 1h1v1h-1zM7 3h1v1h-1zM11 3h1v1h-1zM13 3h1v1h-1zM17 3h2v1h-2zM2 4h2v1h-2zM13 4h1v1h-1zM15 4h2v1h-2zM13 5h1v1h-1zM20 5h1v1h-1zM6 6h1v1h-1zM16 6h1v1h-1zM19 6h1v1h-1zM1 7h1v1h-1zM9 7h1v1h-1zM0 8h1v1h-1zM1 10h1v1h-1zM1 11h1v1h-1zM0 14h1v1h-1z"/><path fill="#fffce8" d="M20 0h2v1h-2zM23 1h1v1h-1zM6 4h2v1h-2zM10 4h1v1h-1zM2 5h2v1h-2zM7 5h1v1h-1zM10 5h2v1h-2zM9 6h1v1h-1z"/><path fill="#fffbe2" d="M22 0h1v1h-1zM22 1h1v1h-1zM9 3h2v1h-2zM19 3h2v1h-2zM4 4h1v1h-1zM12 4h1v1h-1zM18 4h1v1h-1zM5 5h1v1h-1zM8 5h2v1h-2zM12 5h1v1h-1zM14 5h3v1h-3zM19 5h1v1h-1zM0 6h2v1h-2zM3 6h3v1h-3zM8 6h1v1h-1zM11 6h2v1h-2z"/><path fill="#ffe695" d="M27 0h1v1h-1zM5 1h1v1h-1zM15 1h2v1h-2zM28 2h1v1h-1zM1 3h1v1h-1zM26 3h2v1h-2zM29 3h1v1h-1zM27 4h1v1h-1zM29 4h1v1h-1zM21 6h1v1h-1zM6 7h1v1h-1zM3 8h1v1h-1zM11 8h2v1h-2zM17 8h1v1h-1zM2 9h1v1h-1zM2 12h1v1h-1zM18 15h3v1h-3zM24 16h1v1h-1zM27 16h1v1h-1zM29 16h1v1h-1zM4 17h1v1h-1zM20 17h1v1h-1zM22 17h1v1h-1zM26 17h1v1h-1z"/><path fill="#fec863" d="M0 1h1v1h-1zM26 6h1v1h-1zM27 7h1v1h-1zM21 8h1v1h-1zM27 8h1v1h-1zM12 9h1v1h-1zM27 9h1v1h-1zM17 10h1v1h-1zM28 10h1v1h-1zM20 11h1v1h-1zM17 12h1v1h-1zM20 12h1v1h-1zM11 13h1v1h-1zM16 14h1v1h-1zM6 15h1v1h-1z"/><path fill="#fedb7b" d="M3 1h1v1h-1zM26 5h1v1h-1zM29 7h1v1h-1zM7 8h1v1h-1zM20 8h1v1h-1zM28 8h2v1h-2zM18 9h2v1h-2zM28 9h1v1h-1zM2 11h1v1h-1zM19 13h1v1h-1zM15 15h2v1h-2zM22 15h1v1h-1zM26 15h1v1h-1zM28 15h1v1h-1zM6 16h1v1h-1zM13 16h1v1h-1zM9 17h1v1h-1zM13 17h1v1h-1z"/><path fill="#fff6ca" d="M19 1h1v1h-1zM8 2h1v1h-1zM10 2h1v1h-1zM22 2h1v1h-1zM4 3h1v1h-1zM16 3h1v1h-1zM21 3h1v1h-1zM0 4h2v1h-2zM14 4h1v1h-1zM13 6h1v1h-1zM8 7h1v1h-1zM11 7h1v1h-1zM0 9h1v1h-1zM0 10h1v1h-1zM0 11h1v1h-1zM0 12h1v1h-1zM1 14h1v1h-1zM0 16h1v1h-1zM2 16h1v1h-1z"/><path fill="#fffada" d="M20 1h1v1h-1zM19 2h3v1h-3zM5 3h2v1h-2zM8 3h1v1h-1zM12 3h1v1h-1zM5 4h1v1h-1zM9 4h1v1h-1zM11 4h1v1h-1zM17 4h1v1h-1zM19 4h2v1h-2zM0 5h1v1h-1zM17 5h2v1h-2zM7 6h1v1h-1zM10 6h1v1h-1zM14 6h1v1h-1zM17 6h2v1h-2zM12 7h1v1h-1zM1 8h1v1h-1zM1 9h1v1h-1z"/><path fill="#fffeef" d="M21 1h1v1h-1zM8 4h1v1h-1zM1 5h1v1h-1zM4 5h1v1h-1zM6 5h1v1h-1zM0 7h1v1h-1z"/><path fill="#fee084" d="M28 1h1v1h-1zM26 4h1v1h-1zM28 4h1v1h-1zM28 5h1v1h-1zM22 6h1v1h-1zM8 8h2v1h-2zM16 8h1v1h-1zM18 14h2v1h-2zM11 15h1v1h-1zM17 15h1v1h-1zM21 15h1v1h-1zM5 16h1v1h-1zM11 16h2v1h-2zM14 16h2v1h-2zM26 16h1v1h-1zM28 16h1v1h-1zM5 17h1v1h-1zM10 17h3v1h-3zM14 17h2v1h-2zM25 17h1v1h-1zM29 17h1v1h-1z"/><path fill="#fed976" d="M0 2h1v1h-1zM24 4h1v1h-1zM25 5h1v1h-1zM27 6h1v1h-1zM29 6h1v1h-1zM21 7h1v1h-1zM28 7h1v1h-1zM6 8h1v1h-1zM29 9h1v1h-1zM12 15h1v1h-1zM25 15h1v1h-1zM7 16h2v1h-2zM8 17h1v1h-1z"/><path fill="#fffef4" d="M2 6h1v1h-1z"/><path fill="#febb56" d="M23 7h1v1h-1zM25 7h1v1h-1zM9 9h1v1h-1zM15 9h2v1h-2zM21 11h1v1h-1zM16 13h1v1h-1zM29 13h1v1h-1zM4 14h1v1h-1zM9 14h1v1h-1zM13 14h1v1h-1z"/><path fill="#feb24c" d="M24 7h1v1h-1zM7 9h2v1h-2zM27 10h1v1h-1zM3 12h1v1h-1zM21 12h1v1h-1zM27 13h1v1h-1zM14 14h1v1h-1z"/><path fill="#febf5a" d="M26 7h1v1h-1zM10 9h1v1h-1zM13 9h1v1h-1zM29 10h1v1h-1zM17 11h1v1h-1zM21 13h1v1h-1z"/><path fill="#feb651" d="M22 8h1v1h-1zM4 9h1v1h-1zM14 9h1v1h-1zM12 10h1v1h-1zM21 10h1v1h-1zM12 13h1v1h-1zM28 13h1v1h-1zM22 14h1v1h-1zM25 14h1v1h-1z"/><path fill="#fea647" d="M23 8h2v1h-2zM15 10h1v1h-1zM22 10h1v1h-1zM3 11h1v1h-1zM11 11h1v1h-1zM28 11h1v1h-1zM10 12h1v1h-1zM4 13h1v1h-1zM22 13h1v1h-1zM5 14h1v1h-1z"/><path fill="#fea145" d="M25 8h1v1h-1zM9 10h1v1h-1zM13 10h2v1h-2zM26 10h1v1h-1zM10 11h1v1h-1zM27 11h1v1h-1zM15 12h1v1h-1zM22 12h1v1h-1zM27 12h1v1h-1zM29 12h1v1h-1zM8 13h1v1h-1zM13 13h1v1h-1zM25 13h1v1h-1zM23 14h1v1h-1z"/><path fill="#feae4a" d="M26 8h1v1h-1zM5 9h2v1h-2zM22 9h1v1h-1zM3 10h1v1h-1zM10 10h1v1h-1zM16 10h1v1h-1zM11 12h2v1h-2zM9 13h1v1h-1zM15 13h1v1h-1zM26 13h1v1h-1zM7 14h1v1h-1z"/><path fill="#fec45f" d="M3 9h1v1h-1zM11 9h1v1h-1zM21 9h1v1h-1zM3 13h1v1h-1zM17 13h1v1h-1zM15 14h1v1h-1zM26 14h2v1h-2zM7 15h1v1h-1z"/><path fill="#fd9941" d="M23 9h1v1h-1zM4 10h1v1h-1zM13 11h1v1h-1zM15 11h1v1h-1zM26 12h1v1h-1z"/><path fill="#fd9640" d="M24 9h2v1h-2zM6 10h1v1h-1zM8 11h1v1h-1zM13 12h1v1h-1zM5 13h1v1h-1zM23 13h1v1h-1z"/><path fill="#fea948" d="M26 9h1v1h-1zM11 10h1v1h-1zM12 11h1v1h-1zM16 11h1v1h-1zM29 11h1v1h-1zM16 12h1v1h-1zM28 12h1v1h-1zM10 13h1v1h-1zM8 14h1v1h-1zM24 14h1v1h-1z"/><path fill="#fd913e" d="M5 10h1v1h-1zM14 11h1v1h-1zM26 11h1v1h-1zM8 12h1v1h-1zM7 13h1v1h-1zM24 13h1v1h-1z"/><path fill="#fd9e43" d="M7 10h2v1h-2zM22 11h1v1h-1zM9 12h1v1h-1zM14 13h1v1h-1zM6 14h1v1h-1z"/><path fill="#fd8c3c" d="M23 10h3v1h-3zM9 11h1v1h-1zM4 12h1v1h-1zM14 12h1v1h-1z"/><path fill="#fd7e38" d="M4 11h1v1h-1zM6 11h1v1h-1zM5 12h1v1h-1z"/><path fill="#fd863a" d="M5 11h1v1h-1zM7 11h1v1h-1zM25 11h1v1h-1zM6 12h1v1h-1zM23 12h1v1h-1zM25 12h1v1h-1zM6 13h1v1h-1z"/><path fill="#fd7836" d="M23 11h1v1h-1zM7 12h1v1h-1z"/><path fill="#fd7034" d="M24 11h1v1h-1zM24 12h1v1h-1z"/></g></g><g filter="url(#bl2)"><path d="M-81 2 -78 6 -75 11 -72 13 -73 9 -77 4 -79 1z" fill="#fc552c" opacity="0.9"/><path d="M-66 13 -62 17 -61 24 -63 29 -66 28 -64 22 -64 17z" fill="#fc552c" opacity="0.85"/><ellipse cx="-25" cy="15" rx="6" ry="6" fill="#fd9640" opacity="0.6"/><ellipse cx="25" cy="17" rx="8" ry="8" fill="#fd7e38" opacity="0.6"/></g><g mask="url(#nmg)"><g filter="url(#bl)"><g transform="translate(-95 -45) scale(5)" shape-rendering="crispEdges"><path fill="#feb651" d="M0 0h1v1h-1zM18 12h2v1h-2zM18 13h1v1h-1zM20 13h1v1h-1zM10 14h1v1h-1zM28 14h2v1h-2z"/><path fill="#febf5a" d="M1 0h1v1h-1zM4 8h2v1h-2zM15 8h1v1h-1zM17 9h1v1h-1zM19 10h1v1h-1zM18 11h1v1h-1zM3 14h1v1h-1zM11 14h1v1h-1zM17 14h1v1h-1zM5 15h1v1h-1zM8 15h3v1h-3zM13 15h2v1h-2zM23 15h2v1h-2z"/><path fill="#febb56" d="M2 0h1v1h-1zM1 1h2v1h-2zM24 6h2v1h-2zM22 7h1v1h-1zM20 9h1v1h-1zM18 10h1v1h-1zM20 10h1v1h-1zM19 11h1v1h-1zM12 14h1v1h-1zM21 14h1v1h-1z"/><path fill="#fecc68" d="M3 0h2v1h-2zM29 0h1v1h-1zM1 2h3v1h-3zM24 3h2v1h-2zM23 4h1v1h-1zM25 4h1v1h-1zM24 5h1v1h-1zM27 5h1v1h-1zM23 6h1v1h-1zM28 6h1v1h-1zM13 8h2v1h-2zM20 14h1v1h-1zM4 15h1v1h-1zM27 15h1v1h-1zM29 15h1v1h-1zM9 16h1v1h-1zM6 17h2v1h-2zM24 17h1v1h-1zM27 17h1v1h-1z"/><path fill="#fede80" d="M5 0h3v1h-3zM13 0h2v1h-2zM6 1h1v1h-1zM9 1h1v1h-1zM13 1h1v1h-1zM26 1h2v1h-2zM5 2h1v1h-1zM7 2h1v1h-1zM14 2h3v1h-3zM25 2h1v1h-1zM0 3h1v1h-1zM2 3h1v1h-1zM22 5h1v1h-1zM4 7h2v1h-2zM3 15h1v1h-1zM3 16h1v1h-1zM22 16h1v1h-1zM0 17h1v1h-1z"/><path fill="#fee289" d="M8 0h1v1h-1zM10 0h2v1h-2zM18 0h1v1h-1zM25 0h2v1h-2zM11 1h1v1h-1zM18 1h1v1h-1zM9 2h1v1h-1zM17 2h1v1h-1zM23 2h2v1h-2zM3 3h1v1h-1zM14 3h2v1h-2zM21 5h1v1h-1zM15 6h1v1h-1zM20 6h1v1h-1zM2 7h2v1h-2zM10 7h1v1h-1zM13 7h2v1h-2zM17 7h1v1h-1zM2 8h1v1h-1zM1 12h1v1h-1zM0 15h1v1h-1zM1 16h1v1h-1zM1 17h1v1h-1zM3 17h1v1h-1z"/><path fill="#fedb7b" d="M9 0h1v1h-1zM16 0h1v1h-1zM7 1h2v1h-2zM10 1h1v1h-1zM17 1h1v1h-1zM4 2h1v1h-1zM11 2h1v1h-1zM26 2h2v1h-2zM22 3h1v1h-1zM28 3h1v1h-1zM22 4h1v1h-1zM15 7h1v1h-1zM20 7h1v1h-1zM18 8h2v1h-2zM2 13h1v1h-1zM2 14h1v1h-1zM17 16h4v1h-4zM23 16h1v1h-1zM17 17h3v1h-3zM21 17h1v1h-1z"/><path fill="#fee084" d="M12 0h1v1h-1zM17 0h1v1h-1zM12 1h1v1h-1zM14 1h1v1h-1zM25 1h1v1h-1zM6 2h1v1h-1zM12 2h2v1h-2zM18 2h1v1h-1zM21 4h1v1h-1zM7 7h1v1h-1zM16 7h1v1h-1zM18 7h2v1h-2zM0 13h2v1h-2zM1 15h2v1h-2zM2 17h1v1h-1z"/><path fill="#fed572" d="M15 0h1v1h-1zM28 0h1v1h-1zM4 1h1v1h-1zM29 1h1v1h-1zM29 2h1v1h-1zM23 3h1v1h-1zM23 5h1v1h-1zM29 5h1v1h-1zM10 8h1v1h-1zM2 10h1v1h-1zM4 16h1v1h-1zM10 16h1v1h-1zM16 16h1v1h-1zM21 16h1v1h-1zM25 16h1v1h-1zM16 17h1v1h-1zM23 17h1v1h-1zM28 17h1v1h-1z"/><path fill="#ffeaa1" d="M19 0h1v1h-1zM23 0h2v1h-2zM24 1h1v1h-1zM7 3h1v1h-1zM11 3h1v1h-1zM13 3h1v1h-1zM17 3h2v1h-2zM2 4h2v1h-2zM13 4h1v1h-1zM15 4h2v1h-2zM13 5h1v1h-1zM20 5h1v1h-1zM6 6h1v1h-1zM16 6h1v1h-1zM19 6h1v1h-1zM1 7h1v1h-1zM9 7h1v1h-1zM0 8h1v1h-1zM1 10h1v1h-1zM1 11h1v1h-1zM0 14h1v1h-1z"/><path fill="#fff3c0" d="M20 0h2v1h-2zM23 1h1v1h-1zM6 4h2v1h-2zM10 4h1v1h-1zM2 5h2v1h-2zM7 5h1v1h-1zM10 5h2v1h-2zM9 6h1v1h-1z"/><path fill="#fff0b7" d="M22 0h1v1h-1zM22 1h1v1h-1zM9 3h2v1h-2zM19 3h2v1h-2zM4 4h1v1h-1zM12 4h1v1h-1zM18 4h1v1h-1zM5 5h1v1h-1zM8 5h2v1h-2zM12 5h1v1h-1zM14 5h3v1h-3zM19 5h1v1h-1zM0 6h2v1h-2zM3 6h3v1h-3zM8 6h1v1h-1zM11 6h2v1h-2z"/><path fill="#fed976" d="M27 0h1v1h-1zM5 1h1v1h-1zM15 1h2v1h-2zM28 2h1v1h-1zM1 3h1v1h-1zM26 3h2v1h-2zM29 3h1v1h-1zM27 4h1v1h-1zM29 4h1v1h-1zM21 6h1v1h-1zM6 7h1v1h-1zM3 8h1v1h-1zM11 8h2v1h-2zM17 8h1v1h-1zM2 9h1v1h-1zM2 12h1v1h-1zM18 15h3v1h-3zM24 16h1v1h-1zM27 16h1v1h-1zM29 16h1v1h-1zM4 17h1v1h-1zM20 17h1v1h-1zM22 17h1v1h-1zM26 17h1v1h-1z"/><path fill="#feb24c" d="M0 1h1v1h-1zM26 6h1v1h-1zM27 7h1v1h-1zM21 8h1v1h-1zM27 8h1v1h-1zM12 9h1v1h-1zM27 9h1v1h-1zM17 10h1v1h-1zM28 10h1v1h-1zM20 11h1v1h-1zM17 12h1v1h-1zM20 12h1v1h-1zM11 13h1v1h-1zM16 14h1v1h-1zM6 15h1v1h-1z"/><path fill="#fec863" d="M3 1h1v1h-1zM26 5h1v1h-1zM29 7h1v1h-1zM7 8h1v1h-1zM20 8h1v1h-1zM28 8h2v1h-2zM18 9h2v1h-2zM28 9h1v1h-1zM2 11h1v1h-1zM19 13h1v1h-1zM15 15h2v1h-2zM22 15h1v1h-1zM26 15h1v1h-1zM28 15h1v1h-1zM6 16h1v1h-1zM13 16h1v1h-1zM9 17h1v1h-1zM13 17h1v1h-1z"/><path fill="#ffe695" d="M19 1h1v1h-1zM8 2h1v1h-1zM10 2h1v1h-1zM22 2h1v1h-1zM4 3h1v1h-1zM16 3h1v1h-1zM21 3h1v1h-1zM0 4h2v1h-2zM14 4h1v1h-1zM13 6h1v1h-1zM8 7h1v1h-1zM11 7h1v1h-1zM0 9h1v1h-1zM0 10h1v1h-1zM0 11h1v1h-1zM0 12h1v1h-1zM1 14h1v1h-1zM0 16h1v1h-1zM2 16h1v1h-1z"/><path fill="#ffedac" d="M20 1h1v1h-1zM19 2h3v1h-3zM5 3h2v1h-2zM8 3h1v1h-1zM12 3h1v1h-1zM5 4h1v1h-1zM9 4h1v1h-1zM11 4h1v1h-1zM17 4h1v1h-1zM19 4h2v1h-2zM0 5h1v1h-1zM17 5h2v1h-2zM7 6h1v1h-1zM10 6h1v1h-1zM14 6h1v1h-1zM17 6h2v1h-2zM12 7h1v1h-1zM1 8h1v1h-1zM1 9h1v1h-1z"/><path fill="#fff6ca" d="M21 1h1v1h-1zM8 4h1v1h-1zM1 5h1v1h-1zM4 5h1v1h-1zM6 5h1v1h-1zM0 7h1v1h-1z"/><path fill="#fed06c" d="M28 1h1v1h-1zM26 4h1v1h-1zM28 4h1v1h-1zM28 5h1v1h-1zM22 6h1v1h-1zM8 8h2v1h-2zM16 8h1v1h-1zM18 14h2v1h-2zM11 15h1v1h-1zM17 15h1v1h-1zM21 15h1v1h-1zM5 16h1v1h-1zM11 16h2v1h-2zM14 16h2v1h-2zM26 16h1v1h-1zM28 16h1v1h-1zM5 17h1v1h-1zM10 17h3v1h-3zM14 17h2v1h-2zM25 17h1v1h-1zM29 17h1v1h-1z"/><path fill="#fec45f" d="M0 2h1v1h-1zM24 4h1v1h-1zM25 5h1v1h-1zM27 6h1v1h-1zM29 6h1v1h-1zM21 7h1v1h-1zM28 7h1v1h-1zM6 8h1v1h-1zM29 9h1v1h-1zM12 15h1v1h-1zM25 15h1v1h-1zM7 16h2v1h-2zM8 17h1v1h-1z"/><path fill="#fff8d3" d="M2 6h1v1h-1z"/><path fill="#fea647" d="M23 7h1v1h-1zM25 7h1v1h-1zM9 9h1v1h-1zM15 9h2v1h-2zM21 11h1v1h-1zM16 13h1v1h-1zM29 13h1v1h-1zM4 14h1v1h-1zM9 14h1v1h-1zM13 14h1v1h-1z"/><path fill="#fd9e43" d="M24 7h1v1h-1zM7 9h2v1h-2zM27 10h1v1h-1zM3 12h1v1h-1zM21 12h1v1h-1zM27 13h1v1h-1zM14 14h1v1h-1z"/><path fill="#fea948" d="M26 7h1v1h-1zM10 9h1v1h-1zM13 9h1v1h-1zM29 10h1v1h-1zM17 11h1v1h-1zM21 13h1v1h-1z"/><path fill="#fea145" d="M22 8h1v1h-1zM4 9h1v1h-1zM14 9h1v1h-1zM12 10h1v1h-1zM21 10h1v1h-1zM12 13h1v1h-1zM28 13h1v1h-1zM22 14h1v1h-1zM25 14h1v1h-1z"/><path fill="#fd913e" d="M23 8h2v1h-2zM15 10h1v1h-1zM22 10h1v1h-1zM3 11h1v1h-1zM11 11h1v1h-1zM28 11h1v1h-1zM10 12h1v1h-1zM4 13h1v1h-1zM22 13h1v1h-1zM5 14h1v1h-1z"/><path fill="#fd8c3c" d="M25 8h1v1h-1zM9 10h1v1h-1zM13 10h2v1h-2zM26 10h1v1h-1zM10 11h1v1h-1zM27 11h1v1h-1zM15 12h1v1h-1zM22 12h1v1h-1zM27 12h1v1h-1zM29 12h1v1h-1zM8 13h1v1h-1zM13 13h1v1h-1zM25 13h1v1h-1zM23 14h1v1h-1z"/><path fill="#fd9941" d="M26 8h1v1h-1zM5 9h2v1h-2zM22 9h1v1h-1zM3 10h1v1h-1zM10 10h1v1h-1zM16 10h1v1h-1zM11 12h2v1h-2zM9 13h1v1h-1zM15 13h1v1h-1zM26 13h1v1h-1zM7 14h1v1h-1z"/><path fill="#feae4a" d="M3 9h1v1h-1zM11 9h1v1h-1zM21 9h1v1h-1zM3 13h1v1h-1zM17 13h1v1h-1zM15 14h1v1h-1zM26 14h2v1h-2zM7 15h1v1h-1z"/><path fill="#fd7e38" d="M23 9h1v1h-1zM4 10h1v1h-1zM13 11h1v1h-1zM15 11h1v1h-1zM26 12h1v1h-1z"/><path fill="#fd7836" d="M24 9h2v1h-2zM6 10h1v1h-1zM8 11h1v1h-1zM13 12h1v1h-1zM5 13h1v1h-1zM23 13h1v1h-1z"/><path fill="#fd9640" d="M26 9h1v1h-1zM11 10h1v1h-1zM12 11h1v1h-1zM16 11h1v1h-1zM29 11h1v1h-1zM16 12h1v1h-1zM28 12h1v1h-1zM10 13h1v1h-1zM8 14h1v1h-1zM24 14h1v1h-1z"/><path fill="#fd7034" d="M5 10h1v1h-1zM14 11h1v1h-1zM26 11h1v1h-1zM8 12h1v1h-1zM7 13h1v1h-1zM24 13h1v1h-1z"/><path fill="#fd863a" d="M7 10h2v1h-2zM22 11h1v1h-1zM9 12h1v1h-1zM14 13h1v1h-1zM6 14h1v1h-1z"/><path fill="#fc6a32" d="M23 10h3v1h-3zM9 11h1v1h-1zM4 12h1v1h-1zM14 12h1v1h-1z"/><path fill="#fc5d2e" d="M4 11h1v1h-1zM6 11h1v1h-1zM5 12h1v1h-1z"/><path fill="#fc6330" d="M5 11h1v1h-1zM7 11h1v1h-1zM25 11h1v1h-1zM6 12h1v1h-1zM23 12h1v1h-1zM25 12h1v1h-1zM6 13h1v1h-1z"/><path fill="#fc552c" d="M23 11h1v1h-1zM7 12h1v1h-1z"/><path fill="#fc4d2a" d="M24 11h1v1h-1zM24 12h1v1h-1z"/></g></g><g filter="url(#bl2)"><path d="M-81 2 -78 6 -75 11 -72 13 -73 9 -77 4 -79 1z" fill="#f13624" opacity="0.9"/><path d="M-66 13 -62 17 -61 24 -63 29 -66 28 -64 22 -64 17z" fill="#f13624" opacity="0.85"/><ellipse cx="-25" cy="15" rx="6" ry="6" fill="#fd7836" opacity="0.6"/><ellipse cx="25" cy="17" rx="8" ry="8" fill="#fc5d2e" opacity="0.6"/></g></g><path d="M-76.5 11.5L-73 12.3L-70 13.8L-67 16.2L-64.5 18.8L-63.3 21L-63.8 24L-65.8 27L-68.3 29.4L-69.8 28.5L-70.3 24L-70.3 19L-71.5 17.2L-74 15.5L-76.5 12.5Z" fill="#fff"/><use href="#cst"/><use href="#grd"/><use href="#arfeb"/><rect x="-33.7" y="-25.3" width="16" height="49.6" fill="none" stroke="#111" stroke-width="1.5" vector-effect="non-scaling-stroke"/></svg><rect x="53.5" y="423.4" width="171.1" height="99" fill="none" stroke="#222" stroke-width="1"/><path d="M53.5 522.4v2.6M78.49 522.4v2.6M102.39 522.4v2.6M126.83 522.4v2.6M151.27 522.4v2.6M175.71 522.4v2.6M200.16 522.4v2.6M224.6 522.4v2.6M53.5 522.4h-2.6M53.5 497.65h-2.6M53.5 472.9h-2.6M53.5 448.15h-2.6M53.5 423.4h-2.6" stroke="#222" stroke-width=".8"/><g class="tk"><text x="53.5" y="534" text-anchor="middle">−90</text><text x="78.49" y="534" text-anchor="middle">−70</text><text x="102.39" y="534" text-anchor="middle">−50</text><text x="126.83" y="534" text-anchor="middle">−30</text><text x="151.27" y="534" text-anchor="middle">−10</text><text x="175.71" y="534" text-anchor="middle">10</text><text x="200.16" y="534" text-anchor="middle">30</text><text x="224.6" y="534" text-anchor="middle">50</text><text x="48" y="525.7" text-anchor="end">−40</text><text x="48" y="500.95" text-anchor="end">−20</text><text x="48" y="476.2" text-anchor="end">0</text><text x="48" y="451.45" text-anchor="end">20</text><text x="48" y="426.7" text-anchor="end">40</text></g><svg x="276.4" y="423.4" width="171.1" height="99" viewBox="-90 -40 140 80" preserveAspectRatio="none"><g filter="url(#bl)"><g transform="translate(-95 -45) scale(5)" shape-rendering="crispEdges"><path fill="#fec45f" d="M0 0h2v1h-2zM0 1h1v1h-1zM8 9h1v1h-1zM21 9h1v1h-1zM22 10h1v1h-1zM4 11h1v1h-1zM25 11h1v1h-1z"/><path fill="#fed572" d="M2 0h1v1h-1zM29 0h1v1h-1zM2 1h1v1h-1zM0 2h2v1h-2zM25 6h2v1h-2zM3 9h1v1h-1zM10 9h1v1h-1zM26 12h1v1h-1zM8 13h2v1h-2z"/><path fill="#fee289" d="M3 0h1v1h-1zM26 0h1v1h-1zM3 1h1v1h-1zM3 2h1v1h-1zM27 3h1v1h-1zM29 3h1v1h-1zM16 6h3v1h-3zM20 6h1v1h-1zM8 7h1v1h-1zM17 7h1v1h-1zM10 8h1v1h-1zM12 9h1v1h-1zM22 12h1v1h-1zM22 13h1v1h-1zM25 13h1v1h-1zM8 14h2v1h-2z"/><path fill="#fff0b7" d="M4 0h1v1h-1zM24 0h1v1h-1zM25 2h1v1h-1zM24 3h1v1h-1zM21 4h1v1h-1zM26 4h3v1h-3zM14 6h2v1h-2zM3 7h1v1h-1zM9 7h1v1h-1zM13 7h1v1h-1zM13 9h1v1h-1zM18 9h1v1h-1zM13 10h1v1h-1zM17 10h1v1h-1zM13 11h1v1h-1zM18 12h1v1h-1zM22 14h1v1h-1zM25 14h1v1h-1zM9 15h1v1h-1z"/><path fill="#fff8d3" d="M5 0h2v1h-2zM14 0h1v1h-1zM20 0h1v1h-1zM23 0h1v1h-1zM15 1h2v1h-2zM20 1h2v1h-2zM16 2h1v1h-1zM19 2h3v1h-3zM23 2h1v1h-1zM16 3h1v1h-1zM20 3h2v1h-2zM14 5h1v1h-1zM6 6h1v1h-1zM12 6h2v1h-2zM0 8h3v1h-3zM1 12h1v1h-1zM0 13h2v1h-2zM19 14h1v1h-1zM21 14h1v1h-1zM28 14h1v1h-1zM7 15h1v1h-1zM10 15h1v1h-1zM12 15h1v1h-1zM24 15h2v1h-2z"/><path fill="#fffce8" d="M7 0h3v1h-3zM11 0h1v1h-1zM9 1h3v1h-3zM14 1h1v1h-1zM18 1h1v1h-1zM23 1h1v1h-1zM6 2h1v1h-1zM8 2h1v1h-1zM10 2h1v1h-1zM12 2h1v1h-1zM14 2h1v1h-1zM6 3h1v1h-1zM10 3h1v1h-1zM12 3h2v1h-2zM6 4h1v1h-1zM14 4h1v1h-1zM2 5h1v1h-1zM4 5h1v1h-1zM7 5h1v1h-1zM1 6h2v1h-2zM9 6h1v1h-1zM0 9h1v1h-1zM16 14h1v1h-1zM2 15h2v1h-2zM13 15h1v1h-1zM15 15h4v1h-4zM27 15h1v1h-1zM29 15h1v1h-1zM0 16h2v1h-2zM3 16h1v1h-1zM6 16h1v1h-1zM9 16h1v1h-1zM14 16h2v1h-2zM18 16h1v1h-1zM20 16h2v1h-2zM23 16h1v1h-1zM25 16h1v1h-1zM29 16h1v1h-1zM0 17h1v1h-1zM9 17h1v1h-1zM11 17h3v1h-3zM15 17h1v1h-1zM17 17h1v1h-1zM21 17h4v1h-4zM27 17h1v1h-1zM29 17h1v1h-1z"/><path fill="#fffbe2" d="M10 0h1v1h-1zM12 0h1v1h-1zM21 0h2v1h-2zM6 1h1v1h-1zM12 1h2v1h-2zM17 1h1v1h-1zM11 2h1v1h-1zM13 2h1v1h-1zM22 2h1v1h-1zM5 3h1v1h-1zM17 3h2v1h-2zM3 4h1v1h-1zM12 4h1v1h-1zM1 5h1v1h-1zM3 6h1v1h-1zM8 6h1v1h-1zM11 6h1v1h-1zM0 7h1v1h-1zM1 11h1v1h-1zM15 12h1v1h-1zM14 13h1v1h-1zM16 13h1v1h-1zM0 14h2v1h-2zM3 14h1v1h-1zM14 14h1v1h-1zM17 14h2v1h-2zM1 15h1v1h-1zM4 15h1v1h-1zM6 15h1v1h-1zM19 15h1v1h-1zM26 15h1v1h-1zM28 15h1v1h-1zM2 16h1v1h-1zM5 16h1v1h-1zM7 16h1v1h-1zM12 16h2v1h-2zM17 16h1v1h-1zM19 16h1v1h-1zM28 16h1v1h-1zM1 17h1v1h-1zM10 17h1v1h-1zM14 17h1v1h-1zM18 17h2v1h-2zM25 17h2v1h-2zM28 17h1v1h-1z"/><path fill="#fffada" d="M13 0h1v1h-1zM15 0h1v1h-1zM17 0h3v1h-3zM5 1h1v1h-1zM7 1h1v1h-1zM22 1h1v1h-1zM5 2h1v1h-1zM9 2h1v1h-1zM17 2h2v1h-2zM4 3h1v1h-1zM14 3h2v1h-2zM19 3h1v1h-1zM1 4h2v1h-2zM13 4h1v1h-1zM0 5h1v1h-1zM13 5h1v1h-1zM4 6h1v1h-1zM7 6h1v1h-1zM1 7h1v1h-1zM0 12h1v1h-1zM16 12h1v1h-1zM2 13h1v1h-1zM17 13h1v1h-1zM2 14h1v1h-1zM5 14h1v1h-1zM12 14h2v1h-2zM27 14h1v1h-1zM29 14h1v1h-1zM5 15h1v1h-1zM14 15h1v1h-1zM20 15h1v1h-1zM23 15h1v1h-1zM8 16h1v1h-1zM26 16h1v1h-1zM7 17h2v1h-2zM16 17h1v1h-1z"/><path fill="#fff3c0" d="M16 0h1v1h-1zM4 2h1v1h-1zM15 2h1v1h-1zM2 3h1v1h-1zM25 3h1v1h-1zM15 4h2v1h-2zM18 4h3v1h-3zM17 8h1v1h-1zM16 9h2v1h-2zM14 10h1v1h-1zM0 11h1v1h-1zM14 11h2v1h-2zM2 12h1v1h-1zM14 12h1v1h-1zM19 12h1v1h-1zM12 13h1v1h-1zM18 13h3v1h-3zM29 13h1v1h-1zM11 14h1v1h-1z"/><path fill="#ffedac" d="M25 0h1v1h-1zM4 1h1v1h-1zM25 1h1v1h-1zM0 3h2v1h-2zM26 3h1v1h-1zM23 4h1v1h-1zM29 4h1v1h-1zM15 5h1v1h-1zM19 5h3v1h-3zM27 5h1v1h-1zM29 5h1v1h-1zM4 7h1v1h-1zM11 8h1v1h-1zM13 8h1v1h-1zM18 8h2v1h-2zM14 9h2v1h-2zM12 10h1v1h-1zM2 11h1v1h-1zM12 11h1v1h-1zM18 11h1v1h-1zM20 11h1v1h-1zM3 12h1v1h-1zM20 12h1v1h-1zM28 12h2v1h-2zM27 13h2v1h-2zM24 14h1v1h-1z"/><path fill="#fed976" d="M27 0h1v1h-1zM28 1h1v1h-1zM20 7h1v1h-1zM4 8h1v1h-1zM29 8h1v1h-1zM21 10h1v1h-1zM3 11h1v1h-1z"/><path fill="#fedb7b" d="M28 0h1v1h-1zM22 6h1v1h-1zM6 7h1v1h-1zM28 7h2v1h-2zM9 8h1v1h-1zM28 8h1v1h-1zM22 11h1v1h-1zM10 12h1v1h-1zM7 13h1v1h-1zM23 13h1v1h-1z"/><path fill="#fec863" d="M1 1h1v1h-1zM21 7h1v1h-1zM27 7h1v1h-1zM7 8h1v1h-1zM9 9h1v1h-1zM26 10h1v1h-1zM5 12h1v1h-1zM24 12h1v1h-1z"/><path fill="#fffef4" d="M8 1h1v1h-1zM7 3h1v1h-1zM5 4h1v1h-1zM7 4h2v1h-2zM5 5h1v1h-1zM0 15h1v1h-1zM16 16h1v1h-1zM22 16h1v1h-1zM3 17h1v1h-1zM6 17h1v1h-1zM20 17h1v1h-1z"/><path fill="#fff6ca" d="M19 1h1v1h-1zM24 1h1v1h-1zM24 2h1v1h-1zM3 3h1v1h-1zM22 3h2v1h-2zM0 4h1v1h-1zM17 4h1v1h-1zM5 6h1v1h-1zM2 7h1v1h-1zM10 7h3v1h-3zM0 10h2v1h-2zM15 10h2v1h-2zM16 11h2v1h-2zM12 12h2v1h-2zM17 12h1v1h-1zM3 13h1v1h-1zM13 13h1v1h-1zM15 13h1v1h-1zM4 14h1v1h-1zM6 14h1v1h-1zM20 14h1v1h-1zM26 14h1v1h-1zM8 15h1v1h-1zM11 15h1v1h-1zM21 15h2v1h-2z"/><path fill="#ffe695" d="M26 1h1v1h-1zM24 4h1v1h-1zM16 5h1v1h-1zM23 5h2v1h-2zM19 6h1v1h-1zM28 9h2v1h-2zM5 13h2v1h-2zM10 14h1v1h-1zM23 14h1v1h-1z"/><path fill="#fede80" d="M27 1h1v1h-1zM2 2h1v1h-1zM27 2h3v1h-3zM28 6h1v1h-1zM7 7h1v1h-1zM20 8h1v1h-1zM27 9h1v1h-1zM11 10h1v1h-1zM27 11h1v1h-1zM4 12h1v1h-1zM24 13h1v1h-1z"/><path fill="#fed06c" d="M29 1h1v1h-1zM24 6h1v1h-1zM8 8h1v1h-1zM3 10h1v1h-1zM23 12h1v1h-1z"/><path fill="#fffeef" d="M7 2h1v1h-1zM8 3h1v1h-1zM11 3h1v1h-1zM4 4h1v1h-1zM9 4h3v1h-3zM3 5h1v1h-1zM9 5h4v1h-4zM0 6h1v1h-1zM10 6h1v1h-1zM1 9h1v1h-1zM15 14h1v1h-1zM4 16h1v1h-1zM10 16h2v1h-2zM24 16h1v1h-1zM2 17h1v1h-1zM4 17h2v1h-2z"/><path fill="#ffeaa1" d="M26 2h1v1h-1zM28 3h1v1h-1zM22 4h1v1h-1zM25 4h1v1h-1zM18 5h1v1h-1zM22 5h1v1h-1zM26 5h1v1h-1zM28 5h1v1h-1zM29 6h1v1h-1zM14 7h3v1h-3zM18 7h2v1h-2zM3 8h1v1h-1zM12 8h1v1h-1zM15 8h2v1h-2zM2 9h1v1h-1zM19 9h1v1h-1zM2 10h1v1h-1zM18 10h1v1h-1zM28 10h2v1h-2zM19 11h1v1h-1zM28 11h2v1h-2zM11 12h1v1h-1zM21 12h1v1h-1zM27 12h1v1h-1zM4 13h1v1h-1zM11 13h1v1h-1zM21 13h1v1h-1zM26 13h1v1h-1zM7 14h1v1h-1z"/><path fill="#fffff9" d="M9 3h1v1h-1zM6 5h1v1h-1zM8 5h1v1h-1zM27 16h1v1h-1z"/><path fill="#fee084" d="M17 5h1v1h-1zM25 5h1v1h-1zM21 6h1v1h-1zM27 6h1v1h-1zM5 7h1v1h-1zM14 8h1v1h-1zM11 9h1v1h-1zM20 9h1v1h-1zM19 10h2v1h-2zM27 10h1v1h-1zM11 11h1v1h-1zM21 11h1v1h-1zM10 13h1v1h-1z"/><path fill="#fecc68" d="M23 6h1v1h-1zM27 8h1v1h-1zM10 10h1v1h-1zM10 11h1v1h-1zM26 11h1v1h-1zM9 12h1v1h-1zM25 12h1v1h-1z"/><path fill="#feb24c" d="M22 7h1v1h-1zM26 7h1v1h-1zM7 9h1v1h-1zM4 10h1v1h-1z"/><path fill="#feae4a" d="M23 7h1v1h-1zM25 7h1v1h-1zM26 8h1v1h-1zM4 9h1v1h-1zM25 9h1v1h-1zM7 10h1v1h-1zM5 11h1v1h-1zM7 11h1v1h-1z"/><path fill="#fea948" d="M24 7h1v1h-1zM5 9h2v1h-2zM22 9h1v1h-1zM8 10h1v1h-1zM24 10h1v1h-1z"/><path fill="#febb56" d="M5 8h1v1h-1zM26 9h1v1h-1zM9 11h1v1h-1z"/><path fill="#febf5a" d="M6 8h1v1h-1zM9 10h1v1h-1zM23 11h1v1h-1zM6 12h1v1h-1zM8 12h1v1h-1z"/><path fill="#feb651" d="M21 8h1v1h-1zM23 10h1v1h-1zM25 10h1v1h-1zM8 11h1v1h-1zM24 11h1v1h-1zM7 12h1v1h-1z"/><path fill="#fea647" d="M22 8h1v1h-1zM24 9h1v1h-1zM6 11h1v1h-1z"/><path fill="#fea145" d="M23 8h2v1h-2zM23 9h1v1h-1zM5 10h1v1h-1z"/><path fill="#fd9941" d="M25 8h1v1h-1z"/><path fill="#fd9e43" d="M6 10h1v1h-1z"/></g></g><g filter="url(#bl2)"><ellipse cx="-62" cy="5" rx="12" ry="7" fill="#feae4a" opacity="0.5"/><ellipse cx="22" cy="-6" rx="14" ry="4" fill="#fea647" opacity="0.5"/><ellipse cx="-24" cy="-5" rx="8" ry="2" fill="#fede80" opacity="0.6"/><path d="M-81 2 -78 6 -75 11 -72 13 -73 9 -77 4 -79 1z" fill="#fd7e38" opacity="0.7"/></g><g mask="url(#nmh)"><g filter="url(#bl)"><g transform="translate(-95 -45) scale(5)" shape-rendering="crispEdges"><path fill="#feae4a" d="M0 0h2v1h-2zM0 1h1v1h-1zM8 9h1v1h-1zM21 9h1v1h-1zM22 10h1v1h-1zM4 11h1v1h-1zM25 11h1v1h-1z"/><path fill="#febf5a" d="M2 0h1v1h-1zM29 0h1v1h-1zM2 1h1v1h-1zM0 2h2v1h-2zM25 6h2v1h-2zM3 9h1v1h-1zM10 9h1v1h-1zM26 12h1v1h-1zM8 13h2v1h-2z"/><path fill="#fed572" d="M3 0h1v1h-1zM26 0h1v1h-1zM3 1h1v1h-1zM3 2h1v1h-1zM27 3h1v1h-1zM29 3h1v1h-1zM16 6h3v1h-3zM20 6h1v1h-1zM8 7h1v1h-1zM17 7h1v1h-1zM10 8h1v1h-1zM12 9h1v1h-1zM22 12h1v1h-1zM22 13h1v1h-1zM25 13h1v1h-1zM8 14h2v1h-2z"/><path fill="#fee084" d="M4 0h1v1h-1zM24 0h1v1h-1zM25 2h1v1h-1zM24 3h1v1h-1zM21 4h1v1h-1zM26 4h3v1h-3zM14 6h2v1h-2zM3 7h1v1h-1zM9 7h1v1h-1zM13 7h1v1h-1zM13 9h1v1h-1zM18 9h1v1h-1zM13 10h1v1h-1zM17 10h1v1h-1zM13 11h1v1h-1zM18 12h1v1h-1zM22 14h1v1h-1zM25 14h1v1h-1zM9 15h1v1h-1z"/><path fill="#ffeaa1" d="M5 0h2v1h-2zM14 0h1v1h-1zM20 0h1v1h-1zM23 0h1v1h-1zM15 1h2v1h-2zM20 1h2v1h-2zM16 2h1v1h-1zM19 2h3v1h-3zM23 2h1v1h-1zM16 3h1v1h-1zM20 3h2v1h-2zM14 5h1v1h-1zM6 6h1v1h-1zM12 6h2v1h-2zM0 8h3v1h-3zM1 12h1v1h-1zM0 13h2v1h-2zM19 14h1v1h-1zM21 14h1v1h-1zM28 14h1v1h-1zM7 15h1v1h-1zM10 15h1v1h-1zM12 15h1v1h-1zM24 15h2v1h-2z"/><path fill="#fff3c0" d="M7 0h3v1h-3zM11 0h1v1h-1zM9 1h3v1h-3zM14 1h1v1h-1zM18 1h1v1h-1zM23 1h1v1h-1zM6 2h1v1h-1zM8 2h1v1h-1zM10 2h1v1h-1zM12 2h1v1h-1zM14 2h1v1h-1zM6 3h1v1h-1zM10 3h1v1h-1zM12 3h2v1h-2zM6 4h1v1h-1zM14 4h1v1h-1zM2 5h1v1h-1zM4 5h1v1h-1zM7 5h1v1h-1zM1 6h2v1h-2zM9 6h1v1h-1zM0 9h1v1h-1zM16 14h1v1h-1zM2 15h2v1h-2zM13 15h1v1h-1zM15 15h4v1h-4zM27 15h1v1h-1zM29 15h1v1h-1zM0 16h2v1h-2zM3 16h1v1h-1zM6 16h1v1h-1zM9 16h1v1h-1zM14 16h2v1h-2zM18 16h1v1h-1zM20 16h2v1h-2zM23 16h1v1h-1zM25 16h1v1h-1zM29 16h1v1h-1zM0 17h1v1h-1zM9 17h1v1h-1zM11 17h3v1h-3zM15 17h1v1h-1zM17 17h1v1h-1zM21 17h4v1h-4zM27 17h1v1h-1zM29 17h1v1h-1z"/><path fill="#fff0b7" d="M10 0h1v1h-1zM12 0h1v1h-1zM21 0h2v1h-2zM6 1h1v1h-1zM12 1h2v1h-2zM17 1h1v1h-1zM11 2h1v1h-1zM13 2h1v1h-1zM22 2h1v1h-1zM5 3h1v1h-1zM17 3h2v1h-2zM3 4h1v1h-1zM12 4h1v1h-1zM1 5h1v1h-1zM3 6h1v1h-1zM8 6h1v1h-1zM11 6h1v1h-1zM0 7h1v1h-1zM1 11h1v1h-1zM15 12h1v1h-1zM14 13h1v1h-1zM16 13h1v1h-1zM0 14h2v1h-2zM3 14h1v1h-1zM14 14h1v1h-1zM17 14h2v1h-2zM1 15h1v1h-1zM4 15h1v1h-1zM6 15h1v1h-1zM19 15h1v1h-1zM26 15h1v1h-1zM28 15h1v1h-1zM2 16h1v1h-1zM5 16h1v1h-1zM7 16h1v1h-1zM12 16h2v1h-2zM17 16h1v1h-1zM19 16h1v1h-1zM28 16h1v1h-1zM1 17h1v1h-1zM10 17h1v1h-1zM14 17h1v1h-1zM18 17h2v1h-2zM25 17h2v1h-2zM28 17h1v1h-1z"/><path fill="#ffedac" d="M13 0h1v1h-1zM15 0h1v1h-1zM17 0h3v1h-3zM5 1h1v1h-1zM7 1h1v1h-1zM22 1h1v1h-1zM5 2h1v1h-1zM9 2h1v1h-1zM17 2h2v1h-2zM4 3h1v1h-1zM14 3h2v1h-2zM19 3h1v1h-1zM1 4h2v1h-2zM13 4h1v1h-1zM0 5h1v1h-1zM13 5h1v1h-1zM4 6h1v1h-1zM7 6h1v1h-1zM1 7h1v1h-1zM0 12h1v1h-1zM16 12h1v1h-1zM2 13h1v1h-1zM17 13h1v1h-1zM2 14h1v1h-1zM5 14h1v1h-1zM12 14h2v1h-2zM27 14h1v1h-1zM29 14h1v1h-1zM5 15h1v1h-1zM14 15h1v1h-1zM20 15h1v1h-1zM23 15h1v1h-1zM8 16h1v1h-1zM26 16h1v1h-1zM7 17h2v1h-2zM16 17h1v1h-1z"/><path fill="#fee289" d="M16 0h1v1h-1zM4 2h1v1h-1zM15 2h1v1h-1zM2 3h1v1h-1zM25 3h1v1h-1zM15 4h2v1h-2zM18 4h3v1h-3zM17 8h1v1h-1zM16 9h2v1h-2zM14 10h1v1h-1zM0 11h1v1h-1zM14 11h2v1h-2zM2 12h1v1h-1zM14 12h1v1h-1zM19 12h1v1h-1zM12 13h1v1h-1zM18 13h3v1h-3zM29 13h1v1h-1zM11 14h1v1h-1z"/><path fill="#fede80" d="M25 0h1v1h-1zM4 1h1v1h-1zM25 1h1v1h-1zM0 3h2v1h-2zM26 3h1v1h-1zM23 4h1v1h-1zM29 4h1v1h-1zM15 5h1v1h-1zM19 5h3v1h-3zM27 5h1v1h-1zM29 5h1v1h-1zM4 7h1v1h-1zM11 8h1v1h-1zM13 8h1v1h-1zM18 8h2v1h-2zM14 9h2v1h-2zM12 10h1v1h-1zM2 11h1v1h-1zM12 11h1v1h-1zM18 11h1v1h-1zM20 11h1v1h-1zM3 12h1v1h-1zM20 12h1v1h-1zM28 12h2v1h-2zM27 13h2v1h-2zM24 14h1v1h-1z"/><path fill="#fec45f" d="M27 0h1v1h-1zM28 1h1v1h-1zM20 7h1v1h-1zM4 8h1v1h-1zM29 8h1v1h-1zM21 10h1v1h-1zM3 11h1v1h-1z"/><path fill="#fec863" d="M28 0h1v1h-1zM22 6h1v1h-1zM6 7h1v1h-1zM28 7h2v1h-2zM9 8h1v1h-1zM28 8h1v1h-1zM22 11h1v1h-1zM10 12h1v1h-1zM7 13h1v1h-1zM23 13h1v1h-1z"/><path fill="#feb24c" d="M1 1h1v1h-1zM21 7h1v1h-1zM27 7h1v1h-1zM7 8h1v1h-1zM9 9h1v1h-1zM26 10h1v1h-1zM5 12h1v1h-1zM24 12h1v1h-1z"/><path fill="#fff8d3" d="M8 1h1v1h-1zM7 3h1v1h-1zM5 4h1v1h-1zM7 4h2v1h-2zM5 5h1v1h-1zM0 15h1v1h-1zM16 16h1v1h-1zM22 16h1v1h-1zM3 17h1v1h-1zM6 17h1v1h-1zM20 17h1v1h-1z"/><path fill="#ffe695" d="M19 1h1v1h-1zM24 1h1v1h-1zM24 2h1v1h-1zM3 3h1v1h-1zM22 3h2v1h-2zM0 4h1v1h-1zM17 4h1v1h-1zM5 6h1v1h-1zM2 7h1v1h-1zM10 7h3v1h-3zM0 10h2v1h-2zM15 10h2v1h-2zM16 11h2v1h-2zM12 12h2v1h-2zM17 12h1v1h-1zM3 13h1v1h-1zM13 13h1v1h-1zM15 13h1v1h-1zM4 14h1v1h-1zM6 14h1v1h-1zM20 14h1v1h-1zM26 14h1v1h-1zM8 15h1v1h-1zM11 15h1v1h-1zM21 15h2v1h-2z"/><path fill="#fed976" d="M26 1h1v1h-1zM24 4h1v1h-1zM16 5h1v1h-1zM23 5h2v1h-2zM19 6h1v1h-1zM28 9h2v1h-2zM5 13h2v1h-2zM10 14h1v1h-1zM23 14h1v1h-1z"/><path fill="#fecc68" d="M27 1h1v1h-1zM2 2h1v1h-1zM27 2h3v1h-3zM28 6h1v1h-1zM7 7h1v1h-1zM20 8h1v1h-1zM27 9h1v1h-1zM11 10h1v1h-1zM27 11h1v1h-1zM4 12h1v1h-1zM24 13h1v1h-1z"/><path fill="#febb56" d="M29 1h1v1h-1zM24 6h1v1h-1zM8 8h1v1h-1zM3 10h1v1h-1zM23 12h1v1h-1z"/><path fill="#fff6ca" d="M7 2h1v1h-1zM8 3h1v1h-1zM11 3h1v1h-1zM4 4h1v1h-1zM9 4h3v1h-3zM3 5h1v1h-1zM9 5h4v1h-4zM0 6h1v1h-1zM10 6h1v1h-1zM1 9h1v1h-1zM15 14h1v1h-1zM4 16h1v1h-1zM10 16h2v1h-2zM24 16h1v1h-1zM2 17h1v1h-1zM4 17h2v1h-2z"/><path fill="#fedb7b" d="M26 2h1v1h-1zM28 3h1v1h-1zM22 4h1v1h-1zM25 4h1v1h-1zM18 5h1v1h-1zM22 5h1v1h-1zM26 5h1v1h-1zM28 5h1v1h-1zM29 6h1v1h-1zM14 7h3v1h-3zM18 7h2v1h-2zM3 8h1v1h-1zM12 8h1v1h-1zM15 8h2v1h-2zM2 9h1v1h-1zM19 9h1v1h-1zM2 10h1v1h-1zM18 10h1v1h-1zM28 10h2v1h-2zM19 11h1v1h-1zM28 11h2v1h-2zM11 12h1v1h-1zM21 12h1v1h-1zM27 12h1v1h-1zM4 13h1v1h-1zM11 13h1v1h-1zM21 13h1v1h-1zM26 13h1v1h-1zM7 14h1v1h-1z"/><path fill="#fffada" d="M9 3h1v1h-1zM6 5h1v1h-1zM8 5h1v1h-1zM27 16h1v1h-1z"/><path fill="#fed06c" d="M17 5h1v1h-1zM25 5h1v1h-1zM21 6h1v1h-1zM27 6h1v1h-1zM5 7h1v1h-1zM14 8h1v1h-1zM11 9h1v1h-1zM20 9h1v1h-1zM19 10h2v1h-2zM27 10h1v1h-1zM11 11h1v1h-1zM21 11h1v1h-1zM10 13h1v1h-1z"/><path fill="#feb651" d="M23 6h1v1h-1zM27 8h1v1h-1zM10 10h1v1h-1zM10 11h1v1h-1zM26 11h1v1h-1zM9 12h1v1h-1zM25 12h1v1h-1z"/><path fill="#fd9e43" d="M22 7h1v1h-1zM26 7h1v1h-1zM7 9h1v1h-1zM4 10h1v1h-1z"/><path fill="#fd9941" d="M23 7h1v1h-1zM25 7h1v1h-1zM26 8h1v1h-1zM4 9h1v1h-1zM25 9h1v1h-1zM7 10h1v1h-1zM5 11h1v1h-1zM7 11h1v1h-1z"/><path fill="#fd9640" d="M24 7h1v1h-1zM5 9h2v1h-2zM22 9h1v1h-1zM8 10h1v1h-1zM24 10h1v1h-1z"/><path fill="#fea647" d="M5 8h1v1h-1zM26 9h1v1h-1zM9 11h1v1h-1z"/><path fill="#fea948" d="M6 8h1v1h-1zM9 10h1v1h-1zM23 11h1v1h-1zM6 12h1v1h-1zM8 12h1v1h-1z"/><path fill="#fea145" d="M21 8h1v1h-1zM23 10h1v1h-1zM25 10h1v1h-1zM8 11h1v1h-1zM24 11h1v1h-1zM7 12h1v1h-1z"/><path fill="#fd913e" d="M22 8h1v1h-1zM24 9h1v1h-1zM6 11h1v1h-1z"/><path fill="#fd8c3c" d="M23 8h2v1h-2zM23 9h1v1h-1zM5 10h1v1h-1z"/><path fill="#fd7e38" d="M25 8h1v1h-1z"/><path fill="#fd863a" d="M6 10h1v1h-1z"/></g></g><g filter="url(#bl2)"><ellipse cx="-62" cy="5" rx="12" ry="7" fill="#fd9941" opacity="0.5"/><ellipse cx="22" cy="-6" rx="14" ry="4" fill="#fd913e" opacity="0.5"/><ellipse cx="-24" cy="-5" rx="8" ry="2" fill="#fecc68" opacity="0.6"/><path d="M-81 2 -78 6 -75 11 -72 13 -73 9 -77 4 -79 1z" fill="#fc5d2e" opacity="0.7"/></g></g><path d="M-76.5 11.5L-73 12.3L-70 13.8L-67 16.2L-64.5 18.8L-63.3 21L-63.8 24L-65.8 27L-68.3 29.4L-69.8 28.5L-70.3 24L-70.3 19L-71.5 17.2L-74 15.5L-76.5 12.5Z" fill="#fff"/><use href="#cst"/><use href="#grd"/><use href="#aroct"/><rect x="-33.7" y="-25.3" width="16" height="49.6" fill="none" stroke="#111" stroke-width="1.5" vector-effect="non-scaling-stroke"/></svg><rect x="276.4" y="423.4" width="171.1" height="99" fill="none" stroke="#222" stroke-width="1"/><path d="M276.4 522.4v2.6M301.39 522.4v2.6M325.29 522.4v2.6M349.73 522.4v2.6M374.17 522.4v2.6M398.61 522.4v2.6M423.06 522.4v2.6M447.5 522.4v2.6M276.4 522.4h-2.6M276.4 497.65h-2.6M276.4 472.9h-2.6M276.4 448.15h-2.6M276.4 423.4h-2.6" stroke="#222" stroke-width=".8"/><g class="tk"><text x="276.4" y="534" text-anchor="middle">−90</text><text x="301.39" y="534" text-anchor="middle">−70</text><text x="325.29" y="534" text-anchor="middle">−50</text><text x="349.73" y="534" text-anchor="middle">−30</text><text x="374.17" y="534" text-anchor="middle">−10</text><text x="398.61" y="534" text-anchor="middle">10</text><text x="423.06" y="534" text-anchor="middle">30</text><text x="447.5" y="534" text-anchor="middle">50</text><text x="270.9" y="525.7" text-anchor="end">−40</text><text x="270.9" y="500.95" text-anchor="end">−20</text><text x="270.9" y="476.2" text-anchor="end">0</text><text x="270.9" y="451.45" text-anchor="end">20</text><text x="270.9" y="426.7" text-anchor="end">40</text></g><linearGradient id="cb0" x1="0" y1="1" x2="0" y2="0"><stop offset="0" stop-color="#2e2a6e"/><stop offset="0.03" stop-color="#373080"/><stop offset="0.05" stop-color="#403591"/><stop offset="0.07" stop-color="#483a9e"/><stop offset="0.1" stop-color="#4d3ea7"/><stop offset="0.12" stop-color="#5242b0"/><stop offset="0.15" stop-color="#4648ba"/><stop offset="0.17" stop-color="#3b4dc3"/><stop offset="0.2" stop-color="#3154cc"/><stop offset="0.23" stop-color="#285cd4"/><stop offset="0.25" stop-color="#1f64dc"/><stop offset="0.28" stop-color="#2c75de"/><stop offset="0.3" stop-color="#3986df"/><stop offset="0.33" stop-color="#4d98e2"/><stop offset="0.35" stop-color="#69ace5"/><stop offset="0.38" stop-color="#85c0e8"/><stop offset="0.4" stop-color="#6dbddb"/><stop offset="0.42" stop-color="#54bace"/><stop offset="0.45" stop-color="#43b6bf"/><stop offset="0.47" stop-color="#3ab1ae"/><stop offset="0.5" stop-color="#30ac9c"/><stop offset="0.53" stop-color="#43a972"/><stop offset="0.55" stop-color="#65ad46"/><stop offset="0.57" stop-color="#8bb330"/><stop offset="0.6" stop-color="#b2b932"/><stop offset="0.62" stop-color="#d8bc38"/><stop offset="0.65" stop-color="#ebb938"/><stop offset="0.68" stop-color="#f5ae2e"/><stop offset="0.7" stop-color="#f8a123"/><stop offset="0.72" stop-color="#f8921a"/><stop offset="0.75" stop-color="#f88410"/><stop offset="0.78" stop-color="#f57a16"/><stop offset="0.8" stop-color="#f26f1d"/><stop offset="0.82" stop-color="#eb6726"/><stop offset="0.85" stop-color="#e26033"/><stop offset="0.88" stop-color="#d85a40"/><stop offset="0.9" stop-color="#d25343"/><stop offset="0.93" stop-color="#cb4c46"/><stop offset="0.95" stop-color="#c34343"/><stop offset="0.97" stop-color="#ba3a3a"/><stop offset="1" stop-color="#b03030"/></linearGradient><rect x="464.1" y="27.3" width="5.6" height="95.1" fill="url(#cb0)" stroke="#222" stroke-width=".8"/><path d="M464.1 27.3L466.9 21.7L469.7 27.3Z" fill="#b03030" stroke="#222" stroke-width=".8" stroke-linejoin="round"/><path d="M469.7 122.4h2.8M469.7 110.51h2.8M469.7 98.62h2.8M469.7 86.74h2.8M469.7 74.85h2.8M469.7 62.96h2.8M469.7 51.07h2.8M469.7 39.19h2.8M469.7 27.3h2.8" stroke="#222" stroke-width=".8"/><g class="tk"><text x="475.1" y="125.2">0</text><text x="475.1" y="113.31">10</text><text x="475.1" y="101.42">20</text><text x="475.1" y="89.54">30</text><text x="475.1" y="77.65">40</text><text x="475.1" y="65.76">50</text><text x="475.1" y="53.87">60</text><text x="475.1" y="41.99">70</text><text x="475.1" y="30.1">80</text></g><text class="tk" transform="translate(493.2 75.95) rotate(-90)" text-anchor="middle">(ppb)</text><linearGradient id="cb1" x1="0" y1="1" x2="0" y2="0"><stop offset="0" stop-color="#2e2a6e"/><stop offset="0.03" stop-color="#373080"/><stop offset="0.05" stop-color="#403591"/><stop offset="0.07" stop-color="#483a9e"/><stop offset="0.1" stop-color="#4d3ea7"/><stop offset="0.12" stop-color="#5242b0"/><stop offset="0.15" stop-color="#4648ba"/><stop offset="0.17" stop-color="#3b4dc3"/><stop offset="0.2" stop-color="#3154cc"/><stop offset="0.23" stop-color="#285cd4"/><stop offset="0.25" stop-color="#1f64dc"/><stop offset="0.28" stop-color="#2c75de"/><stop offset="0.3" stop-color="#3986df"/><stop offset="0.33" stop-color="#4d98e2"/><stop offset="0.35" stop-color="#69ace5"/><stop offset="0.38" stop-color="#85c0e8"/><stop offset="0.4" stop-color="#6dbddb"/><stop offset="0.42" stop-color="#54bace"/><stop offset="0.45" stop-color="#43b6bf"/><stop offset="0.47" stop-color="#3ab1ae"/><stop offset="0.5" stop-color="#30ac9c"/><stop offset="0.53" stop-color="#43a972"/><stop offset="0.55" stop-color="#65ad46"/><stop offset="0.57" stop-color="#8bb330"/><stop offset="0.6" stop-color="#b2b932"/><stop offset="0.62" stop-color="#d8bc38"/><stop offset="0.65" stop-color="#ebb938"/><stop offset="0.68" stop-color="#f5ae2e"/><stop offset="0.7" stop-color="#f8a123"/><stop offset="0.72" stop-color="#f8921a"/><stop offset="0.75" stop-color="#f88410"/><stop offset="0.78" stop-color="#f57a16"/><stop offset="0.8" stop-color="#f26f1d"/><stop offset="0.82" stop-color="#eb6726"/><stop offset="0.85" stop-color="#e26033"/><stop offset="0.88" stop-color="#d85a40"/><stop offset="0.9" stop-color="#d25343"/><stop offset="0.93" stop-color="#cb4c46"/><stop offset="0.95" stop-color="#c34343"/><stop offset="0.97" stop-color="#ba3a3a"/><stop offset="1" stop-color="#b03030"/></linearGradient><rect x="464.1" y="161.4" width="5.6" height="94" fill="url(#cb1)" stroke="#222" stroke-width=".8"/><path d="M464.1 161.4L466.9 155.8L469.7 161.4Z" fill="#b03030" stroke="#222" stroke-width=".8" stroke-linejoin="round"/><path d="M469.7 255.4h2.8M469.7 243.65h2.8M469.7 231.9h2.8M469.7 220.15h2.8M469.7 208.4h2.8M469.7 196.65h2.8M469.7 184.9h2.8M469.7 173.15h2.8M469.7 161.4h2.8" stroke="#222" stroke-width=".8"/><g class="tk"><text x="475.1" y="258.2">0</text><text x="475.1" y="246.45">10</text><text x="475.1" y="234.7">20</text><text x="475.1" y="222.95">30</text><text x="475.1" y="211.2">40</text><text x="475.1" y="199.45">50</text><text x="475.1" y="187.7">60</text><text x="475.1" y="175.95">70</text><text x="475.1" y="164.2">80</text></g><text class="tk" transform="translate(493.2 209.5) rotate(-90)" text-anchor="middle">(ppb)</text><linearGradient id="cb2" x1="0" y1="1" x2="0" y2="0"><stop offset="0" stop-color="#2e2a6e"/><stop offset="0.03" stop-color="#373080"/><stop offset="0.05" stop-color="#403591"/><stop offset="0.07" stop-color="#483a9e"/><stop offset="0.1" stop-color="#4d3ea7"/><stop offset="0.12" stop-color="#5242b0"/><stop offset="0.15" stop-color="#4648ba"/><stop offset="0.17" stop-color="#3b4dc3"/><stop offset="0.2" stop-color="#3154cc"/><stop offset="0.23" stop-color="#285cd4"/><stop offset="0.25" stop-color="#1f64dc"/><stop offset="0.28" stop-color="#2c75de"/><stop offset="0.3" stop-color="#3986df"/><stop offset="0.33" stop-color="#4d98e2"/><stop offset="0.35" stop-color="#69ace5"/><stop offset="0.38" stop-color="#85c0e8"/><stop offset="0.4" stop-color="#6dbddb"/><stop offset="0.42" stop-color="#54bace"/><stop offset="0.45" stop-color="#43b6bf"/><stop offset="0.47" stop-color="#3ab1ae"/><stop offset="0.5" stop-color="#30ac9c"/><stop offset="0.53" stop-color="#43a972"/><stop offset="0.55" stop-color="#65ad46"/><stop offset="0.57" stop-color="#8bb330"/><stop offset="0.6" stop-color="#b2b932"/><stop offset="0.62" stop-color="#d8bc38"/><stop offset="0.65" stop-color="#ebb938"/><stop offset="0.68" stop-color="#f5ae2e"/><stop offset="0.7" stop-color="#f8a123"/><stop offset="0.72" stop-color="#f8921a"/><stop offset="0.75" stop-color="#f88410"/><stop offset="0.78" stop-color="#f57a16"/><stop offset="0.8" stop-color="#f26f1d"/><stop offset="0.82" stop-color="#eb6726"/><stop offset="0.85" stop-color="#e26033"/><stop offset="0.88" stop-color="#d85a40"/><stop offset="0.9" stop-color="#d25343"/><stop offset="0.93" stop-color="#cb4c46"/><stop offset="0.95" stop-color="#c34343"/><stop offset="0.97" stop-color="#ba3a3a"/><stop offset="1" stop-color="#b03030"/></linearGradient><rect x="464.1" y="294.4" width="5.6" height="95" fill="url(#cb2)" stroke="#222" stroke-width=".8"/><path d="M464.1 294.4L466.9 288.8L469.7 294.4Z" fill="#b03030" stroke="#222" stroke-width=".8" stroke-linejoin="round"/><path d="M469.7 389.4h2.8M469.7 377.52h2.8M469.7 365.65h2.8M469.7 353.77h2.8M469.7 341.9h2.8M469.7 330.02h2.8M469.7 318.15h2.8M469.7 306.27h2.8M469.7 294.4h2.8" stroke="#222" stroke-width=".8"/><g class="tk"><text x="475.1" y="392.2">0</text><text x="475.1" y="380.32">10</text><text x="475.1" y="368.45">20</text><text x="475.1" y="356.57">30</text><text x="475.1" y="344.7">40</text><text x="475.1" y="332.82">50</text><text x="475.1" y="320.95">60</text><text x="475.1" y="309.07">70</text><text x="475.1" y="297.2">80</text></g><text class="tk" transform="translate(493.2 343) rotate(-90)" text-anchor="middle">(ppb)</text><linearGradient id="cb3" x1="0" y1="1" x2="0" y2="0"><stop offset="0" stop-color="#fffffc"/><stop offset="0.03" stop-color="#fffff6"/><stop offset="0.05" stop-color="#fffeef"/><stop offset="0.07" stop-color="#fffce5"/><stop offset="0.1" stop-color="#fffada"/><stop offset="0.12" stop-color="#fff7ce"/><stop offset="0.15" stop-color="#fff3c0"/><stop offset="0.17" stop-color="#ffefb1"/><stop offset="0.2" stop-color="#ffeaa1"/><stop offset="0.23" stop-color="#ffe48f"/><stop offset="0.25" stop-color="#fee084"/><stop offset="0.28" stop-color="#fedd7e"/><stop offset="0.3" stop-color="#fed976"/><stop offset="0.33" stop-color="#fed36f"/><stop offset="0.35" stop-color="#fecc68"/><stop offset="0.38" stop-color="#fec561"/><stop offset="0.4" stop-color="#febf5a"/><stop offset="0.42" stop-color="#feb953"/><stop offset="0.45" stop-color="#feb24c"/><stop offset="0.47" stop-color="#feac49"/><stop offset="0.5" stop-color="#fea647"/><stop offset="0.53" stop-color="#fd9f44"/><stop offset="0.55" stop-color="#fd9941"/><stop offset="0.57" stop-color="#fd933f"/><stop offset="0.6" stop-color="#fd8c3c"/><stop offset="0.62" stop-color="#fd8239"/><stop offset="0.65" stop-color="#fd7836"/><stop offset="0.68" stop-color="#fc6c33"/><stop offset="0.7" stop-color="#fc6330"/><stop offset="0.72" stop-color="#fc592d"/><stop offset="0.75" stop-color="#fc4d2a"/><stop offset="0.78" stop-color="#f84528"/><stop offset="0.8" stop-color="#f43d25"/><stop offset="0.82" stop-color="#ef3323"/><stop offset="0.85" stop-color="#eb2b21"/><stop offset="0.88" stop-color="#e7231e"/><stop offset="0.9" stop-color="#e2191c"/><stop offset="0.93" stop-color="#dc151e"/><stop offset="0.95" stop-color="#d6111f"/><stop offset="0.97" stop-color="#cf0c21"/><stop offset="1" stop-color="#c90823"/></linearGradient><rect x="464.1" y="427.7" width="5.6" height="94.7" fill="url(#cb3)" stroke="#222" stroke-width=".8"/><path d="M464.1 427.7L466.9 422.1L469.7 427.7Z" fill="#9b0026" stroke="#222" stroke-width=".8" stroke-linejoin="round"/><path d="M469.7 522.4h2.8M469.7 506.62h2.8M469.7 490.83h2.8M469.7 475.05h2.8M469.7 459.27h2.8M469.7 443.48h2.8M469.7 427.7h2.8" stroke="#222" stroke-width=".8"/><g class="tk"><text x="475.1" y="525.2">0</text><text x="475.1" y="509.42">10</text><text x="475.1" y="493.63">20</text><text x="475.1" y="477.85">30</text><text x="475.1" y="462.07">40</text><text x="475.1" y="446.28">50</text><text x="475.1" y="430.5">60</text></g><text class="tk" transform="translate(493.2 476.15) rotate(-90)" text-anchor="middle">(%)</text><text class="tt" x="139.6" y="14" text-anchor="middle">February 2017</text><text class="tt" x="363.2" y="14" text-anchor="middle">October 2017</text><text class="tt" x="37.2" y="15.8" text-anchor="end">(a)</text><text class="tt" x="260.4" y="15.8" text-anchor="end">(b)</text><text class="tt" x="37.2" y="149.9" text-anchor="end">(c)</text><text class="tt" x="260.4" y="149.9" text-anchor="end">(d)</text><text class="tt" x="37.2" y="282.9" text-anchor="end">(e)</text><text class="tt" x="260.4" y="282.9" text-anchor="end">(f)</text><text class="tt" x="37.2" y="416.9" text-anchor="end">(g)</text><text class="tt" x="260.4" y="416.9" text-anchor="end">(h)</text><text class="yl" style="font-size:12.2px" transform="translate(28.3 72.35) rotate(-90)" text-anchor="middle">IASI+GOME2</text><text class="yl" style="font-size:12.6px" transform="translate(28.3 205.9) rotate(-90)" text-anchor="middle">TCR-2</text><text class="yl" style="font-size:11.6px" transform="translate(28.3 339.4) rotate(-90)" text-anchor="middle">CAMS reanalysis</text><text class="yl" transform="translate(14.2 472.4) rotate(-90)" text-anchor="middle">Coefficient of</text><text class="yl" transform="translate(28.4 472.4) rotate(-90)" text-anchor="middle">variation</text><path d="M408 540H419.4" stroke="#333" stroke-width=".8"/><path d="M419.8 540l-2.2 -1v2z" fill="#333"/><text class="tk" x="426.2" y="542.8">10 (m/s)</text></svg></body></html>
